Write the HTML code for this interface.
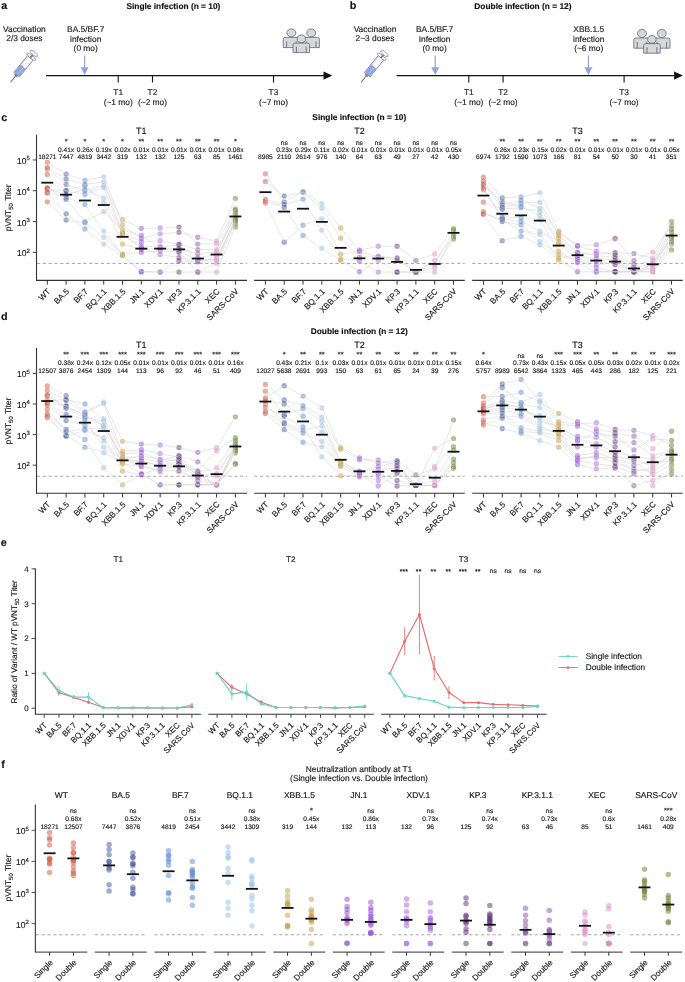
<!DOCTYPE html>
<html><head><meta charset="utf-8"><style>
html,body{margin:0;padding:0;background:#fff;width:685px;height:982px;overflow:hidden;}
svg{display:block;font-family:"Liberation Sans", sans-serif;text-rendering:geometricPrecision;will-change:transform;}
text{stroke:#1a1a1a;stroke-width:0.15px;}
</style></head><body>
<svg width="685" height="982" viewBox="0 0 685 982" font-family='"Liberation Sans", sans-serif'>
<rect width="685" height="982" fill="#fff"/>
<text x="1.30" y="8.90" font-size="10.8" text-anchor="start" font-weight="bold" fill="#111">a</text>
<text x="349.80" y="8.90" font-size="10.8" text-anchor="start" font-weight="bold" fill="#111">b</text>
<text x="1.30" y="120.60" font-size="10.8" text-anchor="start" font-weight="bold" fill="#111">c</text>
<text x="0.90" y="320.00" font-size="10.8" text-anchor="start" font-weight="bold" fill="#111">d</text>
<text x="0.70" y="545.60" font-size="10.8" text-anchor="start" font-weight="bold" fill="#111">e</text>
<text x="1.30" y="768.00" font-size="10.8" text-anchor="start" font-weight="bold" fill="#111">f</text>
<text x="173.40" y="9.00" font-size="8.35" text-anchor="middle" font-weight="bold" fill="#111">Single infection (n = 10)</text>
<text x="522.90" y="9.00" font-size="8.35" text-anchor="middle" font-weight="bold" fill="#111">Double infection (n = 12)</text>
<text x="24.40" y="31.60" font-size="8.4" text-anchor="middle" fill="#222">Vaccination</text>
<text x="24.40" y="41.40" font-size="8.4" text-anchor="middle" fill="#222">2/3 doses</text>
<g transform="translate(10.60 82.20) rotate(-51) scale(1.08)">
<line x1="0" y1="0" x2="8.5" y2="0" stroke="#5a6080" stroke-width="0.9"/>
<rect x="7.5" y="-1.4" width="1.6" height="2.8" fill="#7f8fc0" stroke="#55597a" stroke-width="0.5"/>
<rect x="9" y="-3.3" width="20" height="6.6" fill="#fbfbfd" stroke="#55597a" stroke-width="0.6"/>
<rect x="9.3" y="-3.0" width="9.3" height="6.0" fill="#8ea6da"/>
<line x1="11" y1="0.6" x2="17.5" y2="0.6" stroke="#c9d4f0" stroke-width="0.7"/>
<line x1="19.5" y1="-3.2" x2="19.5" y2="-1.6" stroke="#8088a8" stroke-width="0.4"/>
<line x1="21.5" y1="-3.2" x2="21.5" y2="-1.6" stroke="#8088a8" stroke-width="0.4"/>
<line x1="23.5" y1="-3.2" x2="23.5" y2="-1.6" stroke="#8088a8" stroke-width="0.4"/>
<line x1="25.5" y1="-3.2" x2="25.5" y2="-1.6" stroke="#8088a8" stroke-width="0.4"/>
<line x1="27.5" y1="-3.2" x2="27.5" y2="-1.6" stroke="#8088a8" stroke-width="0.4"/>
<ellipse cx="30.3" cy="0" rx="1.4" ry="5.0" fill="#f4f4f6" stroke="#7a7c88" stroke-width="0.6"/>
<line x1="29" y1="0" x2="34" y2="0" stroke="#7a7c88" stroke-width="1.6"/>
<ellipse cx="34.2" cy="0" rx="1.6" ry="4.2" fill="#f4f4f6" stroke="#7a7c88" stroke-width="0.6"/>
</g>
<text x="85.70" y="31.60" font-size="8.4" text-anchor="middle" fill="#222">BA.5/BF.7</text>
<text x="85.70" y="41.50" font-size="8.4" text-anchor="middle" fill="#222">infection</text>
<text x="85.70" y="51.40" font-size="8.4" text-anchor="middle" fill="#222">(0 mo)</text>
<line x1="84.60" y1="55.40" x2="84.60" y2="68.00" stroke="#8ea6da" stroke-width="1.2"/>
<path d="M80.60,67.20 L88.60,67.20 L84.60,75.00 Z" fill="#8ea6da"/>
<line x1="46.00" y1="75.6" x2="325.00" y2="75.6" stroke="#111" stroke-width="1.3"/>
<path d="M323.50,71.4 L332.30,75.6 L323.50,79.8 Z" fill="#111"/>
<line x1="118.20" y1="75.60" x2="118.20" y2="82.50" stroke="#111" stroke-width="1.1"/>
<text x="118.20" y="94.70" font-size="8.4" text-anchor="middle" fill="#222">T1</text>
<text x="118.20" y="104.70" font-size="8.4" text-anchor="middle" fill="#222">(~1 mo)</text>
<line x1="152.50" y1="75.60" x2="152.50" y2="82.50" stroke="#111" stroke-width="1.1"/>
<text x="152.50" y="94.70" font-size="8.4" text-anchor="middle" fill="#222">T2</text>
<text x="152.50" y="104.70" font-size="8.4" text-anchor="middle" fill="#222">(~2 mo)</text>
<line x1="273.50" y1="75.60" x2="273.50" y2="82.50" stroke="#111" stroke-width="1.1"/>
<text x="273.50" y="94.70" font-size="8.4" text-anchor="middle" fill="#222">T3</text>
<text x="273.50" y="104.70" font-size="8.4" text-anchor="middle" fill="#222">(~7 mo)</text>
<g transform="translate(0 0)">
<path d="M283.20,47.6 L283.20,39.2 Q283.20,37.4 285.00,37.4 L297.80,37.4 Q299.60,37.4 299.60,39.2 L299.60,47.6 Z" fill="#d6d7d9" stroke="#5b5e72" stroke-width="0.75" transform="translate(0 0)"/>
<ellipse cx="291.40" cy="32.9" rx="4.45" ry="4.0" fill="#d6d7d9" stroke="#5b5e72" stroke-width="0.75"/>
<line x1="286.60" y1="41.3" x2="286.60" y2="47.6" stroke="#5b5e72" stroke-width="0.8"/>
<line x1="296.20" y1="41.3" x2="296.20" y2="47.6" stroke="#5b5e72" stroke-width="0.8"/>
<path d="M303.00,47.6 L303.00,39.2 Q303.00,37.4 304.80,37.4 L317.60,37.4 Q319.40,37.4 319.40,39.2 L319.40,47.6 Z" fill="#d6d7d9" stroke="#5b5e72" stroke-width="0.75" transform="translate(0 0)"/>
<ellipse cx="311.20" cy="32.9" rx="4.45" ry="4.0" fill="#d6d7d9" stroke="#5b5e72" stroke-width="0.75"/>
<line x1="306.40" y1="41.3" x2="306.40" y2="47.6" stroke="#5b5e72" stroke-width="0.8"/>
<line x1="316.00" y1="41.3" x2="316.00" y2="47.6" stroke="#5b5e72" stroke-width="0.8"/>
<path d="M293.00,52.6 L293.00,44.9 Q293.00,43.1 294.80,43.1 L307.80,43.1 Q309.60,43.1 309.60,44.9 L309.60,52.6 Z" fill="#d6d7d9" stroke="#5b5e72" stroke-width="0.75"/>
<ellipse cx="301.30" cy="38.8" rx="4.2" ry="3.8" fill="#d6d7d9" stroke="#5b5e72" stroke-width="0.75"/>
<line x1="296.40" y1="46.6" x2="296.40" y2="52.6" stroke="#5b5e72" stroke-width="0.8"/>
<line x1="306.20" y1="46.6" x2="306.20" y2="52.6" stroke="#5b5e72" stroke-width="0.8"/>
</g>
<text x="375.00" y="31.60" font-size="8.4" text-anchor="middle" fill="#222">Vaccination</text>
<text x="375.00" y="41.40" font-size="8.4" text-anchor="middle" fill="#222">2~3 doses</text>
<g transform="translate(361.20 82.20) rotate(-51) scale(1.08)">
<line x1="0" y1="0" x2="8.5" y2="0" stroke="#5a6080" stroke-width="0.9"/>
<rect x="7.5" y="-1.4" width="1.6" height="2.8" fill="#7f8fc0" stroke="#55597a" stroke-width="0.5"/>
<rect x="9" y="-3.3" width="20" height="6.6" fill="#fbfbfd" stroke="#55597a" stroke-width="0.6"/>
<rect x="9.3" y="-3.0" width="9.3" height="6.0" fill="#8ea6da"/>
<line x1="11" y1="0.6" x2="17.5" y2="0.6" stroke="#c9d4f0" stroke-width="0.7"/>
<line x1="19.5" y1="-3.2" x2="19.5" y2="-1.6" stroke="#8088a8" stroke-width="0.4"/>
<line x1="21.5" y1="-3.2" x2="21.5" y2="-1.6" stroke="#8088a8" stroke-width="0.4"/>
<line x1="23.5" y1="-3.2" x2="23.5" y2="-1.6" stroke="#8088a8" stroke-width="0.4"/>
<line x1="25.5" y1="-3.2" x2="25.5" y2="-1.6" stroke="#8088a8" stroke-width="0.4"/>
<line x1="27.5" y1="-3.2" x2="27.5" y2="-1.6" stroke="#8088a8" stroke-width="0.4"/>
<ellipse cx="30.3" cy="0" rx="1.4" ry="5.0" fill="#f4f4f6" stroke="#7a7c88" stroke-width="0.6"/>
<line x1="29" y1="0" x2="34" y2="0" stroke="#7a7c88" stroke-width="1.6"/>
<ellipse cx="34.2" cy="0" rx="1.6" ry="4.2" fill="#f4f4f6" stroke="#7a7c88" stroke-width="0.6"/>
</g>
<text x="434.60" y="31.60" font-size="8.4" text-anchor="middle" fill="#222">BA.5/BF.7</text>
<text x="434.60" y="41.50" font-size="8.4" text-anchor="middle" fill="#222">Infection</text>
<text x="434.60" y="51.40" font-size="8.4" text-anchor="middle" fill="#222">(0 mo)</text>
<line x1="435.20" y1="55.40" x2="435.20" y2="68.00" stroke="#8ea6da" stroke-width="1.2"/>
<path d="M431.20,67.20 L439.20,67.20 L435.20,75.00 Z" fill="#8ea6da"/>
<line x1="396.60" y1="75.6" x2="675.60" y2="75.6" stroke="#111" stroke-width="1.3"/>
<path d="M674.10,71.4 L682.90,75.6 L674.10,79.8 Z" fill="#111"/>
<line x1="468.80" y1="75.60" x2="468.80" y2="82.50" stroke="#111" stroke-width="1.1"/>
<text x="468.80" y="94.70" font-size="8.4" text-anchor="middle" fill="#222">T1</text>
<text x="468.80" y="104.70" font-size="8.4" text-anchor="middle" fill="#222">(~1 mo)</text>
<line x1="503.10" y1="75.60" x2="503.10" y2="82.50" stroke="#111" stroke-width="1.1"/>
<text x="503.10" y="94.70" font-size="8.4" text-anchor="middle" fill="#222">T2</text>
<text x="503.10" y="104.70" font-size="8.4" text-anchor="middle" fill="#222">(~2 mo)</text>
<line x1="624.10" y1="75.60" x2="624.10" y2="82.50" stroke="#111" stroke-width="1.1"/>
<text x="624.10" y="94.70" font-size="8.4" text-anchor="middle" fill="#222">T3</text>
<text x="624.10" y="104.70" font-size="8.4" text-anchor="middle" fill="#222">(~7 mo)</text>
<g transform="translate(0 0.6)">
<path d="M283.20,47.6 L283.20,39.2 Q283.20,37.4 285.00,37.4 L297.80,37.4 Q299.60,37.4 299.60,39.2 L299.60,47.6 Z" fill="#d6d7d9" stroke="#5b5e72" stroke-width="0.75" transform="translate(350.6 0)"/>
<ellipse cx="642.00" cy="32.9" rx="4.45" ry="4.0" fill="#d6d7d9" stroke="#5b5e72" stroke-width="0.75"/>
<line x1="637.20" y1="41.3" x2="637.20" y2="47.6" stroke="#5b5e72" stroke-width="0.8"/>
<line x1="646.80" y1="41.3" x2="646.80" y2="47.6" stroke="#5b5e72" stroke-width="0.8"/>
<path d="M303.00,47.6 L303.00,39.2 Q303.00,37.4 304.80,37.4 L317.60,37.4 Q319.40,37.4 319.40,39.2 L319.40,47.6 Z" fill="#d6d7d9" stroke="#5b5e72" stroke-width="0.75" transform="translate(350.6 0)"/>
<ellipse cx="661.80" cy="32.9" rx="4.45" ry="4.0" fill="#d6d7d9" stroke="#5b5e72" stroke-width="0.75"/>
<line x1="657.00" y1="41.3" x2="657.00" y2="47.6" stroke="#5b5e72" stroke-width="0.8"/>
<line x1="666.60" y1="41.3" x2="666.60" y2="47.6" stroke="#5b5e72" stroke-width="0.8"/>
<path d="M643.60,52.6 L643.60,44.9 Q643.60,43.1 645.40,43.1 L658.40,43.1 Q660.20,43.1 660.20,44.9 L660.20,52.6 Z" fill="#d6d7d9" stroke="#5b5e72" stroke-width="0.75"/>
<ellipse cx="651.90" cy="38.8" rx="4.2" ry="3.8" fill="#d6d7d9" stroke="#5b5e72" stroke-width="0.75"/>
<line x1="647.00" y1="46.6" x2="647.00" y2="52.6" stroke="#5b5e72" stroke-width="0.8"/>
<line x1="656.80" y1="46.6" x2="656.80" y2="52.6" stroke="#5b5e72" stroke-width="0.8"/>
</g>
<text x="588.70" y="31.60" font-size="8.4" text-anchor="middle" fill="#222">XBB.1.5</text>
<text x="588.70" y="41.50" font-size="8.4" text-anchor="middle" fill="#222">infection</text>
<text x="588.70" y="51.40" font-size="8.4" text-anchor="middle" fill="#222">(~6 mo)</text>
<line x1="588.40" y1="55.40" x2="588.40" y2="68.00" stroke="#8ea6da" stroke-width="1.2"/>
<path d="M584.40,67.20 L592.40,67.20 L588.40,75.00 Z" fill="#8ea6da"/>
<text x="359.30" y="120.40" font-size="8.35" text-anchor="middle" font-weight="bold" fill="#111">Single infection (n = 10)</text>
<text font-size="8.4" text-anchor="middle" fill="#222" transform="translate(11.00 207.80) rotate(-90)">pVNT<tspan font-size="6.05" dy="2">50</tspan><tspan dy="-2"> Titer</tspan></text>
<line x1="37.00" y1="263.44" x2="247.10" y2="263.44" stroke="#9c9c9c" stroke-width="0.9" stroke-dasharray="3.2 2.6"/>
<circle cx="47.30" cy="162.11" r="2.65" fill="#cf5a44" fill-opacity="0.5"/>
<circle cx="47.30" cy="167.34" r="2.65" fill="#cf5a44" fill-opacity="0.5"/>
<circle cx="47.30" cy="169.19" r="2.65" fill="#cf5a44" fill-opacity="0.5"/>
<circle cx="47.30" cy="174.43" r="2.65" fill="#cf5a44" fill-opacity="0.5"/>
<circle cx="47.30" cy="187.67" r="2.65" fill="#cf5a44" fill-opacity="0.5"/>
<circle cx="47.30" cy="188.29" r="2.65" fill="#cf5a44" fill-opacity="0.5"/>
<circle cx="47.30" cy="189.21" r="2.65" fill="#cf5a44" fill-opacity="0.5"/>
<circle cx="47.30" cy="193.21" r="2.65" fill="#cf5a44" fill-opacity="0.5"/>
<circle cx="47.30" cy="201.84" r="2.65" fill="#cf5a44" fill-opacity="0.5"/>
<circle cx="47.30" cy="192.29" r="2.65" fill="#cf5a44" fill-opacity="0.5"/>
<circle cx="66.11" cy="174.12" r="2.65" fill="#3f56a0" fill-opacity="0.5"/>
<circle cx="66.11" cy="179.05" r="2.65" fill="#3f56a0" fill-opacity="0.5"/>
<circle cx="66.11" cy="184.28" r="2.65" fill="#3f56a0" fill-opacity="0.5"/>
<circle cx="66.11" cy="190.75" r="2.65" fill="#3f56a0" fill-opacity="0.5"/>
<circle cx="66.11" cy="190.75" r="2.65" fill="#3f56a0" fill-opacity="0.5"/>
<circle cx="66.11" cy="194.75" r="2.65" fill="#3f56a0" fill-opacity="0.5"/>
<circle cx="66.11" cy="197.22" r="2.65" fill="#3f56a0" fill-opacity="0.5"/>
<circle cx="66.11" cy="199.37" r="2.65" fill="#3f56a0" fill-opacity="0.5"/>
<circle cx="66.11" cy="213.85" r="2.65" fill="#3f56a0" fill-opacity="0.5"/>
<circle cx="66.11" cy="220.01" r="2.65" fill="#3f56a0" fill-opacity="0.5"/>
<circle cx="84.92" cy="180.28" r="2.65" fill="#5a88d0" fill-opacity="0.5"/>
<circle cx="84.92" cy="184.59" r="2.65" fill="#5a88d0" fill-opacity="0.5"/>
<circle cx="84.92" cy="185.21" r="2.65" fill="#5a88d0" fill-opacity="0.5"/>
<circle cx="84.92" cy="189.21" r="2.65" fill="#5a88d0" fill-opacity="0.5"/>
<circle cx="84.92" cy="190.75" r="2.65" fill="#5a88d0" fill-opacity="0.5"/>
<circle cx="84.92" cy="194.45" r="2.65" fill="#5a88d0" fill-opacity="0.5"/>
<circle cx="84.92" cy="204.61" r="2.65" fill="#5a88d0" fill-opacity="0.5"/>
<circle cx="84.92" cy="221.55" r="2.65" fill="#5a88d0" fill-opacity="0.5"/>
<circle cx="84.92" cy="222.78" r="2.65" fill="#5a88d0" fill-opacity="0.5"/>
<circle cx="84.92" cy="228.94" r="2.65" fill="#5a88d0" fill-opacity="0.5"/>
<circle cx="103.73" cy="176.58" r="2.65" fill="#94bfe6" fill-opacity="0.5"/>
<circle cx="103.73" cy="181.82" r="2.65" fill="#94bfe6" fill-opacity="0.5"/>
<circle cx="103.73" cy="185.82" r="2.65" fill="#94bfe6" fill-opacity="0.5"/>
<circle cx="103.73" cy="187.67" r="2.65" fill="#94bfe6" fill-opacity="0.5"/>
<circle cx="103.73" cy="197.83" r="2.65" fill="#94bfe6" fill-opacity="0.5"/>
<circle cx="103.73" cy="202.76" r="2.65" fill="#94bfe6" fill-opacity="0.5"/>
<circle cx="103.73" cy="211.69" r="2.65" fill="#94bfe6" fill-opacity="0.5"/>
<circle cx="103.73" cy="231.10" r="2.65" fill="#94bfe6" fill-opacity="0.5"/>
<circle cx="103.73" cy="237.26" r="2.65" fill="#94bfe6" fill-opacity="0.5"/>
<circle cx="103.73" cy="244.03" r="2.65" fill="#94bfe6" fill-opacity="0.5"/>
<circle cx="122.54" cy="219.70" r="2.65" fill="#c89a3c" fill-opacity="0.5"/>
<circle cx="122.54" cy="224.94" r="2.65" fill="#c89a3c" fill-opacity="0.5"/>
<circle cx="122.54" cy="229.87" r="2.65" fill="#c89a3c" fill-opacity="0.5"/>
<circle cx="122.54" cy="232.33" r="2.65" fill="#c89a3c" fill-opacity="0.5"/>
<circle cx="122.54" cy="233.87" r="2.65" fill="#c89a3c" fill-opacity="0.5"/>
<circle cx="122.54" cy="234.49" r="2.65" fill="#c89a3c" fill-opacity="0.5"/>
<circle cx="122.54" cy="244.03" r="2.65" fill="#c89a3c" fill-opacity="0.5"/>
<circle cx="122.54" cy="253.89" r="2.65" fill="#c89a3c" fill-opacity="0.5"/>
<circle cx="122.54" cy="254.81" r="2.65" fill="#c89a3c" fill-opacity="0.5"/>
<circle cx="122.54" cy="255.74" r="2.65" fill="#c89a3c" fill-opacity="0.5"/>
<circle cx="141.35" cy="228.33" r="2.65" fill="#9346d6" fill-opacity="0.5"/>
<circle cx="141.35" cy="235.41" r="2.65" fill="#9346d6" fill-opacity="0.5"/>
<circle cx="141.35" cy="238.49" r="2.65" fill="#9346d6" fill-opacity="0.5"/>
<circle cx="141.35" cy="241.88" r="2.65" fill="#9346d6" fill-opacity="0.5"/>
<circle cx="141.35" cy="246.19" r="2.65" fill="#9346d6" fill-opacity="0.5"/>
<circle cx="141.35" cy="248.04" r="2.65" fill="#9346d6" fill-opacity="0.5"/>
<circle cx="141.35" cy="249.27" r="2.65" fill="#9346d6" fill-opacity="0.5"/>
<circle cx="141.35" cy="252.35" r="2.65" fill="#9346d6" fill-opacity="0.5"/>
<circle cx="141.35" cy="271.75" r="2.65" fill="#9346d6" fill-opacity="0.5"/>
<circle cx="141.35" cy="271.75" r="2.65" fill="#9346d6" fill-opacity="0.5"/>
<circle cx="160.16" cy="228.02" r="2.65" fill="#a464dc" fill-opacity="0.5"/>
<circle cx="160.16" cy="233.87" r="2.65" fill="#a464dc" fill-opacity="0.5"/>
<circle cx="160.16" cy="240.65" r="2.65" fill="#a464dc" fill-opacity="0.5"/>
<circle cx="160.16" cy="246.50" r="2.65" fill="#a464dc" fill-opacity="0.5"/>
<circle cx="160.16" cy="247.73" r="2.65" fill="#a464dc" fill-opacity="0.5"/>
<circle cx="160.16" cy="248.65" r="2.65" fill="#a464dc" fill-opacity="0.5"/>
<circle cx="160.16" cy="250.81" r="2.65" fill="#a464dc" fill-opacity="0.5"/>
<circle cx="160.16" cy="254.51" r="2.65" fill="#a464dc" fill-opacity="0.5"/>
<circle cx="160.16" cy="272.06" r="2.65" fill="#a464dc" fill-opacity="0.5"/>
<circle cx="160.16" cy="272.06" r="2.65" fill="#a464dc" fill-opacity="0.5"/>
<circle cx="178.97" cy="227.09" r="2.65" fill="#5e2a78" fill-opacity="0.5"/>
<circle cx="178.97" cy="232.33" r="2.65" fill="#5e2a78" fill-opacity="0.5"/>
<circle cx="178.97" cy="244.03" r="2.65" fill="#5e2a78" fill-opacity="0.5"/>
<circle cx="178.97" cy="245.27" r="2.65" fill="#5e2a78" fill-opacity="0.5"/>
<circle cx="178.97" cy="248.96" r="2.65" fill="#5e2a78" fill-opacity="0.5"/>
<circle cx="178.97" cy="250.81" r="2.65" fill="#5e2a78" fill-opacity="0.5"/>
<circle cx="178.97" cy="252.35" r="2.65" fill="#5e2a78" fill-opacity="0.5"/>
<circle cx="178.97" cy="257.59" r="2.65" fill="#5e2a78" fill-opacity="0.5"/>
<circle cx="178.97" cy="260.97" r="2.65" fill="#5e2a78" fill-opacity="0.5"/>
<circle cx="178.97" cy="272.06" r="2.65" fill="#5e2a78" fill-opacity="0.5"/>
<circle cx="197.78" cy="237.26" r="2.65" fill="#8a52a6" fill-opacity="0.5"/>
<circle cx="197.78" cy="244.03" r="2.65" fill="#8a52a6" fill-opacity="0.5"/>
<circle cx="197.78" cy="249.58" r="2.65" fill="#8a52a6" fill-opacity="0.5"/>
<circle cx="197.78" cy="253.89" r="2.65" fill="#8a52a6" fill-opacity="0.5"/>
<circle cx="197.78" cy="258.20" r="2.65" fill="#8a52a6" fill-opacity="0.5"/>
<circle cx="197.78" cy="260.36" r="2.65" fill="#8a52a6" fill-opacity="0.5"/>
<circle cx="197.78" cy="260.97" r="2.65" fill="#8a52a6" fill-opacity="0.5"/>
<circle cx="197.78" cy="261.90" r="2.65" fill="#8a52a6" fill-opacity="0.5"/>
<circle cx="197.78" cy="272.06" r="2.65" fill="#8a52a6" fill-opacity="0.5"/>
<circle cx="197.78" cy="272.06" r="2.65" fill="#8a52a6" fill-opacity="0.5"/>
<circle cx="216.59" cy="240.95" r="2.65" fill="#e08cc8" fill-opacity="0.5"/>
<circle cx="216.59" cy="243.73" r="2.65" fill="#e08cc8" fill-opacity="0.5"/>
<circle cx="216.59" cy="249.58" r="2.65" fill="#e08cc8" fill-opacity="0.5"/>
<circle cx="216.59" cy="251.43" r="2.65" fill="#e08cc8" fill-opacity="0.5"/>
<circle cx="216.59" cy="254.51" r="2.65" fill="#e08cc8" fill-opacity="0.5"/>
<circle cx="216.59" cy="258.51" r="2.65" fill="#e08cc8" fill-opacity="0.5"/>
<circle cx="216.59" cy="258.82" r="2.65" fill="#e08cc8" fill-opacity="0.5"/>
<circle cx="216.59" cy="260.97" r="2.65" fill="#e08cc8" fill-opacity="0.5"/>
<circle cx="216.59" cy="263.13" r="2.65" fill="#e08cc8" fill-opacity="0.5"/>
<circle cx="216.59" cy="272.06" r="2.65" fill="#e08cc8" fill-opacity="0.5"/>
<circle cx="235.40" cy="198.45" r="2.65" fill="#6a7f30" fill-opacity="0.5"/>
<circle cx="235.40" cy="208.92" r="2.65" fill="#6a7f30" fill-opacity="0.5"/>
<circle cx="235.40" cy="210.77" r="2.65" fill="#6a7f30" fill-opacity="0.5"/>
<circle cx="235.40" cy="213.23" r="2.65" fill="#6a7f30" fill-opacity="0.5"/>
<circle cx="235.40" cy="216.01" r="2.65" fill="#6a7f30" fill-opacity="0.5"/>
<circle cx="235.40" cy="218.47" r="2.65" fill="#6a7f30" fill-opacity="0.5"/>
<circle cx="235.40" cy="220.01" r="2.65" fill="#6a7f30" fill-opacity="0.5"/>
<circle cx="235.40" cy="220.93" r="2.65" fill="#6a7f30" fill-opacity="0.5"/>
<circle cx="235.40" cy="223.71" r="2.65" fill="#6a7f30" fill-opacity="0.5"/>
<circle cx="235.40" cy="227.09" r="2.65" fill="#6a7f30" fill-opacity="0.5"/>
<polyline points="47.30,162.11 66.11,174.12 84.92,180.28 103.73,176.58 122.54,224.94 141.35,238.49 160.16,233.87 178.97,232.33 197.78,237.26 216.59,240.95 235.40,198.45" fill="none" stroke="#d2d2d2" stroke-width="0.6" stroke-opacity="0.9"/>
<polyline points="47.30,167.34 66.11,179.05 84.92,184.59 103.73,181.82 122.54,232.33 141.35,241.88 160.16,240.65 178.97,244.03 197.78,249.58 216.59,249.58 235.40,210.77" fill="none" stroke="#d2d2d2" stroke-width="0.6" stroke-opacity="0.9"/>
<polyline points="47.30,169.19 66.11,184.28 84.92,190.75 103.73,185.82 122.54,219.70 141.35,228.33 160.16,228.02 178.97,227.09 197.78,244.03 216.59,243.73 235.40,208.92" fill="none" stroke="#d2d2d2" stroke-width="0.6" stroke-opacity="0.9"/>
<polyline points="47.30,189.21 66.11,190.75 84.92,194.45 103.73,187.67 122.54,234.49 141.35,246.19 160.16,246.50 178.97,245.27 197.78,258.20 216.59,254.51 235.40,213.23" fill="none" stroke="#d2d2d2" stroke-width="0.6" stroke-opacity="0.9"/>
<polyline points="47.30,187.67 66.11,199.37 84.92,221.55 103.73,211.69 122.54,229.87 141.35,235.41 160.16,247.73 178.97,248.96 197.78,253.89 216.59,251.43 235.40,216.01" fill="none" stroke="#d2d2d2" stroke-width="0.6" stroke-opacity="0.9"/>
<polyline points="47.30,188.29 66.11,194.75 84.92,189.21 103.73,197.83 122.54,233.87 141.35,248.04 160.16,254.51 178.97,257.59 197.78,260.97 216.59,260.97 235.40,220.93" fill="none" stroke="#d2d2d2" stroke-width="0.6" stroke-opacity="0.9"/>
<polyline points="47.30,174.43 66.11,190.75 84.92,185.21 103.73,202.76 122.54,244.03 141.35,249.27 160.16,248.65 178.97,250.81 197.78,260.36 216.59,258.82 235.40,220.01" fill="none" stroke="#d2d2d2" stroke-width="0.6" stroke-opacity="0.9"/>
<polyline points="47.30,192.29 66.11,197.22 84.92,204.61 103.73,231.10 122.54,254.81 141.35,271.75 160.16,272.06 178.97,260.97 197.78,261.90 216.59,258.51 235.40,218.47" fill="none" stroke="#d2d2d2" stroke-width="0.6" stroke-opacity="0.9"/>
<polyline points="47.30,201.84 66.11,220.01 84.92,222.78 103.73,237.26 122.54,253.89 141.35,252.35 160.16,250.81 178.97,252.35 197.78,272.06 216.59,263.13 235.40,223.71" fill="none" stroke="#d2d2d2" stroke-width="0.6" stroke-opacity="0.9"/>
<polyline points="47.30,193.21 66.11,213.85 84.92,228.94 103.73,244.03 122.54,255.74 141.35,271.75 160.16,272.06 178.97,272.06 197.78,272.06 216.59,272.06 235.40,227.09" fill="none" stroke="#d2d2d2" stroke-width="0.6" stroke-opacity="0.9"/>
<line x1="41.30" y1="182.69" x2="53.30" y2="182.69" stroke="#111" stroke-width="1.8"/>
<line x1="60.11" y1="194.69" x2="72.11" y2="194.69" stroke="#111" stroke-width="1.8"/>
<line x1="78.92" y1="200.51" x2="90.92" y2="200.51" stroke="#111" stroke-width="1.8"/>
<line x1="97.73" y1="205.02" x2="109.73" y2="205.02" stroke="#111" stroke-width="1.8"/>
<line x1="116.54" y1="236.83" x2="128.54" y2="236.83" stroke="#111" stroke-width="1.8"/>
<line x1="135.35" y1="248.64" x2="147.35" y2="248.64" stroke="#111" stroke-width="1.8"/>
<line x1="154.16" y1="248.64" x2="166.16" y2="248.64" stroke="#111" stroke-width="1.8"/>
<line x1="172.97" y1="249.37" x2="184.97" y2="249.37" stroke="#111" stroke-width="1.8"/>
<line x1="191.78" y1="258.53" x2="203.78" y2="258.53" stroke="#111" stroke-width="1.8"/>
<line x1="210.59" y1="254.52" x2="222.59" y2="254.52" stroke="#111" stroke-width="1.8"/>
<line x1="229.40" y1="216.48" x2="241.40" y2="216.48" stroke="#111" stroke-width="1.8"/>
<text x="47.30" y="159.40" font-size="6.6" text-anchor="middle" fill="#111">18271</text>
<text x="66.11" y="144.10" font-size="7.4" text-anchor="middle" fill="#111">*</text>
<text x="66.11" y="151.70" font-size="6.6" text-anchor="middle" fill="#111">0.41x</text>
<text x="66.11" y="159.40" font-size="6.6" text-anchor="middle" fill="#111">7447</text>
<text x="84.92" y="144.10" font-size="7.4" text-anchor="middle" fill="#111">*</text>
<text x="84.92" y="151.70" font-size="6.6" text-anchor="middle" fill="#111">0.26x</text>
<text x="84.92" y="159.40" font-size="6.6" text-anchor="middle" fill="#111">4819</text>
<text x="103.73" y="144.10" font-size="7.4" text-anchor="middle" fill="#111">*</text>
<text x="103.73" y="151.70" font-size="6.6" text-anchor="middle" fill="#111">0.19x</text>
<text x="103.73" y="159.40" font-size="6.6" text-anchor="middle" fill="#111">3442</text>
<text x="122.54" y="144.10" font-size="7.4" text-anchor="middle" fill="#111">*</text>
<text x="122.54" y="151.70" font-size="6.6" text-anchor="middle" fill="#111">0.02x</text>
<text x="122.54" y="159.40" font-size="6.6" text-anchor="middle" fill="#111">319</text>
<text x="141.35" y="144.10" font-size="7.4" text-anchor="middle" fill="#111">**</text>
<text x="141.35" y="151.70" font-size="6.6" text-anchor="middle" fill="#111">0.01x</text>
<text x="141.35" y="159.40" font-size="6.6" text-anchor="middle" fill="#111">132</text>
<text x="160.16" y="144.10" font-size="7.4" text-anchor="middle" fill="#111">**</text>
<text x="160.16" y="151.70" font-size="6.6" text-anchor="middle" fill="#111">0.01x</text>
<text x="160.16" y="159.40" font-size="6.6" text-anchor="middle" fill="#111">132</text>
<text x="178.97" y="144.10" font-size="7.4" text-anchor="middle" fill="#111">**</text>
<text x="178.97" y="151.70" font-size="6.6" text-anchor="middle" fill="#111">0.01x</text>
<text x="178.97" y="159.40" font-size="6.6" text-anchor="middle" fill="#111">125</text>
<text x="197.78" y="144.10" font-size="7.4" text-anchor="middle" fill="#111">**</text>
<text x="197.78" y="151.70" font-size="6.6" text-anchor="middle" fill="#111">0.01x</text>
<text x="197.78" y="159.40" font-size="6.6" text-anchor="middle" fill="#111">63</text>
<text x="216.59" y="144.10" font-size="7.4" text-anchor="middle" fill="#111">**</text>
<text x="216.59" y="151.70" font-size="6.6" text-anchor="middle" fill="#111">0.01x</text>
<text x="216.59" y="159.40" font-size="6.6" text-anchor="middle" fill="#111">85</text>
<text x="235.40" y="144.10" font-size="7.4" text-anchor="middle" fill="#111">*</text>
<text x="235.40" y="151.70" font-size="6.6" text-anchor="middle" fill="#111">0.08x</text>
<text x="235.40" y="159.40" font-size="6.6" text-anchor="middle" fill="#111">1461</text>
<text x="141.35" y="134.30" font-size="9" text-anchor="middle" fill="#111">T1</text>
<line x1="36.50" y1="280.40" x2="247.10" y2="280.40" stroke="#333" stroke-width="1.1"/>
<line x1="47.30" y1="280.40" x2="47.30" y2="284.60" stroke="#333" stroke-width="1.0"/>
<text font-size="8.2" text-anchor="end" fill="#222" transform="translate(50.90 292.00) rotate(-45)">WT</text>
<line x1="66.11" y1="280.40" x2="66.11" y2="284.60" stroke="#333" stroke-width="1.0"/>
<text font-size="8.2" text-anchor="end" fill="#222" transform="translate(69.71 292.00) rotate(-45)">BA.5</text>
<line x1="84.92" y1="280.40" x2="84.92" y2="284.60" stroke="#333" stroke-width="1.0"/>
<text font-size="8.2" text-anchor="end" fill="#222" transform="translate(88.52 292.00) rotate(-45)">BF.7</text>
<line x1="103.73" y1="280.40" x2="103.73" y2="284.60" stroke="#333" stroke-width="1.0"/>
<text font-size="8.2" text-anchor="end" fill="#222" transform="translate(107.33 292.00) rotate(-45)">BQ.1.1</text>
<line x1="122.54" y1="280.40" x2="122.54" y2="284.60" stroke="#333" stroke-width="1.0"/>
<text font-size="8.2" text-anchor="end" fill="#222" transform="translate(126.14 292.00) rotate(-45)">XBB.1.5</text>
<line x1="141.35" y1="280.40" x2="141.35" y2="284.60" stroke="#333" stroke-width="1.0"/>
<text font-size="8.2" text-anchor="end" fill="#222" transform="translate(144.95 292.00) rotate(-45)">JN.1</text>
<line x1="160.16" y1="280.40" x2="160.16" y2="284.60" stroke="#333" stroke-width="1.0"/>
<text font-size="8.2" text-anchor="end" fill="#222" transform="translate(163.76 292.00) rotate(-45)">XDV.1</text>
<line x1="178.97" y1="280.40" x2="178.97" y2="284.60" stroke="#333" stroke-width="1.0"/>
<text font-size="8.2" text-anchor="end" fill="#222" transform="translate(182.57 292.00) rotate(-45)">KP.3</text>
<line x1="197.78" y1="280.40" x2="197.78" y2="284.60" stroke="#333" stroke-width="1.0"/>
<text font-size="8.2" text-anchor="end" fill="#222" transform="translate(201.38 292.00) rotate(-45)">KP.3.1.1</text>
<line x1="216.59" y1="280.40" x2="216.59" y2="284.60" stroke="#333" stroke-width="1.0"/>
<text font-size="8.2" text-anchor="end" fill="#222" transform="translate(220.19 292.00) rotate(-45)">XEC</text>
<line x1="235.40" y1="280.40" x2="235.40" y2="284.60" stroke="#333" stroke-width="1.0"/>
<text font-size="8.2" text-anchor="end" fill="#222" transform="translate(239.00 292.00) rotate(-45)">SARS-CoV</text>
<line x1="36.50" y1="134.80" x2="36.50" y2="280.95" stroke="#333" stroke-width="1.1"/>
<line x1="32.70" y1="252.35" x2="36.50" y2="252.35" stroke="#333" stroke-width="0.9"/>
<text x="29.90" y="256.35" font-size="8.5" text-anchor="end" fill="#222">10<tspan font-size="5.95" dy="-3.6">2</tspan></text>
<line x1="32.70" y1="221.55" x2="36.50" y2="221.55" stroke="#333" stroke-width="0.9"/>
<text x="29.90" y="225.55" font-size="8.5" text-anchor="end" fill="#222">10<tspan font-size="5.95" dy="-3.6">3</tspan></text>
<line x1="32.70" y1="190.75" x2="36.50" y2="190.75" stroke="#333" stroke-width="0.9"/>
<text x="29.90" y="194.75" font-size="8.5" text-anchor="end" fill="#222">10<tspan font-size="5.95" dy="-3.6">4</tspan></text>
<line x1="32.70" y1="159.95" x2="36.50" y2="159.95" stroke="#333" stroke-width="0.9"/>
<text x="29.90" y="163.95" font-size="8.5" text-anchor="end" fill="#222">10<tspan font-size="5.95" dy="-3.6">5</tspan></text>
<line x1="254.20" y1="263.44" x2="464.80" y2="263.44" stroke="#9c9c9c" stroke-width="0.9" stroke-dasharray="3.2 2.6"/>
<circle cx="265.40" cy="173.81" r="2.65" fill="#cf5a44" fill-opacity="0.5"/>
<circle cx="265.40" cy="181.51" r="2.65" fill="#cf5a44" fill-opacity="0.5"/>
<circle cx="265.40" cy="199.37" r="2.65" fill="#cf5a44" fill-opacity="0.5"/>
<circle cx="265.40" cy="201.22" r="2.65" fill="#cf5a44" fill-opacity="0.5"/>
<circle cx="265.40" cy="203.07" r="2.65" fill="#cf5a44" fill-opacity="0.5"/>
<circle cx="284.21" cy="195.99" r="2.65" fill="#3f56a0" fill-opacity="0.5"/>
<circle cx="284.21" cy="202.15" r="2.65" fill="#3f56a0" fill-opacity="0.5"/>
<circle cx="284.21" cy="204.61" r="2.65" fill="#3f56a0" fill-opacity="0.5"/>
<circle cx="284.21" cy="207.38" r="2.65" fill="#3f56a0" fill-opacity="0.5"/>
<circle cx="284.21" cy="242.19" r="2.65" fill="#3f56a0" fill-opacity="0.5"/>
<circle cx="303.02" cy="191.67" r="2.65" fill="#5a88d0" fill-opacity="0.5"/>
<circle cx="303.02" cy="192.29" r="2.65" fill="#5a88d0" fill-opacity="0.5"/>
<circle cx="303.02" cy="199.07" r="2.65" fill="#5a88d0" fill-opacity="0.5"/>
<circle cx="303.02" cy="225.25" r="2.65" fill="#5a88d0" fill-opacity="0.5"/>
<circle cx="303.02" cy="235.41" r="2.65" fill="#5a88d0" fill-opacity="0.5"/>
<circle cx="321.83" cy="203.69" r="2.65" fill="#94bfe6" fill-opacity="0.5"/>
<circle cx="321.83" cy="208.31" r="2.65" fill="#94bfe6" fill-opacity="0.5"/>
<circle cx="321.83" cy="218.78" r="2.65" fill="#94bfe6" fill-opacity="0.5"/>
<circle cx="321.83" cy="230.17" r="2.65" fill="#94bfe6" fill-opacity="0.5"/>
<circle cx="321.83" cy="248.35" r="2.65" fill="#94bfe6" fill-opacity="0.5"/>
<circle cx="340.64" cy="228.02" r="2.65" fill="#c89a3c" fill-opacity="0.5"/>
<circle cx="340.64" cy="238.18" r="2.65" fill="#c89a3c" fill-opacity="0.5"/>
<circle cx="340.64" cy="254.20" r="2.65" fill="#c89a3c" fill-opacity="0.5"/>
<circle cx="340.64" cy="259.13" r="2.65" fill="#c89a3c" fill-opacity="0.5"/>
<circle cx="340.64" cy="260.36" r="2.65" fill="#c89a3c" fill-opacity="0.5"/>
<circle cx="359.45" cy="250.19" r="2.65" fill="#9346d6" fill-opacity="0.5"/>
<circle cx="359.45" cy="251.43" r="2.65" fill="#9346d6" fill-opacity="0.5"/>
<circle cx="359.45" cy="257.28" r="2.65" fill="#9346d6" fill-opacity="0.5"/>
<circle cx="359.45" cy="260.97" r="2.65" fill="#9346d6" fill-opacity="0.5"/>
<circle cx="359.45" cy="271.75" r="2.65" fill="#9346d6" fill-opacity="0.5"/>
<circle cx="378.26" cy="246.19" r="2.65" fill="#a464dc" fill-opacity="0.5"/>
<circle cx="378.26" cy="256.05" r="2.65" fill="#a464dc" fill-opacity="0.5"/>
<circle cx="378.26" cy="256.97" r="2.65" fill="#a464dc" fill-opacity="0.5"/>
<circle cx="378.26" cy="260.36" r="2.65" fill="#a464dc" fill-opacity="0.5"/>
<circle cx="378.26" cy="272.06" r="2.65" fill="#a464dc" fill-opacity="0.5"/>
<circle cx="397.07" cy="246.19" r="2.65" fill="#5e2a78" fill-opacity="0.5"/>
<circle cx="397.07" cy="257.89" r="2.65" fill="#5e2a78" fill-opacity="0.5"/>
<circle cx="397.07" cy="260.36" r="2.65" fill="#5e2a78" fill-opacity="0.5"/>
<circle cx="397.07" cy="272.06" r="2.65" fill="#5e2a78" fill-opacity="0.5"/>
<circle cx="397.07" cy="272.06" r="2.65" fill="#5e2a78" fill-opacity="0.5"/>
<circle cx="415.88" cy="260.36" r="2.65" fill="#8a52a6" fill-opacity="0.5"/>
<circle cx="415.88" cy="272.06" r="2.65" fill="#8a52a6" fill-opacity="0.5"/>
<circle cx="415.88" cy="272.06" r="2.65" fill="#8a52a6" fill-opacity="0.5"/>
<circle cx="415.88" cy="272.06" r="2.65" fill="#8a52a6" fill-opacity="0.5"/>
<circle cx="415.88" cy="272.06" r="2.65" fill="#8a52a6" fill-opacity="0.5"/>
<circle cx="434.69" cy="253.89" r="2.65" fill="#e08cc8" fill-opacity="0.5"/>
<circle cx="434.69" cy="260.36" r="2.65" fill="#e08cc8" fill-opacity="0.5"/>
<circle cx="434.69" cy="264.67" r="2.65" fill="#e08cc8" fill-opacity="0.5"/>
<circle cx="434.69" cy="267.75" r="2.65" fill="#e08cc8" fill-opacity="0.5"/>
<circle cx="434.69" cy="272.06" r="2.65" fill="#e08cc8" fill-opacity="0.5"/>
<circle cx="453.50" cy="228.63" r="2.65" fill="#6a7f30" fill-opacity="0.5"/>
<circle cx="453.50" cy="230.48" r="2.65" fill="#6a7f30" fill-opacity="0.5"/>
<circle cx="453.50" cy="234.18" r="2.65" fill="#6a7f30" fill-opacity="0.5"/>
<circle cx="453.50" cy="236.95" r="2.65" fill="#6a7f30" fill-opacity="0.5"/>
<circle cx="453.50" cy="239.11" r="2.65" fill="#6a7f30" fill-opacity="0.5"/>
<polyline points="265.40,173.81 284.21,202.15 303.02,191.67 321.83,203.69 340.64,228.02 359.45,250.19 378.26,246.19 397.07,246.19 415.88,260.36 434.69,253.89 453.50,228.63" fill="none" stroke="#d2d2d2" stroke-width="0.6" stroke-opacity="0.9"/>
<polyline points="265.40,181.51 284.21,195.99 303.02,192.29 321.83,208.31 340.64,238.18 359.45,257.28 378.26,256.05 397.07,260.36 415.88,272.06 434.69,260.36 453.50,236.95" fill="none" stroke="#d2d2d2" stroke-width="0.6" stroke-opacity="0.9"/>
<polyline points="265.40,199.37 284.21,204.61 303.02,199.07 321.83,230.17 340.64,259.13 359.45,260.97 378.26,272.06 397.07,272.06 415.88,272.06 434.69,272.06 453.50,234.18" fill="none" stroke="#d2d2d2" stroke-width="0.6" stroke-opacity="0.9"/>
<polyline points="265.40,203.07 284.21,242.19 303.02,225.25 321.83,218.78 340.64,254.20 359.45,251.43 378.26,256.97 397.07,257.89 415.88,272.06 434.69,264.67 453.50,230.48" fill="none" stroke="#d2d2d2" stroke-width="0.6" stroke-opacity="0.9"/>
<polyline points="265.40,201.22 284.21,207.38 303.02,235.41 321.83,248.35 340.64,260.36 359.45,271.75 378.26,260.36 397.07,272.06 415.88,272.06 434.69,267.75 453.50,239.11" fill="none" stroke="#d2d2d2" stroke-width="0.6" stroke-opacity="0.9"/>
<line x1="259.40" y1="192.18" x2="271.40" y2="192.18" stroke="#111" stroke-width="1.8"/>
<line x1="278.21" y1="211.56" x2="290.21" y2="211.56" stroke="#111" stroke-width="1.8"/>
<line x1="297.02" y1="208.70" x2="309.02" y2="208.70" stroke="#111" stroke-width="1.8"/>
<line x1="315.83" y1="221.87" x2="327.83" y2="221.87" stroke="#111" stroke-width="1.8"/>
<line x1="334.64" y1="247.85" x2="346.64" y2="247.85" stroke="#111" stroke-width="1.8"/>
<line x1="353.45" y1="258.32" x2="365.45" y2="258.32" stroke="#111" stroke-width="1.8"/>
<line x1="372.26" y1="258.53" x2="384.26" y2="258.53" stroke="#111" stroke-width="1.8"/>
<line x1="391.07" y1="261.89" x2="403.07" y2="261.89" stroke="#111" stroke-width="1.8"/>
<line x1="409.88" y1="269.86" x2="421.88" y2="269.86" stroke="#111" stroke-width="1.8"/>
<line x1="428.69" y1="263.95" x2="440.69" y2="263.95" stroke="#111" stroke-width="1.8"/>
<line x1="447.50" y1="232.84" x2="459.50" y2="232.84" stroke="#111" stroke-width="1.8"/>
<text x="265.40" y="159.40" font-size="6.6" text-anchor="middle" fill="#111">8985</text>
<text x="284.21" y="144.80" font-size="6.6" text-anchor="middle" fill="#111">ns</text>
<text x="284.21" y="151.70" font-size="6.6" text-anchor="middle" fill="#111">0.23x</text>
<text x="284.21" y="159.40" font-size="6.6" text-anchor="middle" fill="#111">2110</text>
<text x="303.02" y="144.80" font-size="6.6" text-anchor="middle" fill="#111">ns</text>
<text x="303.02" y="151.70" font-size="6.6" text-anchor="middle" fill="#111">0.29x</text>
<text x="303.02" y="159.40" font-size="6.6" text-anchor="middle" fill="#111">2614</text>
<text x="321.83" y="144.80" font-size="6.6" text-anchor="middle" fill="#111">ns</text>
<text x="321.83" y="151.70" font-size="6.6" text-anchor="middle" fill="#111">0.11x</text>
<text x="321.83" y="159.40" font-size="6.6" text-anchor="middle" fill="#111">976</text>
<text x="340.64" y="144.80" font-size="6.6" text-anchor="middle" fill="#111">ns</text>
<text x="340.64" y="151.70" font-size="6.6" text-anchor="middle" fill="#111">0.02x</text>
<text x="340.64" y="159.40" font-size="6.6" text-anchor="middle" fill="#111">140</text>
<text x="359.45" y="144.80" font-size="6.6" text-anchor="middle" fill="#111">ns</text>
<text x="359.45" y="151.70" font-size="6.6" text-anchor="middle" fill="#111">0.01x</text>
<text x="359.45" y="159.40" font-size="6.6" text-anchor="middle" fill="#111">64</text>
<text x="378.26" y="144.80" font-size="6.6" text-anchor="middle" fill="#111">ns</text>
<text x="378.26" y="151.70" font-size="6.6" text-anchor="middle" fill="#111">0.01x</text>
<text x="378.26" y="159.40" font-size="6.6" text-anchor="middle" fill="#111">63</text>
<text x="397.07" y="144.80" font-size="6.6" text-anchor="middle" fill="#111">ns</text>
<text x="397.07" y="151.70" font-size="6.6" text-anchor="middle" fill="#111">0.01x</text>
<text x="397.07" y="159.40" font-size="6.6" text-anchor="middle" fill="#111">49</text>
<text x="415.88" y="144.80" font-size="6.6" text-anchor="middle" fill="#111">ns</text>
<text x="415.88" y="151.70" font-size="6.6" text-anchor="middle" fill="#111">0.01x</text>
<text x="415.88" y="159.40" font-size="6.6" text-anchor="middle" fill="#111">27</text>
<text x="434.69" y="144.80" font-size="6.6" text-anchor="middle" fill="#111">ns</text>
<text x="434.69" y="151.70" font-size="6.6" text-anchor="middle" fill="#111">0.01x</text>
<text x="434.69" y="159.40" font-size="6.6" text-anchor="middle" fill="#111">42</text>
<text x="453.50" y="144.80" font-size="6.6" text-anchor="middle" fill="#111">ns</text>
<text x="453.50" y="151.70" font-size="6.6" text-anchor="middle" fill="#111">0.05x</text>
<text x="453.50" y="159.40" font-size="6.6" text-anchor="middle" fill="#111">430</text>
<text x="359.45" y="134.30" font-size="9" text-anchor="middle" fill="#111">T2</text>
<line x1="254.20" y1="280.40" x2="464.80" y2="280.40" stroke="#333" stroke-width="1.1"/>
<line x1="265.40" y1="280.40" x2="265.40" y2="284.60" stroke="#333" stroke-width="1.0"/>
<text font-size="8.2" text-anchor="end" fill="#222" transform="translate(269.00 292.00) rotate(-45)">WT</text>
<line x1="284.21" y1="280.40" x2="284.21" y2="284.60" stroke="#333" stroke-width="1.0"/>
<text font-size="8.2" text-anchor="end" fill="#222" transform="translate(287.81 292.00) rotate(-45)">BA.5</text>
<line x1="303.02" y1="280.40" x2="303.02" y2="284.60" stroke="#333" stroke-width="1.0"/>
<text font-size="8.2" text-anchor="end" fill="#222" transform="translate(306.62 292.00) rotate(-45)">BF.7</text>
<line x1="321.83" y1="280.40" x2="321.83" y2="284.60" stroke="#333" stroke-width="1.0"/>
<text font-size="8.2" text-anchor="end" fill="#222" transform="translate(325.43 292.00) rotate(-45)">BQ.1.1</text>
<line x1="340.64" y1="280.40" x2="340.64" y2="284.60" stroke="#333" stroke-width="1.0"/>
<text font-size="8.2" text-anchor="end" fill="#222" transform="translate(344.24 292.00) rotate(-45)">XBB.1.5</text>
<line x1="359.45" y1="280.40" x2="359.45" y2="284.60" stroke="#333" stroke-width="1.0"/>
<text font-size="8.2" text-anchor="end" fill="#222" transform="translate(363.05 292.00) rotate(-45)">JN.1</text>
<line x1="378.26" y1="280.40" x2="378.26" y2="284.60" stroke="#333" stroke-width="1.0"/>
<text font-size="8.2" text-anchor="end" fill="#222" transform="translate(381.86 292.00) rotate(-45)">XDV.1</text>
<line x1="397.07" y1="280.40" x2="397.07" y2="284.60" stroke="#333" stroke-width="1.0"/>
<text font-size="8.2" text-anchor="end" fill="#222" transform="translate(400.67 292.00) rotate(-45)">KP.3</text>
<line x1="415.88" y1="280.40" x2="415.88" y2="284.60" stroke="#333" stroke-width="1.0"/>
<text font-size="8.2" text-anchor="end" fill="#222" transform="translate(419.48 292.00) rotate(-45)">KP.3.1.1</text>
<line x1="434.69" y1="280.40" x2="434.69" y2="284.60" stroke="#333" stroke-width="1.0"/>
<text font-size="8.2" text-anchor="end" fill="#222" transform="translate(438.29 292.00) rotate(-45)">XEC</text>
<line x1="453.50" y1="280.40" x2="453.50" y2="284.60" stroke="#333" stroke-width="1.0"/>
<text font-size="8.2" text-anchor="end" fill="#222" transform="translate(457.10 292.00) rotate(-45)">SARS-CoV</text>
<line x1="472.20" y1="263.44" x2="682.80" y2="263.44" stroke="#9c9c9c" stroke-width="0.9" stroke-dasharray="3.2 2.6"/>
<circle cx="483.45" cy="177.20" r="2.65" fill="#cf5a44" fill-opacity="0.5"/>
<circle cx="483.45" cy="181.20" r="2.65" fill="#cf5a44" fill-opacity="0.5"/>
<circle cx="483.45" cy="183.67" r="2.65" fill="#cf5a44" fill-opacity="0.5"/>
<circle cx="483.45" cy="185.51" r="2.65" fill="#cf5a44" fill-opacity="0.5"/>
<circle cx="483.45" cy="187.67" r="2.65" fill="#cf5a44" fill-opacity="0.5"/>
<circle cx="483.45" cy="189.83" r="2.65" fill="#cf5a44" fill-opacity="0.5"/>
<circle cx="483.45" cy="202.15" r="2.65" fill="#cf5a44" fill-opacity="0.5"/>
<circle cx="483.45" cy="211.69" r="2.65" fill="#cf5a44" fill-opacity="0.5"/>
<circle cx="483.45" cy="213.54" r="2.65" fill="#cf5a44" fill-opacity="0.5"/>
<circle cx="483.45" cy="214.47" r="2.65" fill="#cf5a44" fill-opacity="0.5"/>
<circle cx="502.26" cy="197.83" r="2.65" fill="#3f56a0" fill-opacity="0.5"/>
<circle cx="502.26" cy="202.15" r="2.65" fill="#3f56a0" fill-opacity="0.5"/>
<circle cx="502.26" cy="204.61" r="2.65" fill="#3f56a0" fill-opacity="0.5"/>
<circle cx="502.26" cy="207.38" r="2.65" fill="#3f56a0" fill-opacity="0.5"/>
<circle cx="502.26" cy="209.23" r="2.65" fill="#3f56a0" fill-opacity="0.5"/>
<circle cx="502.26" cy="216.93" r="2.65" fill="#3f56a0" fill-opacity="0.5"/>
<circle cx="502.26" cy="218.78" r="2.65" fill="#3f56a0" fill-opacity="0.5"/>
<circle cx="502.26" cy="219.70" r="2.65" fill="#3f56a0" fill-opacity="0.5"/>
<circle cx="502.26" cy="221.55" r="2.65" fill="#3f56a0" fill-opacity="0.5"/>
<circle cx="502.26" cy="240.65" r="2.65" fill="#3f56a0" fill-opacity="0.5"/>
<circle cx="521.07" cy="196.91" r="2.65" fill="#5a88d0" fill-opacity="0.5"/>
<circle cx="521.07" cy="200.30" r="2.65" fill="#5a88d0" fill-opacity="0.5"/>
<circle cx="521.07" cy="203.07" r="2.65" fill="#5a88d0" fill-opacity="0.5"/>
<circle cx="521.07" cy="206.46" r="2.65" fill="#5a88d0" fill-opacity="0.5"/>
<circle cx="521.07" cy="207.69" r="2.65" fill="#5a88d0" fill-opacity="0.5"/>
<circle cx="521.07" cy="217.85" r="2.65" fill="#5a88d0" fill-opacity="0.5"/>
<circle cx="521.07" cy="221.55" r="2.65" fill="#5a88d0" fill-opacity="0.5"/>
<circle cx="521.07" cy="224.94" r="2.65" fill="#5a88d0" fill-opacity="0.5"/>
<circle cx="521.07" cy="231.10" r="2.65" fill="#5a88d0" fill-opacity="0.5"/>
<circle cx="521.07" cy="236.33" r="2.65" fill="#5a88d0" fill-opacity="0.5"/>
<circle cx="539.88" cy="192.60" r="2.65" fill="#94bfe6" fill-opacity="0.5"/>
<circle cx="539.88" cy="202.15" r="2.65" fill="#94bfe6" fill-opacity="0.5"/>
<circle cx="539.88" cy="208.31" r="2.65" fill="#94bfe6" fill-opacity="0.5"/>
<circle cx="539.88" cy="211.69" r="2.65" fill="#94bfe6" fill-opacity="0.5"/>
<circle cx="539.88" cy="215.39" r="2.65" fill="#94bfe6" fill-opacity="0.5"/>
<circle cx="539.88" cy="219.70" r="2.65" fill="#94bfe6" fill-opacity="0.5"/>
<circle cx="539.88" cy="231.10" r="2.65" fill="#94bfe6" fill-opacity="0.5"/>
<circle cx="539.88" cy="234.49" r="2.65" fill="#94bfe6" fill-opacity="0.5"/>
<circle cx="539.88" cy="241.57" r="2.65" fill="#94bfe6" fill-opacity="0.5"/>
<circle cx="539.88" cy="244.96" r="2.65" fill="#94bfe6" fill-opacity="0.5"/>
<circle cx="558.69" cy="231.10" r="2.65" fill="#c89a3c" fill-opacity="0.5"/>
<circle cx="558.69" cy="233.25" r="2.65" fill="#c89a3c" fill-opacity="0.5"/>
<circle cx="558.69" cy="235.41" r="2.65" fill="#c89a3c" fill-opacity="0.5"/>
<circle cx="558.69" cy="238.18" r="2.65" fill="#c89a3c" fill-opacity="0.5"/>
<circle cx="558.69" cy="241.57" r="2.65" fill="#c89a3c" fill-opacity="0.5"/>
<circle cx="558.69" cy="244.03" r="2.65" fill="#c89a3c" fill-opacity="0.5"/>
<circle cx="558.69" cy="251.12" r="2.65" fill="#c89a3c" fill-opacity="0.5"/>
<circle cx="558.69" cy="254.81" r="2.65" fill="#c89a3c" fill-opacity="0.5"/>
<circle cx="558.69" cy="258.20" r="2.65" fill="#c89a3c" fill-opacity="0.5"/>
<circle cx="558.69" cy="260.05" r="2.65" fill="#c89a3c" fill-opacity="0.5"/>
<circle cx="577.50" cy="245.57" r="2.65" fill="#9346d6" fill-opacity="0.5"/>
<circle cx="577.50" cy="246.19" r="2.65" fill="#9346d6" fill-opacity="0.5"/>
<circle cx="577.50" cy="252.35" r="2.65" fill="#9346d6" fill-opacity="0.5"/>
<circle cx="577.50" cy="252.97" r="2.65" fill="#9346d6" fill-opacity="0.5"/>
<circle cx="577.50" cy="255.43" r="2.65" fill="#9346d6" fill-opacity="0.5"/>
<circle cx="577.50" cy="256.35" r="2.65" fill="#9346d6" fill-opacity="0.5"/>
<circle cx="577.50" cy="258.20" r="2.65" fill="#9346d6" fill-opacity="0.5"/>
<circle cx="577.50" cy="260.05" r="2.65" fill="#9346d6" fill-opacity="0.5"/>
<circle cx="577.50" cy="262.51" r="2.65" fill="#9346d6" fill-opacity="0.5"/>
<circle cx="577.50" cy="271.75" r="2.65" fill="#9346d6" fill-opacity="0.5"/>
<circle cx="596.31" cy="244.65" r="2.65" fill="#a464dc" fill-opacity="0.5"/>
<circle cx="596.31" cy="251.12" r="2.65" fill="#a464dc" fill-opacity="0.5"/>
<circle cx="596.31" cy="253.58" r="2.65" fill="#a464dc" fill-opacity="0.5"/>
<circle cx="596.31" cy="255.43" r="2.65" fill="#a464dc" fill-opacity="0.5"/>
<circle cx="596.31" cy="258.51" r="2.65" fill="#a464dc" fill-opacity="0.5"/>
<circle cx="596.31" cy="261.59" r="2.65" fill="#a464dc" fill-opacity="0.5"/>
<circle cx="596.31" cy="264.67" r="2.65" fill="#a464dc" fill-opacity="0.5"/>
<circle cx="596.31" cy="267.75" r="2.65" fill="#a464dc" fill-opacity="0.5"/>
<circle cx="596.31" cy="271.75" r="2.65" fill="#a464dc" fill-opacity="0.5"/>
<circle cx="596.31" cy="271.75" r="2.65" fill="#a464dc" fill-opacity="0.5"/>
<circle cx="615.12" cy="238.49" r="2.65" fill="#5e2a78" fill-opacity="0.5"/>
<circle cx="615.12" cy="252.66" r="2.65" fill="#5e2a78" fill-opacity="0.5"/>
<circle cx="615.12" cy="254.81" r="2.65" fill="#5e2a78" fill-opacity="0.5"/>
<circle cx="615.12" cy="257.28" r="2.65" fill="#5e2a78" fill-opacity="0.5"/>
<circle cx="615.12" cy="260.05" r="2.65" fill="#5e2a78" fill-opacity="0.5"/>
<circle cx="615.12" cy="262.51" r="2.65" fill="#5e2a78" fill-opacity="0.5"/>
<circle cx="615.12" cy="264.67" r="2.65" fill="#5e2a78" fill-opacity="0.5"/>
<circle cx="615.12" cy="271.75" r="2.65" fill="#5e2a78" fill-opacity="0.5"/>
<circle cx="615.12" cy="271.75" r="2.65" fill="#5e2a78" fill-opacity="0.5"/>
<circle cx="615.12" cy="271.75" r="2.65" fill="#5e2a78" fill-opacity="0.5"/>
<circle cx="633.93" cy="253.58" r="2.65" fill="#8a52a6" fill-opacity="0.5"/>
<circle cx="633.93" cy="260.67" r="2.65" fill="#8a52a6" fill-opacity="0.5"/>
<circle cx="633.93" cy="264.67" r="2.65" fill="#8a52a6" fill-opacity="0.5"/>
<circle cx="633.93" cy="267.75" r="2.65" fill="#8a52a6" fill-opacity="0.5"/>
<circle cx="633.93" cy="271.75" r="2.65" fill="#8a52a6" fill-opacity="0.5"/>
<circle cx="633.93" cy="271.75" r="2.65" fill="#8a52a6" fill-opacity="0.5"/>
<circle cx="633.93" cy="271.75" r="2.65" fill="#8a52a6" fill-opacity="0.5"/>
<circle cx="633.93" cy="271.75" r="2.65" fill="#8a52a6" fill-opacity="0.5"/>
<circle cx="633.93" cy="271.75" r="2.65" fill="#8a52a6" fill-opacity="0.5"/>
<circle cx="633.93" cy="271.75" r="2.65" fill="#8a52a6" fill-opacity="0.5"/>
<circle cx="652.74" cy="252.04" r="2.65" fill="#e08cc8" fill-opacity="0.5"/>
<circle cx="652.74" cy="258.20" r="2.65" fill="#e08cc8" fill-opacity="0.5"/>
<circle cx="652.74" cy="260.67" r="2.65" fill="#e08cc8" fill-opacity="0.5"/>
<circle cx="652.74" cy="263.44" r="2.65" fill="#e08cc8" fill-opacity="0.5"/>
<circle cx="652.74" cy="264.67" r="2.65" fill="#e08cc8" fill-opacity="0.5"/>
<circle cx="652.74" cy="264.67" r="2.65" fill="#e08cc8" fill-opacity="0.5"/>
<circle cx="652.74" cy="267.75" r="2.65" fill="#e08cc8" fill-opacity="0.5"/>
<circle cx="652.74" cy="269.29" r="2.65" fill="#e08cc8" fill-opacity="0.5"/>
<circle cx="652.74" cy="271.75" r="2.65" fill="#e08cc8" fill-opacity="0.5"/>
<circle cx="652.74" cy="271.75" r="2.65" fill="#e08cc8" fill-opacity="0.5"/>
<circle cx="671.55" cy="221.55" r="2.65" fill="#6a7f30" fill-opacity="0.5"/>
<circle cx="671.55" cy="225.86" r="2.65" fill="#6a7f30" fill-opacity="0.5"/>
<circle cx="671.55" cy="229.25" r="2.65" fill="#6a7f30" fill-opacity="0.5"/>
<circle cx="671.55" cy="232.02" r="2.65" fill="#6a7f30" fill-opacity="0.5"/>
<circle cx="671.55" cy="235.41" r="2.65" fill="#6a7f30" fill-opacity="0.5"/>
<circle cx="671.55" cy="236.95" r="2.65" fill="#6a7f30" fill-opacity="0.5"/>
<circle cx="671.55" cy="238.80" r="2.65" fill="#6a7f30" fill-opacity="0.5"/>
<circle cx="671.55" cy="241.57" r="2.65" fill="#6a7f30" fill-opacity="0.5"/>
<circle cx="671.55" cy="244.03" r="2.65" fill="#6a7f30" fill-opacity="0.5"/>
<circle cx="671.55" cy="249.89" r="2.65" fill="#6a7f30" fill-opacity="0.5"/>
<polyline points="483.45,177.20 502.26,197.83 521.07,196.91 539.88,192.60 558.69,231.10 577.50,245.57 596.31,244.65 615.12,238.49 633.93,260.67 652.74,252.04 671.55,225.86" fill="none" stroke="#d2d2d2" stroke-width="0.6" stroke-opacity="0.9"/>
<polyline points="483.45,183.67 502.26,207.38 521.07,203.07 539.88,202.15 558.69,235.41 577.50,252.35 596.31,253.58 615.12,252.66 633.93,253.58 652.74,258.20 671.55,221.55" fill="none" stroke="#d2d2d2" stroke-width="0.6" stroke-opacity="0.9"/>
<polyline points="483.45,181.20 502.26,204.61 521.07,200.30 539.88,208.31 558.69,233.25 577.50,246.19 596.31,251.12 615.12,254.81 633.93,264.67 652.74,260.67 671.55,229.25" fill="none" stroke="#d2d2d2" stroke-width="0.6" stroke-opacity="0.9"/>
<polyline points="483.45,185.51 502.26,202.15 521.07,206.46 539.88,215.39 558.69,238.18 577.50,252.97 596.31,255.43 615.12,257.28 633.93,267.75 652.74,263.44 671.55,232.02" fill="none" stroke="#d2d2d2" stroke-width="0.6" stroke-opacity="0.9"/>
<polyline points="483.45,187.67 502.26,218.78 521.07,221.55 539.88,231.10 558.69,241.57 577.50,255.43 596.31,261.59 615.12,264.67 633.93,271.75 652.74,264.67 671.55,238.80" fill="none" stroke="#d2d2d2" stroke-width="0.6" stroke-opacity="0.9"/>
<polyline points="483.45,202.15 502.26,209.23 521.07,207.69 539.88,211.69 558.69,244.03 577.50,258.20 596.31,264.67 615.12,262.51 633.93,271.75 652.74,264.67 671.55,235.41" fill="none" stroke="#d2d2d2" stroke-width="0.6" stroke-opacity="0.9"/>
<polyline points="483.45,213.54 502.26,219.70 521.07,231.10 539.88,234.49 558.69,258.20 577.50,256.35 596.31,258.51 615.12,260.05 633.93,271.75 652.74,269.29 671.55,241.57" fill="none" stroke="#d2d2d2" stroke-width="0.6" stroke-opacity="0.9"/>
<polyline points="483.45,211.69 502.26,221.55 521.07,224.94 539.88,241.57 558.69,254.81 577.50,260.05 596.31,267.75 615.12,271.75 633.93,271.75 652.74,267.75 671.55,236.95" fill="none" stroke="#d2d2d2" stroke-width="0.6" stroke-opacity="0.9"/>
<polyline points="483.45,189.83 502.26,216.93 521.07,217.85 539.88,219.70 558.69,251.12 577.50,262.51 596.31,271.75 615.12,271.75 633.93,271.75 652.74,271.75 671.55,249.89" fill="none" stroke="#d2d2d2" stroke-width="0.6" stroke-opacity="0.9"/>
<polyline points="483.45,214.47 502.26,240.65 521.07,236.33 539.88,244.96 558.69,260.05 577.50,271.75 596.31,271.75 615.12,271.75 633.93,271.75 652.74,271.75 671.55,244.03" fill="none" stroke="#d2d2d2" stroke-width="0.6" stroke-opacity="0.9"/>
<line x1="477.45" y1="195.57" x2="489.45" y2="195.57" stroke="#111" stroke-width="1.8"/>
<line x1="496.26" y1="213.75" x2="508.26" y2="213.75" stroke="#111" stroke-width="1.8"/>
<line x1="515.07" y1="215.35" x2="527.07" y2="215.35" stroke="#111" stroke-width="1.8"/>
<line x1="533.88" y1="220.61" x2="545.88" y2="220.61" stroke="#111" stroke-width="1.8"/>
<line x1="552.69" y1="245.57" x2="564.69" y2="245.57" stroke="#111" stroke-width="1.8"/>
<line x1="571.50" y1="255.17" x2="583.50" y2="255.17" stroke="#111" stroke-width="1.8"/>
<line x1="590.31" y1="260.59" x2="602.31" y2="260.59" stroke="#111" stroke-width="1.8"/>
<line x1="609.12" y1="261.62" x2="621.12" y2="261.62" stroke="#111" stroke-width="1.8"/>
<line x1="627.93" y1="268.45" x2="639.93" y2="268.45" stroke="#111" stroke-width="1.8"/>
<line x1="646.74" y1="264.28" x2="658.74" y2="264.28" stroke="#111" stroke-width="1.8"/>
<line x1="665.55" y1="235.55" x2="677.55" y2="235.55" stroke="#111" stroke-width="1.8"/>
<text x="483.45" y="159.40" font-size="6.6" text-anchor="middle" fill="#111">6974</text>
<text x="502.26" y="144.10" font-size="7.4" text-anchor="middle" fill="#111">**</text>
<text x="502.26" y="151.70" font-size="6.6" text-anchor="middle" fill="#111">0.26x</text>
<text x="502.26" y="159.40" font-size="6.6" text-anchor="middle" fill="#111">1792</text>
<text x="521.07" y="144.10" font-size="7.4" text-anchor="middle" fill="#111">**</text>
<text x="521.07" y="151.70" font-size="6.6" text-anchor="middle" fill="#111">0.23x</text>
<text x="521.07" y="159.40" font-size="6.6" text-anchor="middle" fill="#111">1590</text>
<text x="539.88" y="144.10" font-size="7.4" text-anchor="middle" fill="#111">**</text>
<text x="539.88" y="151.70" font-size="6.6" text-anchor="middle" fill="#111">0.15x</text>
<text x="539.88" y="159.40" font-size="6.6" text-anchor="middle" fill="#111">1073</text>
<text x="558.69" y="144.10" font-size="7.4" text-anchor="middle" fill="#111">**</text>
<text x="558.69" y="151.70" font-size="6.6" text-anchor="middle" fill="#111">0.02x</text>
<text x="558.69" y="159.40" font-size="6.6" text-anchor="middle" fill="#111">166</text>
<text x="577.50" y="144.10" font-size="7.4" text-anchor="middle" fill="#111">**</text>
<text x="577.50" y="151.70" font-size="6.6" text-anchor="middle" fill="#111">0.01x</text>
<text x="577.50" y="159.40" font-size="6.6" text-anchor="middle" fill="#111">81</text>
<text x="596.31" y="144.10" font-size="7.4" text-anchor="middle" fill="#111">**</text>
<text x="596.31" y="151.70" font-size="6.6" text-anchor="middle" fill="#111">0.01x</text>
<text x="596.31" y="159.40" font-size="6.6" text-anchor="middle" fill="#111">54</text>
<text x="615.12" y="144.10" font-size="7.4" text-anchor="middle" fill="#111">**</text>
<text x="615.12" y="151.70" font-size="6.6" text-anchor="middle" fill="#111">0.01x</text>
<text x="615.12" y="159.40" font-size="6.6" text-anchor="middle" fill="#111">50</text>
<text x="633.93" y="144.10" font-size="7.4" text-anchor="middle" fill="#111">**</text>
<text x="633.93" y="151.70" font-size="6.6" text-anchor="middle" fill="#111">0.01x</text>
<text x="633.93" y="159.40" font-size="6.6" text-anchor="middle" fill="#111">30</text>
<text x="652.74" y="144.10" font-size="7.4" text-anchor="middle" fill="#111">**</text>
<text x="652.74" y="151.70" font-size="6.6" text-anchor="middle" fill="#111">0.01x</text>
<text x="652.74" y="159.40" font-size="6.6" text-anchor="middle" fill="#111">41</text>
<text x="671.55" y="144.10" font-size="7.4" text-anchor="middle" fill="#111">**</text>
<text x="671.55" y="151.70" font-size="6.6" text-anchor="middle" fill="#111">0.05x</text>
<text x="671.55" y="159.40" font-size="6.6" text-anchor="middle" fill="#111">351</text>
<text x="577.50" y="134.30" font-size="9" text-anchor="middle" fill="#111">T3</text>
<line x1="472.20" y1="280.40" x2="682.80" y2="280.40" stroke="#333" stroke-width="1.1"/>
<line x1="483.45" y1="280.40" x2="483.45" y2="284.60" stroke="#333" stroke-width="1.0"/>
<text font-size="8.2" text-anchor="end" fill="#222" transform="translate(487.05 292.00) rotate(-45)">WT</text>
<line x1="502.26" y1="280.40" x2="502.26" y2="284.60" stroke="#333" stroke-width="1.0"/>
<text font-size="8.2" text-anchor="end" fill="#222" transform="translate(505.86 292.00) rotate(-45)">BA.5</text>
<line x1="521.07" y1="280.40" x2="521.07" y2="284.60" stroke="#333" stroke-width="1.0"/>
<text font-size="8.2" text-anchor="end" fill="#222" transform="translate(524.67 292.00) rotate(-45)">BF.7</text>
<line x1="539.88" y1="280.40" x2="539.88" y2="284.60" stroke="#333" stroke-width="1.0"/>
<text font-size="8.2" text-anchor="end" fill="#222" transform="translate(543.48 292.00) rotate(-45)">BQ.1.1</text>
<line x1="558.69" y1="280.40" x2="558.69" y2="284.60" stroke="#333" stroke-width="1.0"/>
<text font-size="8.2" text-anchor="end" fill="#222" transform="translate(562.29 292.00) rotate(-45)">XBB.1.5</text>
<line x1="577.50" y1="280.40" x2="577.50" y2="284.60" stroke="#333" stroke-width="1.0"/>
<text font-size="8.2" text-anchor="end" fill="#222" transform="translate(581.10 292.00) rotate(-45)">JN.1</text>
<line x1="596.31" y1="280.40" x2="596.31" y2="284.60" stroke="#333" stroke-width="1.0"/>
<text font-size="8.2" text-anchor="end" fill="#222" transform="translate(599.91 292.00) rotate(-45)">XDV.1</text>
<line x1="615.12" y1="280.40" x2="615.12" y2="284.60" stroke="#333" stroke-width="1.0"/>
<text font-size="8.2" text-anchor="end" fill="#222" transform="translate(618.72 292.00) rotate(-45)">KP.3</text>
<line x1="633.93" y1="280.40" x2="633.93" y2="284.60" stroke="#333" stroke-width="1.0"/>
<text font-size="8.2" text-anchor="end" fill="#222" transform="translate(637.53 292.00) rotate(-45)">KP.3.1.1</text>
<line x1="652.74" y1="280.40" x2="652.74" y2="284.60" stroke="#333" stroke-width="1.0"/>
<text font-size="8.2" text-anchor="end" fill="#222" transform="translate(656.34 292.00) rotate(-45)">XEC</text>
<line x1="671.55" y1="280.40" x2="671.55" y2="284.60" stroke="#333" stroke-width="1.0"/>
<text font-size="8.2" text-anchor="end" fill="#222" transform="translate(675.15 292.00) rotate(-45)">SARS-CoV</text>
<text x="359.30" y="333.60" font-size="8.35" text-anchor="middle" font-weight="bold" fill="#111">Double infection (n = 12)</text>
<text font-size="8.4" text-anchor="middle" fill="#222" transform="translate(11.00 421.00) rotate(-90)">pVNT<tspan font-size="6.05" dy="2">50</tspan><tspan dy="-2"> Titer</tspan></text>
<line x1="37.00" y1="476.22" x2="247.10" y2="476.22" stroke="#9c9c9c" stroke-width="0.9" stroke-dasharray="3.2 2.6"/>
<circle cx="47.30" cy="385.95" r="2.65" fill="#cf5a44" fill-opacity="0.5"/>
<circle cx="47.30" cy="390.54" r="2.65" fill="#cf5a44" fill-opacity="0.5"/>
<circle cx="47.30" cy="395.13" r="2.65" fill="#cf5a44" fill-opacity="0.5"/>
<circle cx="47.30" cy="395.74" r="2.65" fill="#cf5a44" fill-opacity="0.5"/>
<circle cx="47.30" cy="400.33" r="2.65" fill="#cf5a44" fill-opacity="0.5"/>
<circle cx="47.30" cy="402.78" r="2.65" fill="#cf5a44" fill-opacity="0.5"/>
<circle cx="47.30" cy="403.39" r="2.65" fill="#cf5a44" fill-opacity="0.5"/>
<circle cx="47.30" cy="405.22" r="2.65" fill="#cf5a44" fill-opacity="0.5"/>
<circle cx="47.30" cy="409.51" r="2.65" fill="#cf5a44" fill-opacity="0.5"/>
<circle cx="47.30" cy="413.79" r="2.65" fill="#cf5a44" fill-opacity="0.5"/>
<circle cx="47.30" cy="415.63" r="2.65" fill="#cf5a44" fill-opacity="0.5"/>
<circle cx="47.30" cy="417.77" r="2.65" fill="#cf5a44" fill-opacity="0.5"/>
<circle cx="66.11" cy="395.74" r="2.65" fill="#3f56a0" fill-opacity="0.5"/>
<circle cx="66.11" cy="399.72" r="2.65" fill="#3f56a0" fill-opacity="0.5"/>
<circle cx="66.11" cy="400.33" r="2.65" fill="#3f56a0" fill-opacity="0.5"/>
<circle cx="66.11" cy="405.84" r="2.65" fill="#3f56a0" fill-opacity="0.5"/>
<circle cx="66.11" cy="406.45" r="2.65" fill="#3f56a0" fill-opacity="0.5"/>
<circle cx="66.11" cy="408.28" r="2.65" fill="#3f56a0" fill-opacity="0.5"/>
<circle cx="66.11" cy="414.71" r="2.65" fill="#3f56a0" fill-opacity="0.5"/>
<circle cx="66.11" cy="420.52" r="2.65" fill="#3f56a0" fill-opacity="0.5"/>
<circle cx="66.11" cy="429.40" r="2.65" fill="#3f56a0" fill-opacity="0.5"/>
<circle cx="66.11" cy="431.54" r="2.65" fill="#3f56a0" fill-opacity="0.5"/>
<circle cx="66.11" cy="435.52" r="2.65" fill="#3f56a0" fill-opacity="0.5"/>
<circle cx="66.11" cy="436.13" r="2.65" fill="#3f56a0" fill-opacity="0.5"/>
<circle cx="84.92" cy="404.00" r="2.65" fill="#5a88d0" fill-opacity="0.5"/>
<circle cx="84.92" cy="411.96" r="2.65" fill="#5a88d0" fill-opacity="0.5"/>
<circle cx="84.92" cy="413.49" r="2.65" fill="#5a88d0" fill-opacity="0.5"/>
<circle cx="84.92" cy="414.71" r="2.65" fill="#5a88d0" fill-opacity="0.5"/>
<circle cx="84.92" cy="415.93" r="2.65" fill="#5a88d0" fill-opacity="0.5"/>
<circle cx="84.92" cy="417.77" r="2.65" fill="#5a88d0" fill-opacity="0.5"/>
<circle cx="84.92" cy="419.61" r="2.65" fill="#5a88d0" fill-opacity="0.5"/>
<circle cx="84.92" cy="425.42" r="2.65" fill="#5a88d0" fill-opacity="0.5"/>
<circle cx="84.92" cy="429.09" r="2.65" fill="#5a88d0" fill-opacity="0.5"/>
<circle cx="84.92" cy="430.32" r="2.65" fill="#5a88d0" fill-opacity="0.5"/>
<circle cx="84.92" cy="439.50" r="2.65" fill="#5a88d0" fill-opacity="0.5"/>
<circle cx="84.92" cy="447.15" r="2.65" fill="#5a88d0" fill-opacity="0.5"/>
<circle cx="103.73" cy="402.16" r="2.65" fill="#94bfe6" fill-opacity="0.5"/>
<circle cx="103.73" cy="403.69" r="2.65" fill="#94bfe6" fill-opacity="0.5"/>
<circle cx="103.73" cy="418.69" r="2.65" fill="#94bfe6" fill-opacity="0.5"/>
<circle cx="103.73" cy="421.14" r="2.65" fill="#94bfe6" fill-opacity="0.5"/>
<circle cx="103.73" cy="425.42" r="2.65" fill="#94bfe6" fill-opacity="0.5"/>
<circle cx="103.73" cy="426.34" r="2.65" fill="#94bfe6" fill-opacity="0.5"/>
<circle cx="103.73" cy="428.17" r="2.65" fill="#94bfe6" fill-opacity="0.5"/>
<circle cx="103.73" cy="437.66" r="2.65" fill="#94bfe6" fill-opacity="0.5"/>
<circle cx="103.73" cy="441.03" r="2.65" fill="#94bfe6" fill-opacity="0.5"/>
<circle cx="103.73" cy="447.15" r="2.65" fill="#94bfe6" fill-opacity="0.5"/>
<circle cx="103.73" cy="452.65" r="2.65" fill="#94bfe6" fill-opacity="0.5"/>
<circle cx="103.73" cy="467.65" r="2.65" fill="#94bfe6" fill-opacity="0.5"/>
<circle cx="122.54" cy="441.33" r="2.65" fill="#c89a3c" fill-opacity="0.5"/>
<circle cx="122.54" cy="451.43" r="2.65" fill="#c89a3c" fill-opacity="0.5"/>
<circle cx="122.54" cy="453.88" r="2.65" fill="#c89a3c" fill-opacity="0.5"/>
<circle cx="122.54" cy="456.63" r="2.65" fill="#c89a3c" fill-opacity="0.5"/>
<circle cx="122.54" cy="458.16" r="2.65" fill="#c89a3c" fill-opacity="0.5"/>
<circle cx="122.54" cy="459.08" r="2.65" fill="#c89a3c" fill-opacity="0.5"/>
<circle cx="122.54" cy="459.69" r="2.65" fill="#c89a3c" fill-opacity="0.5"/>
<circle cx="122.54" cy="460.92" r="2.65" fill="#c89a3c" fill-opacity="0.5"/>
<circle cx="122.54" cy="462.14" r="2.65" fill="#c89a3c" fill-opacity="0.5"/>
<circle cx="122.54" cy="463.98" r="2.65" fill="#c89a3c" fill-opacity="0.5"/>
<circle cx="122.54" cy="471.01" r="2.65" fill="#c89a3c" fill-opacity="0.5"/>
<circle cx="122.54" cy="484.78" r="2.65" fill="#c89a3c" fill-opacity="0.5"/>
<circle cx="141.35" cy="444.09" r="2.65" fill="#9346d6" fill-opacity="0.5"/>
<circle cx="141.35" cy="449.59" r="2.65" fill="#9346d6" fill-opacity="0.5"/>
<circle cx="141.35" cy="452.35" r="2.65" fill="#9346d6" fill-opacity="0.5"/>
<circle cx="141.35" cy="456.02" r="2.65" fill="#9346d6" fill-opacity="0.5"/>
<circle cx="141.35" cy="458.16" r="2.65" fill="#9346d6" fill-opacity="0.5"/>
<circle cx="141.35" cy="460.61" r="2.65" fill="#9346d6" fill-opacity="0.5"/>
<circle cx="141.35" cy="462.45" r="2.65" fill="#9346d6" fill-opacity="0.5"/>
<circle cx="141.35" cy="465.20" r="2.65" fill="#9346d6" fill-opacity="0.5"/>
<circle cx="141.35" cy="466.73" r="2.65" fill="#9346d6" fill-opacity="0.5"/>
<circle cx="141.35" cy="473.77" r="2.65" fill="#9346d6" fill-opacity="0.5"/>
<circle cx="141.35" cy="474.69" r="2.65" fill="#9346d6" fill-opacity="0.5"/>
<circle cx="141.35" cy="474.69" r="2.65" fill="#9346d6" fill-opacity="0.5"/>
<circle cx="160.16" cy="445.00" r="2.65" fill="#a464dc" fill-opacity="0.5"/>
<circle cx="160.16" cy="453.57" r="2.65" fill="#a464dc" fill-opacity="0.5"/>
<circle cx="160.16" cy="459.39" r="2.65" fill="#a464dc" fill-opacity="0.5"/>
<circle cx="160.16" cy="460.61" r="2.65" fill="#a464dc" fill-opacity="0.5"/>
<circle cx="160.16" cy="462.45" r="2.65" fill="#a464dc" fill-opacity="0.5"/>
<circle cx="160.16" cy="465.20" r="2.65" fill="#a464dc" fill-opacity="0.5"/>
<circle cx="160.16" cy="466.12" r="2.65" fill="#a464dc" fill-opacity="0.5"/>
<circle cx="160.16" cy="468.26" r="2.65" fill="#a464dc" fill-opacity="0.5"/>
<circle cx="160.16" cy="469.79" r="2.65" fill="#a464dc" fill-opacity="0.5"/>
<circle cx="160.16" cy="471.63" r="2.65" fill="#a464dc" fill-opacity="0.5"/>
<circle cx="160.16" cy="484.78" r="2.65" fill="#a464dc" fill-opacity="0.5"/>
<circle cx="160.16" cy="484.78" r="2.65" fill="#a464dc" fill-opacity="0.5"/>
<circle cx="178.97" cy="447.45" r="2.65" fill="#5e2a78" fill-opacity="0.5"/>
<circle cx="178.97" cy="455.71" r="2.65" fill="#5e2a78" fill-opacity="0.5"/>
<circle cx="178.97" cy="457.24" r="2.65" fill="#5e2a78" fill-opacity="0.5"/>
<circle cx="178.97" cy="459.08" r="2.65" fill="#5e2a78" fill-opacity="0.5"/>
<circle cx="178.97" cy="460.61" r="2.65" fill="#5e2a78" fill-opacity="0.5"/>
<circle cx="178.97" cy="461.83" r="2.65" fill="#5e2a78" fill-opacity="0.5"/>
<circle cx="178.97" cy="463.67" r="2.65" fill="#5e2a78" fill-opacity="0.5"/>
<circle cx="178.97" cy="464.28" r="2.65" fill="#5e2a78" fill-opacity="0.5"/>
<circle cx="178.97" cy="466.73" r="2.65" fill="#5e2a78" fill-opacity="0.5"/>
<circle cx="178.97" cy="471.01" r="2.65" fill="#5e2a78" fill-opacity="0.5"/>
<circle cx="178.97" cy="484.78" r="2.65" fill="#5e2a78" fill-opacity="0.5"/>
<circle cx="178.97" cy="484.78" r="2.65" fill="#5e2a78" fill-opacity="0.5"/>
<circle cx="197.78" cy="452.35" r="2.65" fill="#8a52a6" fill-opacity="0.5"/>
<circle cx="197.78" cy="461.83" r="2.65" fill="#8a52a6" fill-opacity="0.5"/>
<circle cx="197.78" cy="471.01" r="2.65" fill="#8a52a6" fill-opacity="0.5"/>
<circle cx="197.78" cy="471.93" r="2.65" fill="#8a52a6" fill-opacity="0.5"/>
<circle cx="197.78" cy="473.16" r="2.65" fill="#8a52a6" fill-opacity="0.5"/>
<circle cx="197.78" cy="474.38" r="2.65" fill="#8a52a6" fill-opacity="0.5"/>
<circle cx="197.78" cy="475.91" r="2.65" fill="#8a52a6" fill-opacity="0.5"/>
<circle cx="197.78" cy="477.44" r="2.65" fill="#8a52a6" fill-opacity="0.5"/>
<circle cx="197.78" cy="480.50" r="2.65" fill="#8a52a6" fill-opacity="0.5"/>
<circle cx="197.78" cy="484.78" r="2.65" fill="#8a52a6" fill-opacity="0.5"/>
<circle cx="197.78" cy="484.78" r="2.65" fill="#8a52a6" fill-opacity="0.5"/>
<circle cx="197.78" cy="484.78" r="2.65" fill="#8a52a6" fill-opacity="0.5"/>
<circle cx="216.59" cy="447.76" r="2.65" fill="#e08cc8" fill-opacity="0.5"/>
<circle cx="216.59" cy="450.82" r="2.65" fill="#e08cc8" fill-opacity="0.5"/>
<circle cx="216.59" cy="467.95" r="2.65" fill="#e08cc8" fill-opacity="0.5"/>
<circle cx="216.59" cy="473.77" r="2.65" fill="#e08cc8" fill-opacity="0.5"/>
<circle cx="216.59" cy="475.91" r="2.65" fill="#e08cc8" fill-opacity="0.5"/>
<circle cx="216.59" cy="484.78" r="2.65" fill="#e08cc8" fill-opacity="0.5"/>
<circle cx="216.59" cy="484.78" r="2.65" fill="#e08cc8" fill-opacity="0.5"/>
<circle cx="216.59" cy="484.78" r="2.65" fill="#e08cc8" fill-opacity="0.5"/>
<circle cx="216.59" cy="484.78" r="2.65" fill="#e08cc8" fill-opacity="0.5"/>
<circle cx="216.59" cy="484.78" r="2.65" fill="#e08cc8" fill-opacity="0.5"/>
<circle cx="216.59" cy="484.78" r="2.65" fill="#e08cc8" fill-opacity="0.5"/>
<circle cx="216.59" cy="484.78" r="2.65" fill="#e08cc8" fill-opacity="0.5"/>
<circle cx="235.40" cy="416.85" r="2.65" fill="#6a7f30" fill-opacity="0.5"/>
<circle cx="235.40" cy="437.66" r="2.65" fill="#6a7f30" fill-opacity="0.5"/>
<circle cx="235.40" cy="440.11" r="2.65" fill="#6a7f30" fill-opacity="0.5"/>
<circle cx="235.40" cy="442.86" r="2.65" fill="#6a7f30" fill-opacity="0.5"/>
<circle cx="235.40" cy="445.31" r="2.65" fill="#6a7f30" fill-opacity="0.5"/>
<circle cx="235.40" cy="446.84" r="2.65" fill="#6a7f30" fill-opacity="0.5"/>
<circle cx="235.40" cy="447.76" r="2.65" fill="#6a7f30" fill-opacity="0.5"/>
<circle cx="235.40" cy="449.90" r="2.65" fill="#6a7f30" fill-opacity="0.5"/>
<circle cx="235.40" cy="450.51" r="2.65" fill="#6a7f30" fill-opacity="0.5"/>
<circle cx="235.40" cy="452.96" r="2.65" fill="#6a7f30" fill-opacity="0.5"/>
<circle cx="235.40" cy="463.36" r="2.65" fill="#6a7f30" fill-opacity="0.5"/>
<circle cx="235.40" cy="464.28" r="2.65" fill="#6a7f30" fill-opacity="0.5"/>
<polyline points="47.30,385.95 66.11,395.74 84.92,411.96 103.73,402.16 122.54,441.33 141.35,444.09 160.16,445.00 178.97,447.45 197.78,452.35 216.59,447.76 235.40,416.85" fill="none" stroke="#d2d2d2" stroke-width="0.6" stroke-opacity="0.9"/>
<polyline points="47.30,400.33 66.11,399.72 84.92,404.00 103.73,418.69 122.54,451.43 141.35,449.59 160.16,453.57 178.97,457.24 197.78,471.01 216.59,450.82 235.40,437.66" fill="none" stroke="#d2d2d2" stroke-width="0.6" stroke-opacity="0.9"/>
<polyline points="47.30,390.54 66.11,400.33 84.92,413.49 103.73,403.69 122.54,453.88 141.35,452.35 160.16,460.61 178.97,455.71 197.78,461.83 216.59,475.91 235.40,442.86" fill="none" stroke="#d2d2d2" stroke-width="0.6" stroke-opacity="0.9"/>
<polyline points="47.30,395.13 66.11,406.45 84.92,414.71 103.73,425.42 122.54,458.16 141.35,462.45 160.16,465.20 178.97,461.83 197.78,473.16 216.59,484.78 235.40,445.31" fill="none" stroke="#d2d2d2" stroke-width="0.6" stroke-opacity="0.9"/>
<polyline points="47.30,395.74 66.11,408.28 84.92,417.77 103.73,421.14 122.54,459.08 141.35,456.02 160.16,459.39 178.97,460.61 197.78,471.93 216.59,467.95 235.40,440.11" fill="none" stroke="#d2d2d2" stroke-width="0.6" stroke-opacity="0.9"/>
<polyline points="47.30,402.78 66.11,405.84 84.92,415.93 103.73,426.34 122.54,456.63 141.35,458.16 160.16,462.45 178.97,459.08 197.78,475.91 216.59,473.77 235.40,446.84" fill="none" stroke="#d2d2d2" stroke-width="0.6" stroke-opacity="0.9"/>
<polyline points="47.30,405.22 66.11,420.52 84.92,425.42 103.73,441.03 122.54,460.92 141.35,460.61 160.16,466.12 178.97,464.28 197.78,477.44 216.59,484.78 235.40,447.76" fill="none" stroke="#d2d2d2" stroke-width="0.6" stroke-opacity="0.9"/>
<polyline points="47.30,403.39 66.11,414.71 84.92,419.61 103.73,447.15 122.54,459.69 141.35,465.20 160.16,471.63 178.97,463.67 197.78,474.38 216.59,484.78 235.40,449.90" fill="none" stroke="#d2d2d2" stroke-width="0.6" stroke-opacity="0.9"/>
<polyline points="47.30,409.51 66.11,431.54 84.92,429.09 103.73,428.17 122.54,463.98 141.35,466.73 160.16,469.79 178.97,471.01 197.78,480.50 216.59,484.78 235.40,450.51" fill="none" stroke="#d2d2d2" stroke-width="0.6" stroke-opacity="0.9"/>
<polyline points="47.30,415.63 66.11,436.13 84.92,430.32 103.73,437.66 122.54,471.01 141.35,474.69 160.16,468.26 178.97,466.73 197.78,484.78 216.59,484.78 235.40,452.96" fill="none" stroke="#d2d2d2" stroke-width="0.6" stroke-opacity="0.9"/>
<polyline points="47.30,417.77 66.11,435.52 84.92,447.15 103.73,452.65 122.54,462.14 141.35,473.77 160.16,484.78 178.97,484.78 197.78,484.78 216.59,484.78 235.40,463.36" fill="none" stroke="#d2d2d2" stroke-width="0.6" stroke-opacity="0.9"/>
<polyline points="47.30,413.79 66.11,429.40 84.92,439.50 103.73,467.65 122.54,484.78 141.35,474.69 160.16,484.78 178.97,484.78 197.78,484.78 216.59,484.78 235.40,464.28" fill="none" stroke="#d2d2d2" stroke-width="0.6" stroke-opacity="0.9"/>
<line x1="41.30" y1="401.03" x2="53.30" y2="401.03" stroke="#111" stroke-width="1.8"/>
<line x1="60.11" y1="416.60" x2="72.11" y2="416.60" stroke="#111" stroke-width="1.8"/>
<line x1="78.92" y1="422.67" x2="90.92" y2="422.67" stroke="#111" stroke-width="1.8"/>
<line x1="97.73" y1="431.02" x2="109.73" y2="431.02" stroke="#111" stroke-width="1.8"/>
<line x1="116.54" y1="460.35" x2="128.54" y2="460.35" stroke="#111" stroke-width="1.8"/>
<line x1="135.35" y1="463.58" x2="147.35" y2="463.58" stroke="#111" stroke-width="1.8"/>
<line x1="154.16" y1="465.74" x2="166.16" y2="465.74" stroke="#111" stroke-width="1.8"/>
<line x1="172.97" y1="466.31" x2="184.97" y2="466.31" stroke="#111" stroke-width="1.8"/>
<line x1="191.78" y1="475.52" x2="203.78" y2="475.52" stroke="#111" stroke-width="1.8"/>
<line x1="210.59" y1="474.15" x2="222.59" y2="474.15" stroke="#111" stroke-width="1.8"/>
<line x1="229.40" y1="446.48" x2="241.40" y2="446.48" stroke="#111" stroke-width="1.8"/>
<text x="47.30" y="372.60" font-size="6.6" text-anchor="middle" fill="#111">12507</text>
<text x="66.11" y="357.30" font-size="7.4" text-anchor="middle" fill="#111">**</text>
<text x="66.11" y="364.90" font-size="6.6" text-anchor="middle" fill="#111">0.38x</text>
<text x="66.11" y="372.60" font-size="6.6" text-anchor="middle" fill="#111">3876</text>
<text x="84.92" y="357.30" font-size="7.4" text-anchor="middle" fill="#111">***</text>
<text x="84.92" y="364.90" font-size="6.6" text-anchor="middle" fill="#111">0.24x</text>
<text x="84.92" y="372.60" font-size="6.6" text-anchor="middle" fill="#111">2454</text>
<text x="103.73" y="357.30" font-size="7.4" text-anchor="middle" fill="#111">***</text>
<text x="103.73" y="364.90" font-size="6.6" text-anchor="middle" fill="#111">0.12x</text>
<text x="103.73" y="372.60" font-size="6.6" text-anchor="middle" fill="#111">1309</text>
<text x="122.54" y="357.30" font-size="7.4" text-anchor="middle" fill="#111">***</text>
<text x="122.54" y="364.90" font-size="6.6" text-anchor="middle" fill="#111">0.05x</text>
<text x="122.54" y="372.60" font-size="6.6" text-anchor="middle" fill="#111">144</text>
<text x="141.35" y="357.30" font-size="7.4" text-anchor="middle" fill="#111">***</text>
<text x="141.35" y="364.90" font-size="6.6" text-anchor="middle" fill="#111">0.01x</text>
<text x="141.35" y="372.60" font-size="6.6" text-anchor="middle" fill="#111">113</text>
<text x="160.16" y="357.30" font-size="7.4" text-anchor="middle" fill="#111">***</text>
<text x="160.16" y="364.90" font-size="6.6" text-anchor="middle" fill="#111">0.01x</text>
<text x="160.16" y="372.60" font-size="6.6" text-anchor="middle" fill="#111">96</text>
<text x="178.97" y="357.30" font-size="7.4" text-anchor="middle" fill="#111">***</text>
<text x="178.97" y="364.90" font-size="6.6" text-anchor="middle" fill="#111">0.01x</text>
<text x="178.97" y="372.60" font-size="6.6" text-anchor="middle" fill="#111">92</text>
<text x="197.78" y="357.30" font-size="7.4" text-anchor="middle" fill="#111">***</text>
<text x="197.78" y="364.90" font-size="6.6" text-anchor="middle" fill="#111">0.01x</text>
<text x="197.78" y="372.60" font-size="6.6" text-anchor="middle" fill="#111">46</text>
<text x="216.59" y="357.30" font-size="7.4" text-anchor="middle" fill="#111">***</text>
<text x="216.59" y="364.90" font-size="6.6" text-anchor="middle" fill="#111">0.01x</text>
<text x="216.59" y="372.60" font-size="6.6" text-anchor="middle" fill="#111">51</text>
<text x="235.40" y="357.30" font-size="7.4" text-anchor="middle" fill="#111">***</text>
<text x="235.40" y="364.90" font-size="6.6" text-anchor="middle" fill="#111">0.16x</text>
<text x="235.40" y="372.60" font-size="6.6" text-anchor="middle" fill="#111">409</text>
<text x="141.35" y="347.50" font-size="9" text-anchor="middle" fill="#111">T1</text>
<line x1="36.50" y1="493.30" x2="247.10" y2="493.30" stroke="#333" stroke-width="1.1"/>
<line x1="47.30" y1="493.30" x2="47.30" y2="497.50" stroke="#333" stroke-width="1.0"/>
<text font-size="8.2" text-anchor="end" fill="#222" transform="translate(50.90 504.90) rotate(-45)">WT</text>
<line x1="66.11" y1="493.30" x2="66.11" y2="497.50" stroke="#333" stroke-width="1.0"/>
<text font-size="8.2" text-anchor="end" fill="#222" transform="translate(69.71 504.90) rotate(-45)">BA.5</text>
<line x1="84.92" y1="493.30" x2="84.92" y2="497.50" stroke="#333" stroke-width="1.0"/>
<text font-size="8.2" text-anchor="end" fill="#222" transform="translate(88.52 504.90) rotate(-45)">BF.7</text>
<line x1="103.73" y1="493.30" x2="103.73" y2="497.50" stroke="#333" stroke-width="1.0"/>
<text font-size="8.2" text-anchor="end" fill="#222" transform="translate(107.33 504.90) rotate(-45)">BQ.1.1</text>
<line x1="122.54" y1="493.30" x2="122.54" y2="497.50" stroke="#333" stroke-width="1.0"/>
<text font-size="8.2" text-anchor="end" fill="#222" transform="translate(126.14 504.90) rotate(-45)">XBB.1.5</text>
<line x1="141.35" y1="493.30" x2="141.35" y2="497.50" stroke="#333" stroke-width="1.0"/>
<text font-size="8.2" text-anchor="end" fill="#222" transform="translate(144.95 504.90) rotate(-45)">JN.1</text>
<line x1="160.16" y1="493.30" x2="160.16" y2="497.50" stroke="#333" stroke-width="1.0"/>
<text font-size="8.2" text-anchor="end" fill="#222" transform="translate(163.76 504.90) rotate(-45)">XDV.1</text>
<line x1="178.97" y1="493.30" x2="178.97" y2="497.50" stroke="#333" stroke-width="1.0"/>
<text font-size="8.2" text-anchor="end" fill="#222" transform="translate(182.57 504.90) rotate(-45)">KP.3</text>
<line x1="197.78" y1="493.30" x2="197.78" y2="497.50" stroke="#333" stroke-width="1.0"/>
<text font-size="8.2" text-anchor="end" fill="#222" transform="translate(201.38 504.90) rotate(-45)">KP.3.1.1</text>
<line x1="216.59" y1="493.30" x2="216.59" y2="497.50" stroke="#333" stroke-width="1.0"/>
<text font-size="8.2" text-anchor="end" fill="#222" transform="translate(220.19 504.90) rotate(-45)">XEC</text>
<line x1="235.40" y1="493.30" x2="235.40" y2="497.50" stroke="#333" stroke-width="1.0"/>
<text font-size="8.2" text-anchor="end" fill="#222" transform="translate(239.00 504.90) rotate(-45)">SARS-CoV</text>
<line x1="36.50" y1="348.00" x2="36.50" y2="493.85" stroke="#333" stroke-width="1.1"/>
<line x1="32.70" y1="465.20" x2="36.50" y2="465.20" stroke="#333" stroke-width="0.9"/>
<text x="29.90" y="469.20" font-size="8.5" text-anchor="end" fill="#222">10<tspan font-size="5.95" dy="-3.6">2</tspan></text>
<line x1="32.70" y1="434.60" x2="36.50" y2="434.60" stroke="#333" stroke-width="0.9"/>
<text x="29.90" y="438.60" font-size="8.5" text-anchor="end" fill="#222">10<tspan font-size="5.95" dy="-3.6">3</tspan></text>
<line x1="32.70" y1="404.00" x2="36.50" y2="404.00" stroke="#333" stroke-width="0.9"/>
<text x="29.90" y="408.00" font-size="8.5" text-anchor="end" fill="#222">10<tspan font-size="5.95" dy="-3.6">4</tspan></text>
<line x1="32.70" y1="373.40" x2="36.50" y2="373.40" stroke="#333" stroke-width="0.9"/>
<text x="29.90" y="377.40" font-size="8.5" text-anchor="end" fill="#222">10<tspan font-size="5.95" dy="-3.6">5</tspan></text>
<line x1="254.20" y1="476.22" x2="464.80" y2="476.22" stroke="#9c9c9c" stroke-width="0.9" stroke-dasharray="3.2 2.6"/>
<circle cx="265.40" cy="384.42" r="2.65" fill="#cf5a44" fill-opacity="0.5"/>
<circle cx="265.40" cy="391.15" r="2.65" fill="#cf5a44" fill-opacity="0.5"/>
<circle cx="265.40" cy="397.88" r="2.65" fill="#cf5a44" fill-opacity="0.5"/>
<circle cx="265.40" cy="400.63" r="2.65" fill="#cf5a44" fill-opacity="0.5"/>
<circle cx="265.40" cy="404.00" r="2.65" fill="#cf5a44" fill-opacity="0.5"/>
<circle cx="265.40" cy="407.67" r="2.65" fill="#cf5a44" fill-opacity="0.5"/>
<circle cx="265.40" cy="411.96" r="2.65" fill="#cf5a44" fill-opacity="0.5"/>
<circle cx="265.40" cy="413.49" r="2.65" fill="#cf5a44" fill-opacity="0.5"/>
<circle cx="284.21" cy="385.64" r="2.65" fill="#3f56a0" fill-opacity="0.5"/>
<circle cx="284.21" cy="400.02" r="2.65" fill="#3f56a0" fill-opacity="0.5"/>
<circle cx="284.21" cy="404.00" r="2.65" fill="#3f56a0" fill-opacity="0.5"/>
<circle cx="284.21" cy="414.71" r="2.65" fill="#3f56a0" fill-opacity="0.5"/>
<circle cx="284.21" cy="416.24" r="2.65" fill="#3f56a0" fill-opacity="0.5"/>
<circle cx="284.21" cy="422.67" r="2.65" fill="#3f56a0" fill-opacity="0.5"/>
<circle cx="284.21" cy="423.89" r="2.65" fill="#3f56a0" fill-opacity="0.5"/>
<circle cx="284.21" cy="429.70" r="2.65" fill="#3f56a0" fill-opacity="0.5"/>
<circle cx="303.02" cy="396.04" r="2.65" fill="#5a88d0" fill-opacity="0.5"/>
<circle cx="303.02" cy="405.53" r="2.65" fill="#5a88d0" fill-opacity="0.5"/>
<circle cx="303.02" cy="408.59" r="2.65" fill="#5a88d0" fill-opacity="0.5"/>
<circle cx="303.02" cy="416.24" r="2.65" fill="#5a88d0" fill-opacity="0.5"/>
<circle cx="303.02" cy="426.95" r="2.65" fill="#5a88d0" fill-opacity="0.5"/>
<circle cx="303.02" cy="430.32" r="2.65" fill="#5a88d0" fill-opacity="0.5"/>
<circle cx="303.02" cy="433.07" r="2.65" fill="#5a88d0" fill-opacity="0.5"/>
<circle cx="303.02" cy="442.25" r="2.65" fill="#5a88d0" fill-opacity="0.5"/>
<circle cx="321.83" cy="407.98" r="2.65" fill="#94bfe6" fill-opacity="0.5"/>
<circle cx="321.83" cy="417.16" r="2.65" fill="#94bfe6" fill-opacity="0.5"/>
<circle cx="321.83" cy="421.44" r="2.65" fill="#94bfe6" fill-opacity="0.5"/>
<circle cx="321.83" cy="426.03" r="2.65" fill="#94bfe6" fill-opacity="0.5"/>
<circle cx="321.83" cy="432.15" r="2.65" fill="#94bfe6" fill-opacity="0.5"/>
<circle cx="321.83" cy="441.33" r="2.65" fill="#94bfe6" fill-opacity="0.5"/>
<circle cx="321.83" cy="446.84" r="2.65" fill="#94bfe6" fill-opacity="0.5"/>
<circle cx="321.83" cy="456.63" r="2.65" fill="#94bfe6" fill-opacity="0.5"/>
<circle cx="340.64" cy="447.45" r="2.65" fill="#c89a3c" fill-opacity="0.5"/>
<circle cx="340.64" cy="449.29" r="2.65" fill="#c89a3c" fill-opacity="0.5"/>
<circle cx="340.64" cy="461.22" r="2.65" fill="#c89a3c" fill-opacity="0.5"/>
<circle cx="340.64" cy="462.14" r="2.65" fill="#c89a3c" fill-opacity="0.5"/>
<circle cx="340.64" cy="463.67" r="2.65" fill="#c89a3c" fill-opacity="0.5"/>
<circle cx="340.64" cy="465.20" r="2.65" fill="#c89a3c" fill-opacity="0.5"/>
<circle cx="340.64" cy="466.42" r="2.65" fill="#c89a3c" fill-opacity="0.5"/>
<circle cx="340.64" cy="475.91" r="2.65" fill="#c89a3c" fill-opacity="0.5"/>
<circle cx="359.45" cy="457.86" r="2.65" fill="#9346d6" fill-opacity="0.5"/>
<circle cx="359.45" cy="459.69" r="2.65" fill="#9346d6" fill-opacity="0.5"/>
<circle cx="359.45" cy="471.32" r="2.65" fill="#9346d6" fill-opacity="0.5"/>
<circle cx="359.45" cy="471.93" r="2.65" fill="#9346d6" fill-opacity="0.5"/>
<circle cx="359.45" cy="473.16" r="2.65" fill="#9346d6" fill-opacity="0.5"/>
<circle cx="359.45" cy="474.07" r="2.65" fill="#9346d6" fill-opacity="0.5"/>
<circle cx="359.45" cy="475.30" r="2.65" fill="#9346d6" fill-opacity="0.5"/>
<circle cx="359.45" cy="476.83" r="2.65" fill="#9346d6" fill-opacity="0.5"/>
<circle cx="378.26" cy="460.00" r="2.65" fill="#a464dc" fill-opacity="0.5"/>
<circle cx="378.26" cy="463.06" r="2.65" fill="#a464dc" fill-opacity="0.5"/>
<circle cx="378.26" cy="466.42" r="2.65" fill="#a464dc" fill-opacity="0.5"/>
<circle cx="378.26" cy="469.18" r="2.65" fill="#a464dc" fill-opacity="0.5"/>
<circle cx="378.26" cy="473.16" r="2.65" fill="#a464dc" fill-opacity="0.5"/>
<circle cx="378.26" cy="475.91" r="2.65" fill="#a464dc" fill-opacity="0.5"/>
<circle cx="378.26" cy="480.50" r="2.65" fill="#a464dc" fill-opacity="0.5"/>
<circle cx="378.26" cy="486.01" r="2.65" fill="#a464dc" fill-opacity="0.5"/>
<circle cx="397.07" cy="460.61" r="2.65" fill="#5e2a78" fill-opacity="0.5"/>
<circle cx="397.07" cy="462.45" r="2.65" fill="#5e2a78" fill-opacity="0.5"/>
<circle cx="397.07" cy="465.51" r="2.65" fill="#5e2a78" fill-opacity="0.5"/>
<circle cx="397.07" cy="468.26" r="2.65" fill="#5e2a78" fill-opacity="0.5"/>
<circle cx="397.07" cy="471.32" r="2.65" fill="#5e2a78" fill-opacity="0.5"/>
<circle cx="397.07" cy="473.16" r="2.65" fill="#5e2a78" fill-opacity="0.5"/>
<circle cx="397.07" cy="480.50" r="2.65" fill="#5e2a78" fill-opacity="0.5"/>
<circle cx="397.07" cy="486.01" r="2.65" fill="#5e2a78" fill-opacity="0.5"/>
<circle cx="415.88" cy="474.99" r="2.65" fill="#8a52a6" fill-opacity="0.5"/>
<circle cx="415.88" cy="485.40" r="2.65" fill="#8a52a6" fill-opacity="0.5"/>
<circle cx="415.88" cy="485.40" r="2.65" fill="#8a52a6" fill-opacity="0.5"/>
<circle cx="415.88" cy="485.40" r="2.65" fill="#8a52a6" fill-opacity="0.5"/>
<circle cx="415.88" cy="485.40" r="2.65" fill="#8a52a6" fill-opacity="0.5"/>
<circle cx="415.88" cy="485.40" r="2.65" fill="#8a52a6" fill-opacity="0.5"/>
<circle cx="415.88" cy="485.40" r="2.65" fill="#8a52a6" fill-opacity="0.5"/>
<circle cx="415.88" cy="485.40" r="2.65" fill="#8a52a6" fill-opacity="0.5"/>
<circle cx="434.69" cy="448.37" r="2.65" fill="#e08cc8" fill-opacity="0.5"/>
<circle cx="434.69" cy="466.42" r="2.65" fill="#e08cc8" fill-opacity="0.5"/>
<circle cx="434.69" cy="468.87" r="2.65" fill="#e08cc8" fill-opacity="0.5"/>
<circle cx="434.69" cy="480.50" r="2.65" fill="#e08cc8" fill-opacity="0.5"/>
<circle cx="434.69" cy="485.40" r="2.65" fill="#e08cc8" fill-opacity="0.5"/>
<circle cx="434.69" cy="485.40" r="2.65" fill="#e08cc8" fill-opacity="0.5"/>
<circle cx="434.69" cy="485.40" r="2.65" fill="#e08cc8" fill-opacity="0.5"/>
<circle cx="434.69" cy="485.40" r="2.65" fill="#e08cc8" fill-opacity="0.5"/>
<circle cx="453.50" cy="419.91" r="2.65" fill="#6a7f30" fill-opacity="0.5"/>
<circle cx="453.50" cy="438.58" r="2.65" fill="#6a7f30" fill-opacity="0.5"/>
<circle cx="453.50" cy="446.53" r="2.65" fill="#6a7f30" fill-opacity="0.5"/>
<circle cx="453.50" cy="450.21" r="2.65" fill="#6a7f30" fill-opacity="0.5"/>
<circle cx="453.50" cy="459.08" r="2.65" fill="#6a7f30" fill-opacity="0.5"/>
<circle cx="453.50" cy="462.45" r="2.65" fill="#6a7f30" fill-opacity="0.5"/>
<circle cx="453.50" cy="466.42" r="2.65" fill="#6a7f30" fill-opacity="0.5"/>
<circle cx="453.50" cy="468.26" r="2.65" fill="#6a7f30" fill-opacity="0.5"/>
<polyline points="265.40,397.88 284.21,385.64 303.02,396.04 321.83,407.98 340.64,447.45 359.45,457.86 378.26,463.06 397.07,460.61 415.88,474.99 434.69,468.87 453.50,419.91" fill="none" stroke="#d2d2d2" stroke-width="0.6" stroke-opacity="0.9"/>
<polyline points="265.40,391.15 284.21,414.71 303.02,408.59 321.83,421.44 340.64,461.22 359.45,471.32 378.26,466.42 397.07,462.45 415.88,485.40 434.69,448.37 453.50,438.58" fill="none" stroke="#d2d2d2" stroke-width="0.6" stroke-opacity="0.9"/>
<polyline points="265.40,384.42 284.21,400.02 303.02,405.53 321.83,417.16 340.64,449.29 359.45,459.69 378.26,460.00 397.07,465.51 415.88,485.40 434.69,466.42 453.50,446.53" fill="none" stroke="#d2d2d2" stroke-width="0.6" stroke-opacity="0.9"/>
<polyline points="265.40,404.00 284.21,422.67 303.02,430.32 321.83,426.03 340.64,462.14 359.45,471.93 378.26,469.18 397.07,468.26 415.88,485.40 434.69,480.50 453.50,450.21" fill="none" stroke="#d2d2d2" stroke-width="0.6" stroke-opacity="0.9"/>
<polyline points="265.40,400.63 284.21,404.00 303.02,416.24 321.83,432.15 340.64,465.20 359.45,474.07 378.26,486.01 397.07,473.16 415.88,485.40 434.69,485.40 453.50,462.45" fill="none" stroke="#d2d2d2" stroke-width="0.6" stroke-opacity="0.9"/>
<polyline points="265.40,407.67 284.21,416.24 303.02,426.95 321.83,456.63 340.64,475.91 359.45,475.30 378.26,480.50 397.07,471.32 415.88,485.40 434.69,485.40 453.50,466.42" fill="none" stroke="#d2d2d2" stroke-width="0.6" stroke-opacity="0.9"/>
<polyline points="265.40,411.96 284.21,423.89 303.02,433.07 321.83,441.33 340.64,466.42 359.45,476.83 378.26,475.91 397.07,486.01 415.88,485.40 434.69,485.40 453.50,459.08" fill="none" stroke="#d2d2d2" stroke-width="0.6" stroke-opacity="0.9"/>
<polyline points="265.40,413.49 284.21,429.70 303.02,442.25 321.83,446.84 340.64,463.67 359.45,473.16 378.26,473.16 397.07,480.50 415.88,485.40 434.69,485.40 453.50,468.26" fill="none" stroke="#d2d2d2" stroke-width="0.6" stroke-opacity="0.9"/>
<line x1="259.40" y1="401.55" x2="271.40" y2="401.55" stroke="#111" stroke-width="1.8"/>
<line x1="278.21" y1="411.62" x2="290.21" y2="411.62" stroke="#111" stroke-width="1.8"/>
<line x1="297.02" y1="421.44" x2="309.02" y2="421.44" stroke="#111" stroke-width="1.8"/>
<line x1="315.83" y1="434.69" x2="327.83" y2="434.69" stroke="#111" stroke-width="1.8"/>
<line x1="334.64" y1="459.81" x2="346.64" y2="459.81" stroke="#111" stroke-width="1.8"/>
<line x1="353.45" y1="471.34" x2="365.45" y2="471.34" stroke="#111" stroke-width="1.8"/>
<line x1="372.26" y1="471.77" x2="384.26" y2="471.77" stroke="#111" stroke-width="1.8"/>
<line x1="391.07" y1="470.92" x2="403.07" y2="470.92" stroke="#111" stroke-width="1.8"/>
<line x1="409.88" y1="484.17" x2="421.88" y2="484.17" stroke="#111" stroke-width="1.8"/>
<line x1="428.69" y1="477.71" x2="440.69" y2="477.71" stroke="#111" stroke-width="1.8"/>
<line x1="447.50" y1="451.71" x2="459.50" y2="451.71" stroke="#111" stroke-width="1.8"/>
<text x="265.40" y="372.60" font-size="6.6" text-anchor="middle" fill="#111">12027</text>
<text x="284.21" y="357.30" font-size="7.4" text-anchor="middle" fill="#111">*</text>
<text x="284.21" y="364.90" font-size="6.6" text-anchor="middle" fill="#111">0.43x</text>
<text x="284.21" y="372.60" font-size="6.6" text-anchor="middle" fill="#111">5638</text>
<text x="303.02" y="357.30" font-size="7.4" text-anchor="middle" fill="#111">**</text>
<text x="303.02" y="364.90" font-size="6.6" text-anchor="middle" fill="#111">0.21x</text>
<text x="303.02" y="372.60" font-size="6.6" text-anchor="middle" fill="#111">2691</text>
<text x="321.83" y="357.30" font-size="7.4" text-anchor="middle" fill="#111">**</text>
<text x="321.83" y="364.90" font-size="6.6" text-anchor="middle" fill="#111">0.1x</text>
<text x="321.83" y="372.60" font-size="6.6" text-anchor="middle" fill="#111">993</text>
<text x="340.64" y="357.30" font-size="7.4" text-anchor="middle" fill="#111">**</text>
<text x="340.64" y="364.90" font-size="6.6" text-anchor="middle" fill="#111">0.03x</text>
<text x="340.64" y="372.60" font-size="6.6" text-anchor="middle" fill="#111">150</text>
<text x="359.45" y="357.30" font-size="7.4" text-anchor="middle" fill="#111">**</text>
<text x="359.45" y="364.90" font-size="6.6" text-anchor="middle" fill="#111">0.01x</text>
<text x="359.45" y="372.60" font-size="6.6" text-anchor="middle" fill="#111">63</text>
<text x="378.26" y="357.30" font-size="7.4" text-anchor="middle" fill="#111">**</text>
<text x="378.26" y="364.90" font-size="6.6" text-anchor="middle" fill="#111">0.01x</text>
<text x="378.26" y="372.60" font-size="6.6" text-anchor="middle" fill="#111">61</text>
<text x="397.07" y="357.30" font-size="7.4" text-anchor="middle" fill="#111">**</text>
<text x="397.07" y="364.90" font-size="6.6" text-anchor="middle" fill="#111">0.01x</text>
<text x="397.07" y="372.60" font-size="6.6" text-anchor="middle" fill="#111">65</text>
<text x="415.88" y="357.30" font-size="7.4" text-anchor="middle" fill="#111">**</text>
<text x="415.88" y="364.90" font-size="6.6" text-anchor="middle" fill="#111">0.01x</text>
<text x="415.88" y="372.60" font-size="6.6" text-anchor="middle" fill="#111">24</text>
<text x="434.69" y="357.30" font-size="7.4" text-anchor="middle" fill="#111">**</text>
<text x="434.69" y="364.90" font-size="6.6" text-anchor="middle" fill="#111">0.01x</text>
<text x="434.69" y="372.60" font-size="6.6" text-anchor="middle" fill="#111">39</text>
<text x="453.50" y="357.30" font-size="7.4" text-anchor="middle" fill="#111">**</text>
<text x="453.50" y="364.90" font-size="6.6" text-anchor="middle" fill="#111">0.15x</text>
<text x="453.50" y="372.60" font-size="6.6" text-anchor="middle" fill="#111">276</text>
<text x="359.45" y="347.50" font-size="9" text-anchor="middle" fill="#111">T2</text>
<line x1="254.20" y1="493.30" x2="464.80" y2="493.30" stroke="#333" stroke-width="1.1"/>
<line x1="265.40" y1="493.30" x2="265.40" y2="497.50" stroke="#333" stroke-width="1.0"/>
<text font-size="8.2" text-anchor="end" fill="#222" transform="translate(269.00 504.90) rotate(-45)">WT</text>
<line x1="284.21" y1="493.30" x2="284.21" y2="497.50" stroke="#333" stroke-width="1.0"/>
<text font-size="8.2" text-anchor="end" fill="#222" transform="translate(287.81 504.90) rotate(-45)">BA.5</text>
<line x1="303.02" y1="493.30" x2="303.02" y2="497.50" stroke="#333" stroke-width="1.0"/>
<text font-size="8.2" text-anchor="end" fill="#222" transform="translate(306.62 504.90) rotate(-45)">BF.7</text>
<line x1="321.83" y1="493.30" x2="321.83" y2="497.50" stroke="#333" stroke-width="1.0"/>
<text font-size="8.2" text-anchor="end" fill="#222" transform="translate(325.43 504.90) rotate(-45)">BQ.1.1</text>
<line x1="340.64" y1="493.30" x2="340.64" y2="497.50" stroke="#333" stroke-width="1.0"/>
<text font-size="8.2" text-anchor="end" fill="#222" transform="translate(344.24 504.90) rotate(-45)">XBB.1.5</text>
<line x1="359.45" y1="493.30" x2="359.45" y2="497.50" stroke="#333" stroke-width="1.0"/>
<text font-size="8.2" text-anchor="end" fill="#222" transform="translate(363.05 504.90) rotate(-45)">JN.1</text>
<line x1="378.26" y1="493.30" x2="378.26" y2="497.50" stroke="#333" stroke-width="1.0"/>
<text font-size="8.2" text-anchor="end" fill="#222" transform="translate(381.86 504.90) rotate(-45)">XDV.1</text>
<line x1="397.07" y1="493.30" x2="397.07" y2="497.50" stroke="#333" stroke-width="1.0"/>
<text font-size="8.2" text-anchor="end" fill="#222" transform="translate(400.67 504.90) rotate(-45)">KP.3</text>
<line x1="415.88" y1="493.30" x2="415.88" y2="497.50" stroke="#333" stroke-width="1.0"/>
<text font-size="8.2" text-anchor="end" fill="#222" transform="translate(419.48 504.90) rotate(-45)">KP.3.1.1</text>
<line x1="434.69" y1="493.30" x2="434.69" y2="497.50" stroke="#333" stroke-width="1.0"/>
<text font-size="8.2" text-anchor="end" fill="#222" transform="translate(438.29 504.90) rotate(-45)">XEC</text>
<line x1="453.50" y1="493.30" x2="453.50" y2="497.50" stroke="#333" stroke-width="1.0"/>
<text font-size="8.2" text-anchor="end" fill="#222" transform="translate(457.10 504.90) rotate(-45)">SARS-CoV</text>
<line x1="472.20" y1="476.22" x2="682.80" y2="476.22" stroke="#9c9c9c" stroke-width="0.9" stroke-dasharray="3.2 2.6"/>
<circle cx="483.45" cy="396.66" r="2.65" fill="#cf5a44" fill-opacity="0.5"/>
<circle cx="483.45" cy="402.78" r="2.65" fill="#cf5a44" fill-opacity="0.5"/>
<circle cx="483.45" cy="405.84" r="2.65" fill="#cf5a44" fill-opacity="0.5"/>
<circle cx="483.45" cy="407.67" r="2.65" fill="#cf5a44" fill-opacity="0.5"/>
<circle cx="483.45" cy="408.59" r="2.65" fill="#cf5a44" fill-opacity="0.5"/>
<circle cx="483.45" cy="409.51" r="2.65" fill="#cf5a44" fill-opacity="0.5"/>
<circle cx="483.45" cy="410.73" r="2.65" fill="#cf5a44" fill-opacity="0.5"/>
<circle cx="483.45" cy="411.96" r="2.65" fill="#cf5a44" fill-opacity="0.5"/>
<circle cx="483.45" cy="413.79" r="2.65" fill="#cf5a44" fill-opacity="0.5"/>
<circle cx="483.45" cy="419.91" r="2.65" fill="#cf5a44" fill-opacity="0.5"/>
<circle cx="483.45" cy="422.67" r="2.65" fill="#cf5a44" fill-opacity="0.5"/>
<circle cx="483.45" cy="425.11" r="2.65" fill="#cf5a44" fill-opacity="0.5"/>
<circle cx="502.26" cy="383.80" r="2.65" fill="#3f56a0" fill-opacity="0.5"/>
<circle cx="502.26" cy="387.48" r="2.65" fill="#3f56a0" fill-opacity="0.5"/>
<circle cx="502.26" cy="396.35" r="2.65" fill="#3f56a0" fill-opacity="0.5"/>
<circle cx="502.26" cy="400.63" r="2.65" fill="#3f56a0" fill-opacity="0.5"/>
<circle cx="502.26" cy="402.47" r="2.65" fill="#3f56a0" fill-opacity="0.5"/>
<circle cx="502.26" cy="404.92" r="2.65" fill="#3f56a0" fill-opacity="0.5"/>
<circle cx="502.26" cy="407.67" r="2.65" fill="#3f56a0" fill-opacity="0.5"/>
<circle cx="502.26" cy="410.12" r="2.65" fill="#3f56a0" fill-opacity="0.5"/>
<circle cx="502.26" cy="412.87" r="2.65" fill="#3f56a0" fill-opacity="0.5"/>
<circle cx="502.26" cy="416.24" r="2.65" fill="#3f56a0" fill-opacity="0.5"/>
<circle cx="502.26" cy="418.08" r="2.65" fill="#3f56a0" fill-opacity="0.5"/>
<circle cx="502.26" cy="428.48" r="2.65" fill="#3f56a0" fill-opacity="0.5"/>
<circle cx="521.07" cy="379.52" r="2.65" fill="#5a88d0" fill-opacity="0.5"/>
<circle cx="521.07" cy="392.37" r="2.65" fill="#5a88d0" fill-opacity="0.5"/>
<circle cx="521.07" cy="402.47" r="2.65" fill="#5a88d0" fill-opacity="0.5"/>
<circle cx="521.07" cy="404.00" r="2.65" fill="#5a88d0" fill-opacity="0.5"/>
<circle cx="521.07" cy="406.75" r="2.65" fill="#5a88d0" fill-opacity="0.5"/>
<circle cx="521.07" cy="408.59" r="2.65" fill="#5a88d0" fill-opacity="0.5"/>
<circle cx="521.07" cy="409.81" r="2.65" fill="#5a88d0" fill-opacity="0.5"/>
<circle cx="521.07" cy="413.79" r="2.65" fill="#5a88d0" fill-opacity="0.5"/>
<circle cx="521.07" cy="416.24" r="2.65" fill="#5a88d0" fill-opacity="0.5"/>
<circle cx="521.07" cy="427.87" r="2.65" fill="#5a88d0" fill-opacity="0.5"/>
<circle cx="521.07" cy="431.23" r="2.65" fill="#5a88d0" fill-opacity="0.5"/>
<circle cx="521.07" cy="433.07" r="2.65" fill="#5a88d0" fill-opacity="0.5"/>
<circle cx="539.88" cy="394.51" r="2.65" fill="#94bfe6" fill-opacity="0.5"/>
<circle cx="539.88" cy="400.63" r="2.65" fill="#94bfe6" fill-opacity="0.5"/>
<circle cx="539.88" cy="402.47" r="2.65" fill="#94bfe6" fill-opacity="0.5"/>
<circle cx="539.88" cy="407.67" r="2.65" fill="#94bfe6" fill-opacity="0.5"/>
<circle cx="539.88" cy="415.63" r="2.65" fill="#94bfe6" fill-opacity="0.5"/>
<circle cx="539.88" cy="417.77" r="2.65" fill="#94bfe6" fill-opacity="0.5"/>
<circle cx="539.88" cy="421.75" r="2.65" fill="#94bfe6" fill-opacity="0.5"/>
<circle cx="539.88" cy="426.03" r="2.65" fill="#94bfe6" fill-opacity="0.5"/>
<circle cx="539.88" cy="428.79" r="2.65" fill="#94bfe6" fill-opacity="0.5"/>
<circle cx="539.88" cy="431.54" r="2.65" fill="#94bfe6" fill-opacity="0.5"/>
<circle cx="539.88" cy="433.07" r="2.65" fill="#94bfe6" fill-opacity="0.5"/>
<circle cx="539.88" cy="440.72" r="2.65" fill="#94bfe6" fill-opacity="0.5"/>
<circle cx="558.69" cy="413.49" r="2.65" fill="#c89a3c" fill-opacity="0.5"/>
<circle cx="558.69" cy="421.75" r="2.65" fill="#c89a3c" fill-opacity="0.5"/>
<circle cx="558.69" cy="423.89" r="2.65" fill="#c89a3c" fill-opacity="0.5"/>
<circle cx="558.69" cy="426.03" r="2.65" fill="#c89a3c" fill-opacity="0.5"/>
<circle cx="558.69" cy="428.79" r="2.65" fill="#c89a3c" fill-opacity="0.5"/>
<circle cx="558.69" cy="430.01" r="2.65" fill="#c89a3c" fill-opacity="0.5"/>
<circle cx="558.69" cy="431.23" r="2.65" fill="#c89a3c" fill-opacity="0.5"/>
<circle cx="558.69" cy="433.07" r="2.65" fill="#c89a3c" fill-opacity="0.5"/>
<circle cx="558.69" cy="433.99" r="2.65" fill="#c89a3c" fill-opacity="0.5"/>
<circle cx="558.69" cy="436.44" r="2.65" fill="#c89a3c" fill-opacity="0.5"/>
<circle cx="558.69" cy="440.72" r="2.65" fill="#c89a3c" fill-opacity="0.5"/>
<circle cx="558.69" cy="447.15" r="2.65" fill="#c89a3c" fill-opacity="0.5"/>
<circle cx="577.50" cy="421.75" r="2.65" fill="#9346d6" fill-opacity="0.5"/>
<circle cx="577.50" cy="423.89" r="2.65" fill="#9346d6" fill-opacity="0.5"/>
<circle cx="577.50" cy="426.03" r="2.65" fill="#9346d6" fill-opacity="0.5"/>
<circle cx="577.50" cy="436.44" r="2.65" fill="#9346d6" fill-opacity="0.5"/>
<circle cx="577.50" cy="439.19" r="2.65" fill="#9346d6" fill-opacity="0.5"/>
<circle cx="577.50" cy="441.03" r="2.65" fill="#9346d6" fill-opacity="0.5"/>
<circle cx="577.50" cy="446.84" r="2.65" fill="#9346d6" fill-opacity="0.5"/>
<circle cx="577.50" cy="455.71" r="2.65" fill="#9346d6" fill-opacity="0.5"/>
<circle cx="577.50" cy="457.55" r="2.65" fill="#9346d6" fill-opacity="0.5"/>
<circle cx="577.50" cy="459.39" r="2.65" fill="#9346d6" fill-opacity="0.5"/>
<circle cx="577.50" cy="460.92" r="2.65" fill="#9346d6" fill-opacity="0.5"/>
<circle cx="577.50" cy="464.59" r="2.65" fill="#9346d6" fill-opacity="0.5"/>
<circle cx="596.31" cy="422.67" r="2.65" fill="#a464dc" fill-opacity="0.5"/>
<circle cx="596.31" cy="428.79" r="2.65" fill="#a464dc" fill-opacity="0.5"/>
<circle cx="596.31" cy="431.54" r="2.65" fill="#a464dc" fill-opacity="0.5"/>
<circle cx="596.31" cy="433.99" r="2.65" fill="#a464dc" fill-opacity="0.5"/>
<circle cx="596.31" cy="437.35" r="2.65" fill="#a464dc" fill-opacity="0.5"/>
<circle cx="596.31" cy="443.78" r="2.65" fill="#a464dc" fill-opacity="0.5"/>
<circle cx="596.31" cy="447.15" r="2.65" fill="#a464dc" fill-opacity="0.5"/>
<circle cx="596.31" cy="452.35" r="2.65" fill="#a464dc" fill-opacity="0.5"/>
<circle cx="596.31" cy="455.71" r="2.65" fill="#a464dc" fill-opacity="0.5"/>
<circle cx="596.31" cy="457.55" r="2.65" fill="#a464dc" fill-opacity="0.5"/>
<circle cx="596.31" cy="463.67" r="2.65" fill="#a464dc" fill-opacity="0.5"/>
<circle cx="596.31" cy="468.87" r="2.65" fill="#a464dc" fill-opacity="0.5"/>
<circle cx="615.12" cy="429.40" r="2.65" fill="#5e2a78" fill-opacity="0.5"/>
<circle cx="615.12" cy="433.07" r="2.65" fill="#5e2a78" fill-opacity="0.5"/>
<circle cx="615.12" cy="436.13" r="2.65" fill="#5e2a78" fill-opacity="0.5"/>
<circle cx="615.12" cy="441.64" r="2.65" fill="#5e2a78" fill-opacity="0.5"/>
<circle cx="615.12" cy="446.84" r="2.65" fill="#5e2a78" fill-opacity="0.5"/>
<circle cx="615.12" cy="452.35" r="2.65" fill="#5e2a78" fill-opacity="0.5"/>
<circle cx="615.12" cy="455.71" r="2.65" fill="#5e2a78" fill-opacity="0.5"/>
<circle cx="615.12" cy="457.55" r="2.65" fill="#5e2a78" fill-opacity="0.5"/>
<circle cx="615.12" cy="459.39" r="2.65" fill="#5e2a78" fill-opacity="0.5"/>
<circle cx="615.12" cy="462.75" r="2.65" fill="#5e2a78" fill-opacity="0.5"/>
<circle cx="615.12" cy="466.42" r="2.65" fill="#5e2a78" fill-opacity="0.5"/>
<circle cx="615.12" cy="467.95" r="2.65" fill="#5e2a78" fill-opacity="0.5"/>
<circle cx="633.93" cy="430.32" r="2.65" fill="#8a52a6" fill-opacity="0.5"/>
<circle cx="633.93" cy="436.13" r="2.65" fill="#8a52a6" fill-opacity="0.5"/>
<circle cx="633.93" cy="442.56" r="2.65" fill="#8a52a6" fill-opacity="0.5"/>
<circle cx="633.93" cy="449.90" r="2.65" fill="#8a52a6" fill-opacity="0.5"/>
<circle cx="633.93" cy="456.63" r="2.65" fill="#8a52a6" fill-opacity="0.5"/>
<circle cx="633.93" cy="459.08" r="2.65" fill="#8a52a6" fill-opacity="0.5"/>
<circle cx="633.93" cy="460.92" r="2.65" fill="#8a52a6" fill-opacity="0.5"/>
<circle cx="633.93" cy="465.20" r="2.65" fill="#8a52a6" fill-opacity="0.5"/>
<circle cx="633.93" cy="468.87" r="2.65" fill="#8a52a6" fill-opacity="0.5"/>
<circle cx="633.93" cy="471.32" r="2.65" fill="#8a52a6" fill-opacity="0.5"/>
<circle cx="633.93" cy="473.46" r="2.65" fill="#8a52a6" fill-opacity="0.5"/>
<circle cx="633.93" cy="485.70" r="2.65" fill="#8a52a6" fill-opacity="0.5"/>
<circle cx="652.74" cy="435.52" r="2.65" fill="#e08cc8" fill-opacity="0.5"/>
<circle cx="652.74" cy="438.88" r="2.65" fill="#e08cc8" fill-opacity="0.5"/>
<circle cx="652.74" cy="448.68" r="2.65" fill="#e08cc8" fill-opacity="0.5"/>
<circle cx="652.74" cy="455.71" r="2.65" fill="#e08cc8" fill-opacity="0.5"/>
<circle cx="652.74" cy="459.08" r="2.65" fill="#e08cc8" fill-opacity="0.5"/>
<circle cx="652.74" cy="462.14" r="2.65" fill="#e08cc8" fill-opacity="0.5"/>
<circle cx="652.74" cy="466.42" r="2.65" fill="#e08cc8" fill-opacity="0.5"/>
<circle cx="652.74" cy="468.26" r="2.65" fill="#e08cc8" fill-opacity="0.5"/>
<circle cx="652.74" cy="471.63" r="2.65" fill="#e08cc8" fill-opacity="0.5"/>
<circle cx="652.74" cy="474.38" r="2.65" fill="#e08cc8" fill-opacity="0.5"/>
<circle cx="652.74" cy="480.50" r="2.65" fill="#e08cc8" fill-opacity="0.5"/>
<circle cx="652.74" cy="485.70" r="2.65" fill="#e08cc8" fill-opacity="0.5"/>
<circle cx="671.55" cy="431.23" r="2.65" fill="#6a7f30" fill-opacity="0.5"/>
<circle cx="671.55" cy="440.41" r="2.65" fill="#6a7f30" fill-opacity="0.5"/>
<circle cx="671.55" cy="445.31" r="2.65" fill="#6a7f30" fill-opacity="0.5"/>
<circle cx="671.55" cy="449.90" r="2.65" fill="#6a7f30" fill-opacity="0.5"/>
<circle cx="671.55" cy="451.43" r="2.65" fill="#6a7f30" fill-opacity="0.5"/>
<circle cx="671.55" cy="452.96" r="2.65" fill="#6a7f30" fill-opacity="0.5"/>
<circle cx="671.55" cy="455.71" r="2.65" fill="#6a7f30" fill-opacity="0.5"/>
<circle cx="671.55" cy="459.08" r="2.65" fill="#6a7f30" fill-opacity="0.5"/>
<circle cx="671.55" cy="460.92" r="2.65" fill="#6a7f30" fill-opacity="0.5"/>
<circle cx="671.55" cy="465.20" r="2.65" fill="#6a7f30" fill-opacity="0.5"/>
<circle cx="671.55" cy="469.79" r="2.65" fill="#6a7f30" fill-opacity="0.5"/>
<circle cx="671.55" cy="474.07" r="2.65" fill="#6a7f30" fill-opacity="0.5"/>
<polyline points="483.45,405.84 502.26,387.48 521.07,402.47 539.88,394.51 558.69,421.75 577.50,423.89 596.31,422.67 615.12,429.40 633.93,430.32 652.74,435.52 671.55,445.31" fill="none" stroke="#d2d2d2" stroke-width="0.6" stroke-opacity="0.9"/>
<polyline points="483.45,396.66 502.26,396.35 521.07,392.37 539.88,402.47 558.69,413.49 577.50,421.75 596.31,428.79 615.12,433.07 633.93,436.13 652.74,448.68 671.55,431.23" fill="none" stroke="#d2d2d2" stroke-width="0.6" stroke-opacity="0.9"/>
<polyline points="483.45,402.78 502.26,383.80 521.07,379.52 539.88,400.63 558.69,423.89 577.50,426.03 596.31,433.99 615.12,436.13 633.93,449.90 652.74,438.88 671.55,440.41" fill="none" stroke="#d2d2d2" stroke-width="0.6" stroke-opacity="0.9"/>
<polyline points="483.45,407.67 502.26,400.63 521.07,404.00 539.88,407.67 558.69,430.01 577.50,441.03 596.31,431.54 615.12,441.64 633.93,442.56 652.74,455.71 671.55,449.90" fill="none" stroke="#d2d2d2" stroke-width="0.6" stroke-opacity="0.9"/>
<polyline points="483.45,408.59 502.26,404.92 521.07,406.75 539.88,421.75 558.69,426.03 577.50,439.19 596.31,443.78 615.12,452.35 633.93,456.63 652.74,459.08 671.55,451.43" fill="none" stroke="#d2d2d2" stroke-width="0.6" stroke-opacity="0.9"/>
<polyline points="483.45,409.51 502.26,402.47 521.07,408.59 539.88,417.77 558.69,431.23 577.50,455.71 596.31,452.35 615.12,459.39 633.93,471.32 652.74,468.26 671.55,452.96" fill="none" stroke="#d2d2d2" stroke-width="0.6" stroke-opacity="0.9"/>
<polyline points="483.45,410.73 502.26,407.67 521.07,409.81 539.88,415.63 558.69,428.79 577.50,436.44 596.31,437.35 615.12,446.84 633.93,459.08 652.74,466.42 671.55,455.71" fill="none" stroke="#d2d2d2" stroke-width="0.6" stroke-opacity="0.9"/>
<polyline points="483.45,411.96 502.26,410.12 521.07,413.79 539.88,426.03 558.69,433.99 577.50,457.55 596.31,457.55 615.12,457.55 633.93,465.20 652.74,462.14 671.55,460.92" fill="none" stroke="#d2d2d2" stroke-width="0.6" stroke-opacity="0.9"/>
<polyline points="483.45,419.91 502.26,416.24 521.07,416.24 539.88,428.79 558.69,433.07 577.50,446.84 596.31,447.15 615.12,455.71 633.93,460.92 652.74,474.38 671.55,465.20" fill="none" stroke="#d2d2d2" stroke-width="0.6" stroke-opacity="0.9"/>
<polyline points="483.45,413.79 502.26,412.87 521.07,427.87 539.88,431.54 558.69,436.44 577.50,459.39 596.31,455.71 615.12,462.75 633.93,468.87 652.74,471.63 671.55,459.08" fill="none" stroke="#d2d2d2" stroke-width="0.6" stroke-opacity="0.9"/>
<polyline points="483.45,425.11 502.26,418.08 521.07,431.23 539.88,433.07 558.69,440.72 577.50,460.92 596.31,463.67 615.12,466.42 633.93,473.46 652.74,485.70 671.55,469.79" fill="none" stroke="#d2d2d2" stroke-width="0.6" stroke-opacity="0.9"/>
<polyline points="483.45,422.67 502.26,428.48 521.07,433.07 539.88,440.72 558.69,447.15 577.50,464.59 596.31,468.87 615.12,467.95 633.93,485.70 652.74,480.50 671.55,474.07" fill="none" stroke="#d2d2d2" stroke-width="0.6" stroke-opacity="0.9"/>
<line x1="477.45" y1="411.34" x2="489.45" y2="411.34" stroke="#111" stroke-width="1.8"/>
<line x1="496.26" y1="405.42" x2="508.26" y2="405.42" stroke="#111" stroke-width="1.8"/>
<line x1="515.07" y1="409.64" x2="527.07" y2="409.64" stroke="#111" stroke-width="1.8"/>
<line x1="533.88" y1="416.64" x2="545.88" y2="416.64" stroke="#111" stroke-width="1.8"/>
<line x1="552.69" y1="430.88" x2="564.69" y2="430.88" stroke="#111" stroke-width="1.8"/>
<line x1="571.50" y1="444.78" x2="583.50" y2="444.78" stroke="#111" stroke-width="1.8"/>
<line x1="590.31" y1="445.42" x2="602.31" y2="445.42" stroke="#111" stroke-width="1.8"/>
<line x1="609.12" y1="451.24" x2="621.12" y2="451.24" stroke="#111" stroke-width="1.8"/>
<line x1="627.93" y1="457.24" x2="639.93" y2="457.24" stroke="#111" stroke-width="1.8"/>
<line x1="646.74" y1="462.23" x2="658.74" y2="462.23" stroke="#111" stroke-width="1.8"/>
<line x1="665.55" y1="454.66" x2="677.55" y2="454.66" stroke="#111" stroke-width="1.8"/>
<text x="483.45" y="357.30" font-size="7.4" text-anchor="middle" fill="#111">*</text>
<text x="483.45" y="364.90" font-size="6.6" text-anchor="middle" fill="#111">0.64x</text>
<text x="483.45" y="372.60" font-size="6.6" text-anchor="middle" fill="#111">5757</text>
<text x="502.26" y="372.60" font-size="6.6" text-anchor="middle" fill="#111">8989</text>
<text x="521.07" y="358.00" font-size="6.6" text-anchor="middle" fill="#111">ns</text>
<text x="521.07" y="364.90" font-size="6.6" text-anchor="middle" fill="#111">0.73x</text>
<text x="521.07" y="372.60" font-size="6.6" text-anchor="middle" fill="#111">6542</text>
<text x="539.88" y="358.00" font-size="6.6" text-anchor="middle" fill="#111">ns</text>
<text x="539.88" y="364.90" font-size="6.6" text-anchor="middle" fill="#111">0.43x</text>
<text x="539.88" y="372.60" font-size="6.6" text-anchor="middle" fill="#111">3864</text>
<text x="558.69" y="357.30" font-size="7.4" text-anchor="middle" fill="#111">***</text>
<text x="558.69" y="364.90" font-size="6.6" text-anchor="middle" fill="#111">0.15x</text>
<text x="558.69" y="372.60" font-size="6.6" text-anchor="middle" fill="#111">1323</text>
<text x="577.50" y="357.30" font-size="7.4" text-anchor="middle" fill="#111">***</text>
<text x="577.50" y="364.90" font-size="6.6" text-anchor="middle" fill="#111">0.05x</text>
<text x="577.50" y="372.60" font-size="6.6" text-anchor="middle" fill="#111">465</text>
<text x="596.31" y="357.30" font-size="7.4" text-anchor="middle" fill="#111">**</text>
<text x="596.31" y="364.90" font-size="6.6" text-anchor="middle" fill="#111">0.05x</text>
<text x="596.31" y="372.60" font-size="6.6" text-anchor="middle" fill="#111">443</text>
<text x="615.12" y="357.30" font-size="7.4" text-anchor="middle" fill="#111">**</text>
<text x="615.12" y="364.90" font-size="6.6" text-anchor="middle" fill="#111">0.03x</text>
<text x="615.12" y="372.60" font-size="6.6" text-anchor="middle" fill="#111">286</text>
<text x="633.93" y="357.30" font-size="7.4" text-anchor="middle" fill="#111">**</text>
<text x="633.93" y="364.90" font-size="6.6" text-anchor="middle" fill="#111">0.02x</text>
<text x="633.93" y="372.60" font-size="6.6" text-anchor="middle" fill="#111">182</text>
<text x="652.74" y="357.30" font-size="7.4" text-anchor="middle" fill="#111">**</text>
<text x="652.74" y="364.90" font-size="6.6" text-anchor="middle" fill="#111">0.01x</text>
<text x="652.74" y="372.60" font-size="6.6" text-anchor="middle" fill="#111">125</text>
<text x="671.55" y="357.30" font-size="7.4" text-anchor="middle" fill="#111">***</text>
<text x="671.55" y="364.90" font-size="6.6" text-anchor="middle" fill="#111">0.02x</text>
<text x="671.55" y="372.60" font-size="6.6" text-anchor="middle" fill="#111">221</text>
<text x="577.50" y="347.50" font-size="9" text-anchor="middle" fill="#111">T3</text>
<line x1="472.20" y1="493.30" x2="682.80" y2="493.30" stroke="#333" stroke-width="1.1"/>
<line x1="483.45" y1="493.30" x2="483.45" y2="497.50" stroke="#333" stroke-width="1.0"/>
<text font-size="8.2" text-anchor="end" fill="#222" transform="translate(487.05 504.90) rotate(-45)">WT</text>
<line x1="502.26" y1="493.30" x2="502.26" y2="497.50" stroke="#333" stroke-width="1.0"/>
<text font-size="8.2" text-anchor="end" fill="#222" transform="translate(505.86 504.90) rotate(-45)">BA.5</text>
<line x1="521.07" y1="493.30" x2="521.07" y2="497.50" stroke="#333" stroke-width="1.0"/>
<text font-size="8.2" text-anchor="end" fill="#222" transform="translate(524.67 504.90) rotate(-45)">BF.7</text>
<line x1="539.88" y1="493.30" x2="539.88" y2="497.50" stroke="#333" stroke-width="1.0"/>
<text font-size="8.2" text-anchor="end" fill="#222" transform="translate(543.48 504.90) rotate(-45)">BQ.1.1</text>
<line x1="558.69" y1="493.30" x2="558.69" y2="497.50" stroke="#333" stroke-width="1.0"/>
<text font-size="8.2" text-anchor="end" fill="#222" transform="translate(562.29 504.90) rotate(-45)">XBB.1.5</text>
<line x1="577.50" y1="493.30" x2="577.50" y2="497.50" stroke="#333" stroke-width="1.0"/>
<text font-size="8.2" text-anchor="end" fill="#222" transform="translate(581.10 504.90) rotate(-45)">JN.1</text>
<line x1="596.31" y1="493.30" x2="596.31" y2="497.50" stroke="#333" stroke-width="1.0"/>
<text font-size="8.2" text-anchor="end" fill="#222" transform="translate(599.91 504.90) rotate(-45)">XDV.1</text>
<line x1="615.12" y1="493.30" x2="615.12" y2="497.50" stroke="#333" stroke-width="1.0"/>
<text font-size="8.2" text-anchor="end" fill="#222" transform="translate(618.72 504.90) rotate(-45)">KP.3</text>
<line x1="633.93" y1="493.30" x2="633.93" y2="497.50" stroke="#333" stroke-width="1.0"/>
<text font-size="8.2" text-anchor="end" fill="#222" transform="translate(637.53 504.90) rotate(-45)">KP.3.1.1</text>
<line x1="652.74" y1="493.30" x2="652.74" y2="497.50" stroke="#333" stroke-width="1.0"/>
<text font-size="8.2" text-anchor="end" fill="#222" transform="translate(656.34 504.90) rotate(-45)">XEC</text>
<line x1="671.55" y1="493.30" x2="671.55" y2="497.50" stroke="#333" stroke-width="1.0"/>
<text font-size="8.2" text-anchor="end" fill="#222" transform="translate(675.15 504.90) rotate(-45)">SARS-CoV</text>
<text x="118.40" y="562.00" font-size="8.2" text-anchor="middle" fill="#222">T1</text>
<text font-size="8.2" text-anchor="middle" fill="#222" transform="translate(16.6 641.8) rotate(-90)">Ratio of Variant / WT pVNT<tspan font-size="5.9" dy="2">50</tspan><tspan dy="-2"> Titer</tspan></text>
<line x1="58.97" y1="695.66" x2="58.97" y2="689.74" stroke="#ec6b6b" stroke-width="1.0" stroke-opacity="0.85"/>
<line x1="73.74" y1="699.14" x2="73.74" y2="695.66" stroke="#ec6b6b" stroke-width="1.0" stroke-opacity="0.85"/>
<line x1="88.51" y1="703.67" x2="88.51" y2="700.54" stroke="#ec6b6b" stroke-width="1.0" stroke-opacity="0.85"/>
<line x1="191.90" y1="707.50" x2="191.90" y2="706.11" stroke="#ec6b6b" stroke-width="1.0" stroke-opacity="0.85"/>
<polyline points="44.20,673.37 58.97,692.53 73.74,697.40 88.51,702.28 103.28,707.50 118.05,707.85 132.82,707.85 147.59,707.85 162.36,707.99 177.13,707.99 191.90,706.81" fill="none" stroke="#ec6b6b" stroke-width="1.15" stroke-linejoin="round"/>
<circle cx="44.20" cy="673.37" r="1.5" fill="#ec6b6b"/>
<circle cx="58.97" cy="692.53" r="1.5" fill="#ec6b6b"/>
<circle cx="73.74" cy="697.40" r="1.5" fill="#ec6b6b"/>
<circle cx="88.51" cy="702.28" r="1.5" fill="#ec6b6b"/>
<circle cx="103.28" cy="707.50" r="1.5" fill="#ec6b6b"/>
<circle cx="118.05" cy="707.85" r="1.5" fill="#ec6b6b"/>
<circle cx="132.82" cy="707.85" r="1.5" fill="#ec6b6b"/>
<circle cx="147.59" cy="707.85" r="1.5" fill="#ec6b6b"/>
<circle cx="162.36" cy="707.99" r="1.5" fill="#ec6b6b"/>
<circle cx="177.13" cy="707.99" r="1.5" fill="#ec6b6b"/>
<circle cx="191.90" cy="706.81" r="1.5" fill="#ec6b6b"/>
<line x1="58.97" y1="694.96" x2="58.97" y2="685.91" stroke="#66d4c6" stroke-width="1.0" stroke-opacity="0.85"/>
<line x1="73.74" y1="698.80" x2="73.74" y2="694.96" stroke="#66d4c6" stroke-width="1.0" stroke-opacity="0.85"/>
<line x1="88.51" y1="701.23" x2="88.51" y2="692.18" stroke="#66d4c6" stroke-width="1.0" stroke-opacity="0.85"/>
<line x1="191.90" y1="705.76" x2="191.90" y2="703.32" stroke="#66d4c6" stroke-width="1.0" stroke-opacity="0.85"/>
<polyline points="44.20,673.37 58.97,690.79 73.74,697.05 88.51,697.05 103.28,707.85 118.05,707.85 132.82,707.85 147.59,707.85 162.36,707.99 177.13,707.99 191.90,704.72" fill="none" stroke="#66d4c6" stroke-width="1.15" stroke-linejoin="round"/>
<circle cx="44.20" cy="673.37" r="1.5" fill="#66d4c6"/>
<circle cx="58.97" cy="690.79" r="1.5" fill="#66d4c6"/>
<circle cx="73.74" cy="697.05" r="1.5" fill="#66d4c6"/>
<circle cx="88.51" cy="697.05" r="1.5" fill="#66d4c6"/>
<circle cx="103.28" cy="707.85" r="1.5" fill="#66d4c6"/>
<circle cx="118.05" cy="707.85" r="1.5" fill="#66d4c6"/>
<circle cx="132.82" cy="707.85" r="1.5" fill="#66d4c6"/>
<circle cx="147.59" cy="707.85" r="1.5" fill="#66d4c6"/>
<circle cx="162.36" cy="707.99" r="1.5" fill="#66d4c6"/>
<circle cx="177.13" cy="707.99" r="1.5" fill="#66d4c6"/>
<circle cx="191.90" cy="704.72" r="1.5" fill="#66d4c6"/>
<line x1="35.40" y1="714.20" x2="200.90" y2="714.20" stroke="#333" stroke-width="1.1"/>
<line x1="44.20" y1="714.20" x2="44.20" y2="717.90" stroke="#333" stroke-width="0.9"/>
<text font-size="8.1" text-anchor="end" fill="#222" transform="translate(47.40 725.80) rotate(-45)">WT</text>
<line x1="58.97" y1="714.20" x2="58.97" y2="717.90" stroke="#333" stroke-width="0.9"/>
<text font-size="8.1" text-anchor="end" fill="#222" transform="translate(62.17 725.80) rotate(-45)">BA.5</text>
<line x1="73.74" y1="714.20" x2="73.74" y2="717.90" stroke="#333" stroke-width="0.9"/>
<text font-size="8.1" text-anchor="end" fill="#222" transform="translate(76.94 725.80) rotate(-45)">BF.7</text>
<line x1="88.51" y1="714.20" x2="88.51" y2="717.90" stroke="#333" stroke-width="0.9"/>
<text font-size="8.1" text-anchor="end" fill="#222" transform="translate(91.71 725.80) rotate(-45)">BQ.1.1</text>
<line x1="103.28" y1="714.20" x2="103.28" y2="717.90" stroke="#333" stroke-width="0.9"/>
<text font-size="8.1" text-anchor="end" fill="#222" transform="translate(106.48 725.80) rotate(-45)">XBB.1.5</text>
<line x1="118.05" y1="714.20" x2="118.05" y2="717.90" stroke="#333" stroke-width="0.9"/>
<text font-size="8.1" text-anchor="end" fill="#222" transform="translate(121.25 725.80) rotate(-45)">JN.1</text>
<line x1="132.82" y1="714.20" x2="132.82" y2="717.90" stroke="#333" stroke-width="0.9"/>
<text font-size="8.1" text-anchor="end" fill="#222" transform="translate(136.02 725.80) rotate(-45)">XDV.1</text>
<line x1="147.59" y1="714.20" x2="147.59" y2="717.90" stroke="#333" stroke-width="0.9"/>
<text font-size="8.1" text-anchor="end" fill="#222" transform="translate(150.79 725.80) rotate(-45)">KP.3</text>
<line x1="162.36" y1="714.20" x2="162.36" y2="717.90" stroke="#333" stroke-width="0.9"/>
<text font-size="8.1" text-anchor="end" fill="#222" transform="translate(165.56 725.80) rotate(-45)">KP.3.1.1</text>
<line x1="177.13" y1="714.20" x2="177.13" y2="717.90" stroke="#333" stroke-width="0.9"/>
<text font-size="8.1" text-anchor="end" fill="#222" transform="translate(180.33 725.80) rotate(-45)">XEC</text>
<line x1="191.90" y1="714.20" x2="191.90" y2="717.90" stroke="#333" stroke-width="0.9"/>
<text font-size="8.1" text-anchor="end" fill="#222" transform="translate(195.10 725.80) rotate(-45)">SARS.CoV</text>
<line x1="35.40" y1="568.30" x2="35.40" y2="714.75" stroke="#333" stroke-width="1.1"/>
<line x1="31.60" y1="708.20" x2="35.40" y2="708.20" stroke="#333" stroke-width="0.9"/>
<text x="28.80" y="711.10" font-size="8" text-anchor="end" fill="#222">0</text>
<line x1="31.60" y1="673.37" x2="35.40" y2="673.37" stroke="#333" stroke-width="0.9"/>
<text x="28.80" y="676.27" font-size="8" text-anchor="end" fill="#222">1</text>
<line x1="31.60" y1="638.54" x2="35.40" y2="638.54" stroke="#333" stroke-width="0.9"/>
<text x="28.80" y="641.44" font-size="8" text-anchor="end" fill="#222">2</text>
<line x1="31.60" y1="603.71" x2="35.40" y2="603.71" stroke="#333" stroke-width="0.9"/>
<text x="28.80" y="606.61" font-size="8" text-anchor="end" fill="#222">3</text>
<line x1="31.60" y1="568.88" x2="35.40" y2="568.88" stroke="#333" stroke-width="0.9"/>
<text x="28.80" y="571.78" font-size="8" text-anchor="end" fill="#222">4</text>
<text x="290.80" y="562.00" font-size="8.2" text-anchor="middle" fill="#222">T2</text>
<line x1="231.87" y1="690.79" x2="231.87" y2="683.82" stroke="#ec6b6b" stroke-width="1.0" stroke-opacity="0.85"/>
<line x1="246.64" y1="695.31" x2="246.64" y2="692.53" stroke="#ec6b6b" stroke-width="1.0" stroke-opacity="0.85"/>
<line x1="261.41" y1="704.02" x2="261.41" y2="700.19" stroke="#ec6b6b" stroke-width="1.0" stroke-opacity="0.85"/>
<polyline points="217.10,673.37 231.87,687.30 246.64,693.92 261.41,702.28 276.18,707.50 290.95,707.50 305.72,707.50 320.49,707.50 335.26,707.85 350.03,707.50 364.80,706.81" fill="none" stroke="#ec6b6b" stroke-width="1.15" stroke-linejoin="round"/>
<circle cx="217.10" cy="673.37" r="1.5" fill="#ec6b6b"/>
<circle cx="231.87" cy="687.30" r="1.5" fill="#ec6b6b"/>
<circle cx="246.64" cy="693.92" r="1.5" fill="#ec6b6b"/>
<circle cx="261.41" cy="702.28" r="1.5" fill="#ec6b6b"/>
<circle cx="276.18" cy="707.50" r="1.5" fill="#ec6b6b"/>
<circle cx="290.95" cy="707.50" r="1.5" fill="#ec6b6b"/>
<circle cx="305.72" cy="707.50" r="1.5" fill="#ec6b6b"/>
<circle cx="320.49" cy="707.50" r="1.5" fill="#ec6b6b"/>
<circle cx="335.26" cy="707.85" r="1.5" fill="#ec6b6b"/>
<circle cx="350.03" cy="707.50" r="1.5" fill="#ec6b6b"/>
<circle cx="364.80" cy="706.81" r="1.5" fill="#ec6b6b"/>
<line x1="231.87" y1="700.54" x2="231.87" y2="687.30" stroke="#66d4c6" stroke-width="1.0" stroke-opacity="0.85"/>
<line x1="246.64" y1="700.54" x2="246.64" y2="683.12" stroke="#66d4c6" stroke-width="1.0" stroke-opacity="0.85"/>
<line x1="261.41" y1="705.07" x2="261.41" y2="702.63" stroke="#66d4c6" stroke-width="1.0" stroke-opacity="0.85"/>
<line x1="364.80" y1="706.81" x2="364.80" y2="705.41" stroke="#66d4c6" stroke-width="1.0" stroke-opacity="0.85"/>
<polyline points="217.10,673.37 231.87,693.92 246.64,692.18 261.41,704.02 276.18,707.50 290.95,707.50 305.72,707.50 320.49,707.50 335.26,707.85 350.03,707.50 364.80,706.11" fill="none" stroke="#66d4c6" stroke-width="1.15" stroke-linejoin="round"/>
<circle cx="217.10" cy="673.37" r="1.5" fill="#66d4c6"/>
<circle cx="231.87" cy="693.92" r="1.5" fill="#66d4c6"/>
<circle cx="246.64" cy="692.18" r="1.5" fill="#66d4c6"/>
<circle cx="261.41" cy="704.02" r="1.5" fill="#66d4c6"/>
<circle cx="276.18" cy="707.50" r="1.5" fill="#66d4c6"/>
<circle cx="290.95" cy="707.50" r="1.5" fill="#66d4c6"/>
<circle cx="305.72" cy="707.50" r="1.5" fill="#66d4c6"/>
<circle cx="320.49" cy="707.50" r="1.5" fill="#66d4c6"/>
<circle cx="335.26" cy="707.85" r="1.5" fill="#66d4c6"/>
<circle cx="350.03" cy="707.50" r="1.5" fill="#66d4c6"/>
<circle cx="364.80" cy="706.11" r="1.5" fill="#66d4c6"/>
<line x1="208.30" y1="714.20" x2="373.80" y2="714.20" stroke="#333" stroke-width="1.1"/>
<line x1="217.10" y1="714.20" x2="217.10" y2="717.90" stroke="#333" stroke-width="0.9"/>
<text font-size="8.1" text-anchor="end" fill="#222" transform="translate(220.30 725.80) rotate(-45)">WT</text>
<line x1="231.87" y1="714.20" x2="231.87" y2="717.90" stroke="#333" stroke-width="0.9"/>
<text font-size="8.1" text-anchor="end" fill="#222" transform="translate(235.07 725.80) rotate(-45)">BA.5</text>
<line x1="246.64" y1="714.20" x2="246.64" y2="717.90" stroke="#333" stroke-width="0.9"/>
<text font-size="8.1" text-anchor="end" fill="#222" transform="translate(249.84 725.80) rotate(-45)">BF.7</text>
<line x1="261.41" y1="714.20" x2="261.41" y2="717.90" stroke="#333" stroke-width="0.9"/>
<text font-size="8.1" text-anchor="end" fill="#222" transform="translate(264.61 725.80) rotate(-45)">BQ.1.1</text>
<line x1="276.18" y1="714.20" x2="276.18" y2="717.90" stroke="#333" stroke-width="0.9"/>
<text font-size="8.1" text-anchor="end" fill="#222" transform="translate(279.38 725.80) rotate(-45)">XBB.1.5</text>
<line x1="290.95" y1="714.20" x2="290.95" y2="717.90" stroke="#333" stroke-width="0.9"/>
<text font-size="8.1" text-anchor="end" fill="#222" transform="translate(294.15 725.80) rotate(-45)">JN.1</text>
<line x1="305.72" y1="714.20" x2="305.72" y2="717.90" stroke="#333" stroke-width="0.9"/>
<text font-size="8.1" text-anchor="end" fill="#222" transform="translate(308.92 725.80) rotate(-45)">XDV.1</text>
<line x1="320.49" y1="714.20" x2="320.49" y2="717.90" stroke="#333" stroke-width="0.9"/>
<text font-size="8.1" text-anchor="end" fill="#222" transform="translate(323.69 725.80) rotate(-45)">KP.3</text>
<line x1="335.26" y1="714.20" x2="335.26" y2="717.90" stroke="#333" stroke-width="0.9"/>
<text font-size="8.1" text-anchor="end" fill="#222" transform="translate(338.46 725.80) rotate(-45)">KP.3.1.1</text>
<line x1="350.03" y1="714.20" x2="350.03" y2="717.90" stroke="#333" stroke-width="0.9"/>
<text font-size="8.1" text-anchor="end" fill="#222" transform="translate(353.23 725.80) rotate(-45)">XEC</text>
<line x1="364.80" y1="714.20" x2="364.80" y2="717.90" stroke="#333" stroke-width="0.9"/>
<text font-size="8.1" text-anchor="end" fill="#222" transform="translate(368.00 725.80) rotate(-45)">SARS.CoV</text>
<text x="463.60" y="562.00" font-size="8.2" text-anchor="middle" fill="#222">T3</text>
<line x1="404.67" y1="655.26" x2="404.67" y2="627.39" stroke="#ec6b6b" stroke-width="1.0" stroke-opacity="0.85"/>
<line x1="419.44" y1="654.21" x2="419.44" y2="574.45" stroke="#ec6b6b" stroke-width="1.0" stroke-opacity="0.85"/>
<line x1="434.21" y1="680.34" x2="434.21" y2="655.96" stroke="#ec6b6b" stroke-width="1.0" stroke-opacity="0.85"/>
<line x1="448.98" y1="699.14" x2="448.98" y2="686.26" stroke="#ec6b6b" stroke-width="1.0" stroke-opacity="0.85"/>
<line x1="463.75" y1="704.02" x2="463.75" y2="701.23" stroke="#ec6b6b" stroke-width="1.0" stroke-opacity="0.85"/>
<line x1="478.52" y1="704.02" x2="478.52" y2="701.23" stroke="#ec6b6b" stroke-width="1.0" stroke-opacity="0.85"/>
<polyline points="389.90,673.37 404.67,641.33 419.44,614.51 434.21,668.49 448.98,692.53 463.75,702.63 478.52,702.63 493.29,704.37 508.06,704.72 522.83,705.41 537.60,706.11" fill="none" stroke="#ec6b6b" stroke-width="1.15" stroke-linejoin="round"/>
<circle cx="389.90" cy="673.37" r="1.5" fill="#ec6b6b"/>
<circle cx="404.67" cy="641.33" r="1.5" fill="#ec6b6b"/>
<circle cx="419.44" cy="614.51" r="1.5" fill="#ec6b6b"/>
<circle cx="434.21" cy="668.49" r="1.5" fill="#ec6b6b"/>
<circle cx="448.98" cy="692.53" r="1.5" fill="#ec6b6b"/>
<circle cx="463.75" cy="702.63" r="1.5" fill="#ec6b6b"/>
<circle cx="478.52" cy="702.63" r="1.5" fill="#ec6b6b"/>
<circle cx="493.29" cy="704.37" r="1.5" fill="#ec6b6b"/>
<circle cx="508.06" cy="704.72" r="1.5" fill="#ec6b6b"/>
<circle cx="522.83" cy="705.41" r="1.5" fill="#ec6b6b"/>
<circle cx="537.60" cy="706.11" r="1.5" fill="#ec6b6b"/>
<line x1="404.67" y1="697.75" x2="404.67" y2="693.57" stroke="#66d4c6" stroke-width="1.0" stroke-opacity="0.85"/>
<line x1="419.44" y1="699.49" x2="419.44" y2="697.40" stroke="#66d4c6" stroke-width="1.0" stroke-opacity="0.85"/>
<line x1="434.21" y1="701.93" x2="434.21" y2="700.54" stroke="#66d4c6" stroke-width="1.0" stroke-opacity="0.85"/>
<polyline points="389.90,673.37 404.67,695.66 419.44,698.45 434.21,701.23 448.98,707.16 463.75,707.50 478.52,707.50 493.29,707.50 508.06,707.50 522.83,707.50 537.60,706.46" fill="none" stroke="#66d4c6" stroke-width="1.15" stroke-linejoin="round"/>
<circle cx="389.90" cy="673.37" r="1.5" fill="#66d4c6"/>
<circle cx="404.67" cy="695.66" r="1.5" fill="#66d4c6"/>
<circle cx="419.44" cy="698.45" r="1.5" fill="#66d4c6"/>
<circle cx="434.21" cy="701.23" r="1.5" fill="#66d4c6"/>
<circle cx="448.98" cy="707.16" r="1.5" fill="#66d4c6"/>
<circle cx="463.75" cy="707.50" r="1.5" fill="#66d4c6"/>
<circle cx="478.52" cy="707.50" r="1.5" fill="#66d4c6"/>
<circle cx="493.29" cy="707.50" r="1.5" fill="#66d4c6"/>
<circle cx="508.06" cy="707.50" r="1.5" fill="#66d4c6"/>
<circle cx="522.83" cy="707.50" r="1.5" fill="#66d4c6"/>
<circle cx="537.60" cy="706.46" r="1.5" fill="#66d4c6"/>
<line x1="381.10" y1="714.20" x2="546.60" y2="714.20" stroke="#333" stroke-width="1.1"/>
<line x1="389.90" y1="714.20" x2="389.90" y2="717.90" stroke="#333" stroke-width="0.9"/>
<text font-size="8.1" text-anchor="end" fill="#222" transform="translate(393.10 725.80) rotate(-45)">WT</text>
<line x1="404.67" y1="714.20" x2="404.67" y2="717.90" stroke="#333" stroke-width="0.9"/>
<text font-size="8.1" text-anchor="end" fill="#222" transform="translate(407.87 725.80) rotate(-45)">BA.5</text>
<line x1="419.44" y1="714.20" x2="419.44" y2="717.90" stroke="#333" stroke-width="0.9"/>
<text font-size="8.1" text-anchor="end" fill="#222" transform="translate(422.64 725.80) rotate(-45)">BF.7</text>
<line x1="434.21" y1="714.20" x2="434.21" y2="717.90" stroke="#333" stroke-width="0.9"/>
<text font-size="8.1" text-anchor="end" fill="#222" transform="translate(437.41 725.80) rotate(-45)">BQ.1.1</text>
<line x1="448.98" y1="714.20" x2="448.98" y2="717.90" stroke="#333" stroke-width="0.9"/>
<text font-size="8.1" text-anchor="end" fill="#222" transform="translate(452.18 725.80) rotate(-45)">XBB.1.5</text>
<line x1="463.75" y1="714.20" x2="463.75" y2="717.90" stroke="#333" stroke-width="0.9"/>
<text font-size="8.1" text-anchor="end" fill="#222" transform="translate(466.95 725.80) rotate(-45)">JN.1</text>
<line x1="478.52" y1="714.20" x2="478.52" y2="717.90" stroke="#333" stroke-width="0.9"/>
<text font-size="8.1" text-anchor="end" fill="#222" transform="translate(481.72 725.80) rotate(-45)">XDV.1</text>
<line x1="493.29" y1="714.20" x2="493.29" y2="717.90" stroke="#333" stroke-width="0.9"/>
<text font-size="8.1" text-anchor="end" fill="#222" transform="translate(496.49 725.80) rotate(-45)">KP.3</text>
<line x1="508.06" y1="714.20" x2="508.06" y2="717.90" stroke="#333" stroke-width="0.9"/>
<text font-size="8.1" text-anchor="end" fill="#222" transform="translate(511.26 725.80) rotate(-45)">KP.3.1.1</text>
<line x1="522.83" y1="714.20" x2="522.83" y2="717.90" stroke="#333" stroke-width="0.9"/>
<text font-size="8.1" text-anchor="end" fill="#222" transform="translate(526.03 725.80) rotate(-45)">XEC</text>
<line x1="537.60" y1="714.20" x2="537.60" y2="717.90" stroke="#333" stroke-width="0.9"/>
<text font-size="8.1" text-anchor="end" fill="#222" transform="translate(540.80 725.80) rotate(-45)">SARS.CoV</text>
<text x="403.87" y="574.20" font-size="7.2" text-anchor="middle" fill="#111">***</text>
<text x="418.64" y="574.20" font-size="7.2" text-anchor="middle" fill="#111">**</text>
<text x="433.41" y="574.20" font-size="7.2" text-anchor="middle" fill="#111">**</text>
<text x="448.18" y="574.20" font-size="7.2" text-anchor="middle" fill="#111">**</text>
<text x="462.95" y="574.20" font-size="7.2" text-anchor="middle" fill="#111">***</text>
<text x="477.72" y="574.20" font-size="7.2" text-anchor="middle" fill="#111">**</text>
<text x="493.29" y="572.60" font-size="6.6" text-anchor="middle" fill="#111">ns</text>
<text x="508.06" y="572.60" font-size="6.6" text-anchor="middle" fill="#111">ns</text>
<text x="522.83" y="572.60" font-size="6.6" text-anchor="middle" fill="#111">ns</text>
<text x="537.60" y="572.60" font-size="6.6" text-anchor="middle" fill="#111">ns</text>
<line x1="558.50" y1="656.40" x2="577.60" y2="656.40" stroke="#66d4c6" stroke-width="1.0"/>
<circle cx="568" cy="656.4" r="1.4" fill="#66d4c6"/>
<line x1="558.50" y1="667.60" x2="577.60" y2="667.60" stroke="#ec6b6b" stroke-width="1.0"/>
<circle cx="568" cy="667.6" r="1.4" fill="#ec6b6b"/>
<text x="585.70" y="659.30" font-size="8.3" text-anchor="start" fill="#222">Single infection</text>
<text x="585.70" y="670.40" font-size="8.3" text-anchor="start" fill="#222">Double infection</text>
<text x="359.00" y="772.30" font-size="8.4" text-anchor="middle" fill="#222">Neutralization antibody at T1</text>
<text x="359.00" y="781.40" font-size="8.4" text-anchor="middle" fill="#222">(Single infection vs. Double infection)</text>
<text font-size="8.4" text-anchor="middle" fill="#222" transform="translate(11.00 878.00) rotate(-90)">pVNT<tspan font-size="6.05" dy="2">50</tspan><tspan dy="-2"> Titer</tspan></text>
<text x="61.40" y="798.00" font-size="8.45" text-anchor="middle" fill="#111">WT</text>
<line x1="35.90" y1="934.80" x2="87.20" y2="934.80" stroke="#9c9c9c" stroke-width="0.9" stroke-dasharray="3.2 2.6"/>
<circle cx="49.60" cy="832.48" r="2.75" fill="#cf5a44" fill-opacity="0.5"/>
<circle cx="49.60" cy="837.76" r="2.75" fill="#cf5a44" fill-opacity="0.5"/>
<circle cx="49.60" cy="839.63" r="2.75" fill="#cf5a44" fill-opacity="0.5"/>
<circle cx="49.60" cy="844.92" r="2.75" fill="#cf5a44" fill-opacity="0.5"/>
<circle cx="49.60" cy="858.29" r="2.75" fill="#cf5a44" fill-opacity="0.5"/>
<circle cx="49.60" cy="858.91" r="2.75" fill="#cf5a44" fill-opacity="0.5"/>
<circle cx="49.60" cy="859.85" r="2.75" fill="#cf5a44" fill-opacity="0.5"/>
<circle cx="49.60" cy="863.89" r="2.75" fill="#cf5a44" fill-opacity="0.5"/>
<circle cx="49.60" cy="872.60" r="2.75" fill="#cf5a44" fill-opacity="0.5"/>
<circle cx="49.60" cy="862.96" r="2.75" fill="#cf5a44" fill-opacity="0.5"/>
<circle cx="73.40" cy="843.05" r="2.75" fill="#cf5a44" fill-opacity="0.5"/>
<circle cx="73.40" cy="847.72" r="2.75" fill="#cf5a44" fill-opacity="0.5"/>
<circle cx="73.40" cy="852.38" r="2.75" fill="#cf5a44" fill-opacity="0.5"/>
<circle cx="73.40" cy="853.00" r="2.75" fill="#cf5a44" fill-opacity="0.5"/>
<circle cx="73.40" cy="857.67" r="2.75" fill="#cf5a44" fill-opacity="0.5"/>
<circle cx="73.40" cy="860.16" r="2.75" fill="#cf5a44" fill-opacity="0.5"/>
<circle cx="73.40" cy="860.78" r="2.75" fill="#cf5a44" fill-opacity="0.5"/>
<circle cx="73.40" cy="862.64" r="2.75" fill="#cf5a44" fill-opacity="0.5"/>
<circle cx="73.40" cy="867.00" r="2.75" fill="#cf5a44" fill-opacity="0.5"/>
<circle cx="73.40" cy="871.35" r="2.75" fill="#cf5a44" fill-opacity="0.5"/>
<circle cx="73.40" cy="873.22" r="2.75" fill="#cf5a44" fill-opacity="0.5"/>
<circle cx="73.40" cy="875.39" r="2.75" fill="#cf5a44" fill-opacity="0.5"/>
<line x1="43.60" y1="853.26" x2="55.60" y2="853.26" stroke="#111" stroke-width="1.8"/>
<text x="49.60" y="828.80" font-size="6.6" text-anchor="middle" fill="#111">18271</text>
<line x1="67.40" y1="858.38" x2="79.40" y2="858.38" stroke="#111" stroke-width="1.8"/>
<text x="73.40" y="828.80" font-size="6.6" text-anchor="middle" fill="#111">12507</text>
<text x="73.40" y="813.30" font-size="6.6" text-anchor="middle" fill="#111">ns</text>
<text x="73.40" y="821.10" font-size="6.6" text-anchor="middle" fill="#111">0.68x</text>
<line x1="35.40" y1="952.10" x2="87.20" y2="952.10" stroke="#5a5a5a" stroke-width="1.3"/>
<line x1="49.60" y1="952.10" x2="49.60" y2="955.80" stroke="#333" stroke-width="1.0"/>
<text font-size="8.1" text-anchor="end" fill="#222" transform="translate(53.40 963.00) rotate(-45)">Single</text>
<line x1="73.40" y1="952.10" x2="73.40" y2="955.80" stroke="#333" stroke-width="1.0"/>
<text font-size="8.1" text-anchor="end" fill="#222" transform="translate(77.20 963.00) rotate(-45)">Double</text>
<line x1="35.40" y1="804.50" x2="35.40" y2="952.50" stroke="#444" stroke-width="1.2"/>
<line x1="31.60" y1="923.60" x2="35.40" y2="923.60" stroke="#444" stroke-width="0.9"/>
<text x="28.80" y="927.60" font-size="8.5" text-anchor="end" fill="#222">10<tspan font-size="5.95" dy="-3.6">2</tspan></text>
<line x1="31.60" y1="892.50" x2="35.40" y2="892.50" stroke="#444" stroke-width="0.9"/>
<text x="28.80" y="896.50" font-size="8.5" text-anchor="end" fill="#222">10<tspan font-size="5.95" dy="-3.6">3</tspan></text>
<line x1="31.60" y1="861.40" x2="35.40" y2="861.40" stroke="#444" stroke-width="0.9"/>
<text x="28.80" y="865.40" font-size="8.5" text-anchor="end" fill="#222">10<tspan font-size="5.95" dy="-3.6">4</tspan></text>
<line x1="31.60" y1="830.30" x2="35.40" y2="830.30" stroke="#444" stroke-width="0.9"/>
<text x="28.80" y="834.30" font-size="8.5" text-anchor="end" fill="#222">10<tspan font-size="5.95" dy="-3.6">5</tspan></text>
<text x="120.89" y="798.00" font-size="8.45" text-anchor="middle" fill="#111">BA.5</text>
<line x1="94.89" y1="934.80" x2="146.69" y2="934.80" stroke="#9c9c9c" stroke-width="0.9" stroke-dasharray="3.2 2.6"/>
<circle cx="109.09" cy="844.61" r="2.75" fill="#3f56a0" fill-opacity="0.5"/>
<circle cx="109.09" cy="849.58" r="2.75" fill="#3f56a0" fill-opacity="0.5"/>
<circle cx="109.09" cy="854.87" r="2.75" fill="#3f56a0" fill-opacity="0.5"/>
<circle cx="109.09" cy="861.40" r="2.75" fill="#3f56a0" fill-opacity="0.5"/>
<circle cx="109.09" cy="861.40" r="2.75" fill="#3f56a0" fill-opacity="0.5"/>
<circle cx="109.09" cy="865.44" r="2.75" fill="#3f56a0" fill-opacity="0.5"/>
<circle cx="109.09" cy="867.93" r="2.75" fill="#3f56a0" fill-opacity="0.5"/>
<circle cx="109.09" cy="870.11" r="2.75" fill="#3f56a0" fill-opacity="0.5"/>
<circle cx="109.09" cy="884.73" r="2.75" fill="#3f56a0" fill-opacity="0.5"/>
<circle cx="109.09" cy="890.95" r="2.75" fill="#3f56a0" fill-opacity="0.5"/>
<circle cx="132.89" cy="853.00" r="2.75" fill="#3f56a0" fill-opacity="0.5"/>
<circle cx="132.89" cy="857.05" r="2.75" fill="#3f56a0" fill-opacity="0.5"/>
<circle cx="132.89" cy="857.67" r="2.75" fill="#3f56a0" fill-opacity="0.5"/>
<circle cx="132.89" cy="863.27" r="2.75" fill="#3f56a0" fill-opacity="0.5"/>
<circle cx="132.89" cy="863.89" r="2.75" fill="#3f56a0" fill-opacity="0.5"/>
<circle cx="132.89" cy="865.75" r="2.75" fill="#3f56a0" fill-opacity="0.5"/>
<circle cx="132.89" cy="872.29" r="2.75" fill="#3f56a0" fill-opacity="0.5"/>
<circle cx="132.89" cy="878.19" r="2.75" fill="#3f56a0" fill-opacity="0.5"/>
<circle cx="132.89" cy="887.21" r="2.75" fill="#3f56a0" fill-opacity="0.5"/>
<circle cx="132.89" cy="889.39" r="2.75" fill="#3f56a0" fill-opacity="0.5"/>
<circle cx="132.89" cy="893.43" r="2.75" fill="#3f56a0" fill-opacity="0.5"/>
<circle cx="132.89" cy="894.06" r="2.75" fill="#3f56a0" fill-opacity="0.5"/>
<line x1="103.09" y1="865.38" x2="115.09" y2="865.38" stroke="#111" stroke-width="1.8"/>
<text x="109.09" y="828.80" font-size="6.6" text-anchor="middle" fill="#111">7447</text>
<line x1="126.89" y1="874.20" x2="138.89" y2="874.20" stroke="#111" stroke-width="1.8"/>
<text x="132.89" y="828.80" font-size="6.6" text-anchor="middle" fill="#111">3876</text>
<text x="132.89" y="813.30" font-size="6.6" text-anchor="middle" fill="#111">ns</text>
<text x="132.89" y="821.10" font-size="6.6" text-anchor="middle" fill="#111">0.52x</text>
<line x1="94.89" y1="952.10" x2="146.69" y2="952.10" stroke="#5a5a5a" stroke-width="1.3"/>
<line x1="109.09" y1="952.10" x2="109.09" y2="955.80" stroke="#333" stroke-width="1.0"/>
<text font-size="8.1" text-anchor="end" fill="#222" transform="translate(112.89 963.00) rotate(-45)">Single</text>
<line x1="132.89" y1="952.10" x2="132.89" y2="955.80" stroke="#333" stroke-width="1.0"/>
<text font-size="8.1" text-anchor="end" fill="#222" transform="translate(136.69 963.00) rotate(-45)">Double</text>
<text x="180.38" y="798.00" font-size="8.45" text-anchor="middle" fill="#111">BF.7</text>
<line x1="154.38" y1="934.80" x2="206.18" y2="934.80" stroke="#9c9c9c" stroke-width="0.9" stroke-dasharray="3.2 2.6"/>
<circle cx="168.58" cy="850.83" r="2.75" fill="#5a88d0" fill-opacity="0.5"/>
<circle cx="168.58" cy="855.18" r="2.75" fill="#5a88d0" fill-opacity="0.5"/>
<circle cx="168.58" cy="855.80" r="2.75" fill="#5a88d0" fill-opacity="0.5"/>
<circle cx="168.58" cy="859.85" r="2.75" fill="#5a88d0" fill-opacity="0.5"/>
<circle cx="168.58" cy="861.40" r="2.75" fill="#5a88d0" fill-opacity="0.5"/>
<circle cx="168.58" cy="865.13" r="2.75" fill="#5a88d0" fill-opacity="0.5"/>
<circle cx="168.58" cy="875.39" r="2.75" fill="#5a88d0" fill-opacity="0.5"/>
<circle cx="168.58" cy="892.50" r="2.75" fill="#5a88d0" fill-opacity="0.5"/>
<circle cx="168.58" cy="893.74" r="2.75" fill="#5a88d0" fill-opacity="0.5"/>
<circle cx="168.58" cy="899.96" r="2.75" fill="#5a88d0" fill-opacity="0.5"/>
<circle cx="192.38" cy="861.40" r="2.75" fill="#5a88d0" fill-opacity="0.5"/>
<circle cx="192.38" cy="869.49" r="2.75" fill="#5a88d0" fill-opacity="0.5"/>
<circle cx="192.38" cy="871.04" r="2.75" fill="#5a88d0" fill-opacity="0.5"/>
<circle cx="192.38" cy="872.29" r="2.75" fill="#5a88d0" fill-opacity="0.5"/>
<circle cx="192.38" cy="873.53" r="2.75" fill="#5a88d0" fill-opacity="0.5"/>
<circle cx="192.38" cy="875.39" r="2.75" fill="#5a88d0" fill-opacity="0.5"/>
<circle cx="192.38" cy="877.26" r="2.75" fill="#5a88d0" fill-opacity="0.5"/>
<circle cx="192.38" cy="883.17" r="2.75" fill="#5a88d0" fill-opacity="0.5"/>
<circle cx="192.38" cy="886.90" r="2.75" fill="#5a88d0" fill-opacity="0.5"/>
<circle cx="192.38" cy="888.15" r="2.75" fill="#5a88d0" fill-opacity="0.5"/>
<circle cx="192.38" cy="897.48" r="2.75" fill="#5a88d0" fill-opacity="0.5"/>
<circle cx="192.38" cy="905.25" r="2.75" fill="#5a88d0" fill-opacity="0.5"/>
<line x1="162.58" y1="871.26" x2="174.58" y2="871.26" stroke="#111" stroke-width="1.8"/>
<text x="168.58" y="828.80" font-size="6.6" text-anchor="middle" fill="#111">4819</text>
<line x1="186.38" y1="880.37" x2="198.38" y2="880.37" stroke="#111" stroke-width="1.8"/>
<text x="192.38" y="828.80" font-size="6.6" text-anchor="middle" fill="#111">2454</text>
<text x="192.38" y="813.30" font-size="6.6" text-anchor="middle" fill="#111">ns</text>
<text x="192.38" y="821.10" font-size="6.6" text-anchor="middle" fill="#111">0.51x</text>
<line x1="154.38" y1="952.10" x2="206.18" y2="952.10" stroke="#5a5a5a" stroke-width="1.3"/>
<line x1="168.58" y1="952.10" x2="168.58" y2="955.80" stroke="#333" stroke-width="1.0"/>
<text font-size="8.1" text-anchor="end" fill="#222" transform="translate(172.38 963.00) rotate(-45)">Single</text>
<line x1="192.38" y1="952.10" x2="192.38" y2="955.80" stroke="#333" stroke-width="1.0"/>
<text font-size="8.1" text-anchor="end" fill="#222" transform="translate(196.18 963.00) rotate(-45)">Double</text>
<text x="239.87" y="798.00" font-size="8.45" text-anchor="middle" fill="#111">BQ.1.1</text>
<line x1="213.87" y1="934.80" x2="265.67" y2="934.80" stroke="#9c9c9c" stroke-width="0.9" stroke-dasharray="3.2 2.6"/>
<circle cx="228.07" cy="847.09" r="2.75" fill="#94bfe6" fill-opacity="0.5"/>
<circle cx="228.07" cy="852.38" r="2.75" fill="#94bfe6" fill-opacity="0.5"/>
<circle cx="228.07" cy="856.42" r="2.75" fill="#94bfe6" fill-opacity="0.5"/>
<circle cx="228.07" cy="858.29" r="2.75" fill="#94bfe6" fill-opacity="0.5"/>
<circle cx="228.07" cy="868.55" r="2.75" fill="#94bfe6" fill-opacity="0.5"/>
<circle cx="228.07" cy="873.53" r="2.75" fill="#94bfe6" fill-opacity="0.5"/>
<circle cx="228.07" cy="882.55" r="2.75" fill="#94bfe6" fill-opacity="0.5"/>
<circle cx="228.07" cy="902.14" r="2.75" fill="#94bfe6" fill-opacity="0.5"/>
<circle cx="228.07" cy="908.36" r="2.75" fill="#94bfe6" fill-opacity="0.5"/>
<circle cx="228.07" cy="915.20" r="2.75" fill="#94bfe6" fill-opacity="0.5"/>
<circle cx="251.87" cy="859.53" r="2.75" fill="#94bfe6" fill-opacity="0.5"/>
<circle cx="251.87" cy="861.09" r="2.75" fill="#94bfe6" fill-opacity="0.5"/>
<circle cx="251.87" cy="876.33" r="2.75" fill="#94bfe6" fill-opacity="0.5"/>
<circle cx="251.87" cy="878.82" r="2.75" fill="#94bfe6" fill-opacity="0.5"/>
<circle cx="251.87" cy="883.17" r="2.75" fill="#94bfe6" fill-opacity="0.5"/>
<circle cx="251.87" cy="884.10" r="2.75" fill="#94bfe6" fill-opacity="0.5"/>
<circle cx="251.87" cy="885.97" r="2.75" fill="#94bfe6" fill-opacity="0.5"/>
<circle cx="251.87" cy="895.61" r="2.75" fill="#94bfe6" fill-opacity="0.5"/>
<circle cx="251.87" cy="899.03" r="2.75" fill="#94bfe6" fill-opacity="0.5"/>
<circle cx="251.87" cy="905.25" r="2.75" fill="#94bfe6" fill-opacity="0.5"/>
<circle cx="251.87" cy="910.85" r="2.75" fill="#94bfe6" fill-opacity="0.5"/>
<circle cx="251.87" cy="926.09" r="2.75" fill="#94bfe6" fill-opacity="0.5"/>
<line x1="222.07" y1="875.81" x2="234.07" y2="875.81" stroke="#111" stroke-width="1.8"/>
<text x="228.07" y="828.80" font-size="6.6" text-anchor="middle" fill="#111">3442</text>
<line x1="245.87" y1="888.86" x2="257.87" y2="888.86" stroke="#111" stroke-width="1.8"/>
<text x="251.87" y="828.80" font-size="6.6" text-anchor="middle" fill="#111">1309</text>
<text x="251.87" y="813.30" font-size="6.6" text-anchor="middle" fill="#111">ns</text>
<text x="251.87" y="821.10" font-size="6.6" text-anchor="middle" fill="#111">0.38x</text>
<line x1="213.87" y1="952.10" x2="265.67" y2="952.10" stroke="#5a5a5a" stroke-width="1.3"/>
<line x1="228.07" y1="952.10" x2="228.07" y2="955.80" stroke="#333" stroke-width="1.0"/>
<text font-size="8.1" text-anchor="end" fill="#222" transform="translate(231.87 963.00) rotate(-45)">Single</text>
<line x1="251.87" y1="952.10" x2="251.87" y2="955.80" stroke="#333" stroke-width="1.0"/>
<text font-size="8.1" text-anchor="end" fill="#222" transform="translate(255.67 963.00) rotate(-45)">Double</text>
<text x="299.36" y="798.00" font-size="8.45" text-anchor="middle" fill="#111">XBB.1.5</text>
<line x1="273.36" y1="934.80" x2="325.16" y2="934.80" stroke="#9c9c9c" stroke-width="0.9" stroke-dasharray="3.2 2.6"/>
<circle cx="287.56" cy="890.63" r="2.75" fill="#c89a3c" fill-opacity="0.5"/>
<circle cx="287.56" cy="895.92" r="2.75" fill="#c89a3c" fill-opacity="0.5"/>
<circle cx="287.56" cy="900.90" r="2.75" fill="#c89a3c" fill-opacity="0.5"/>
<circle cx="287.56" cy="903.38" r="2.75" fill="#c89a3c" fill-opacity="0.5"/>
<circle cx="287.56" cy="904.94" r="2.75" fill="#c89a3c" fill-opacity="0.5"/>
<circle cx="287.56" cy="905.56" r="2.75" fill="#c89a3c" fill-opacity="0.5"/>
<circle cx="287.56" cy="915.20" r="2.75" fill="#c89a3c" fill-opacity="0.5"/>
<circle cx="287.56" cy="925.15" r="2.75" fill="#c89a3c" fill-opacity="0.5"/>
<circle cx="287.56" cy="926.09" r="2.75" fill="#c89a3c" fill-opacity="0.5"/>
<circle cx="287.56" cy="927.02" r="2.75" fill="#c89a3c" fill-opacity="0.5"/>
<circle cx="311.36" cy="899.34" r="2.75" fill="#c89a3c" fill-opacity="0.5"/>
<circle cx="311.36" cy="909.61" r="2.75" fill="#c89a3c" fill-opacity="0.5"/>
<circle cx="311.36" cy="912.09" r="2.75" fill="#c89a3c" fill-opacity="0.5"/>
<circle cx="311.36" cy="914.89" r="2.75" fill="#c89a3c" fill-opacity="0.5"/>
<circle cx="311.36" cy="916.45" r="2.75" fill="#c89a3c" fill-opacity="0.5"/>
<circle cx="311.36" cy="917.38" r="2.75" fill="#c89a3c" fill-opacity="0.5"/>
<circle cx="311.36" cy="918.00" r="2.75" fill="#c89a3c" fill-opacity="0.5"/>
<circle cx="311.36" cy="919.25" r="2.75" fill="#c89a3c" fill-opacity="0.5"/>
<circle cx="311.36" cy="920.49" r="2.75" fill="#c89a3c" fill-opacity="0.5"/>
<circle cx="311.36" cy="922.36" r="2.75" fill="#c89a3c" fill-opacity="0.5"/>
<circle cx="311.36" cy="929.51" r="2.75" fill="#c89a3c" fill-opacity="0.5"/>
<circle cx="311.36" cy="943.50" r="2.75" fill="#c89a3c" fill-opacity="0.5"/>
<line x1="281.56" y1="907.93" x2="293.56" y2="907.93" stroke="#111" stroke-width="1.8"/>
<text x="287.56" y="828.80" font-size="6.6" text-anchor="middle" fill="#111">319</text>
<line x1="305.36" y1="918.67" x2="317.36" y2="918.67" stroke="#111" stroke-width="1.8"/>
<text x="311.36" y="828.80" font-size="6.6" text-anchor="middle" fill="#111">144</text>
<text x="311.36" y="812.60" font-size="7.4" text-anchor="middle" fill="#111">*</text>
<text x="311.36" y="821.10" font-size="6.6" text-anchor="middle" fill="#111">0.45x</text>
<line x1="273.36" y1="952.10" x2="325.16" y2="952.10" stroke="#5a5a5a" stroke-width="1.3"/>
<line x1="287.56" y1="952.10" x2="287.56" y2="955.80" stroke="#333" stroke-width="1.0"/>
<text font-size="8.1" text-anchor="end" fill="#222" transform="translate(291.36 963.00) rotate(-45)">Single</text>
<line x1="311.36" y1="952.10" x2="311.36" y2="955.80" stroke="#333" stroke-width="1.0"/>
<text font-size="8.1" text-anchor="end" fill="#222" transform="translate(315.16 963.00) rotate(-45)">Double</text>
<text x="358.85" y="798.00" font-size="8.45" text-anchor="middle" fill="#111">JN.1</text>
<line x1="332.85" y1="934.80" x2="384.65" y2="934.80" stroke="#9c9c9c" stroke-width="0.9" stroke-dasharray="3.2 2.6"/>
<circle cx="347.05" cy="899.34" r="2.75" fill="#9346d6" fill-opacity="0.5"/>
<circle cx="347.05" cy="906.50" r="2.75" fill="#9346d6" fill-opacity="0.5"/>
<circle cx="347.05" cy="909.61" r="2.75" fill="#9346d6" fill-opacity="0.5"/>
<circle cx="347.05" cy="913.03" r="2.75" fill="#9346d6" fill-opacity="0.5"/>
<circle cx="347.05" cy="917.38" r="2.75" fill="#9346d6" fill-opacity="0.5"/>
<circle cx="347.05" cy="919.25" r="2.75" fill="#9346d6" fill-opacity="0.5"/>
<circle cx="347.05" cy="920.49" r="2.75" fill="#9346d6" fill-opacity="0.5"/>
<circle cx="347.05" cy="923.60" r="2.75" fill="#9346d6" fill-opacity="0.5"/>
<circle cx="347.05" cy="943.19" r="2.75" fill="#9346d6" fill-opacity="0.5"/>
<circle cx="347.05" cy="943.19" r="2.75" fill="#9346d6" fill-opacity="0.5"/>
<circle cx="370.85" cy="902.14" r="2.75" fill="#9346d6" fill-opacity="0.5"/>
<circle cx="370.85" cy="907.74" r="2.75" fill="#9346d6" fill-opacity="0.5"/>
<circle cx="370.85" cy="910.54" r="2.75" fill="#9346d6" fill-opacity="0.5"/>
<circle cx="370.85" cy="914.27" r="2.75" fill="#9346d6" fill-opacity="0.5"/>
<circle cx="370.85" cy="916.45" r="2.75" fill="#9346d6" fill-opacity="0.5"/>
<circle cx="370.85" cy="918.94" r="2.75" fill="#9346d6" fill-opacity="0.5"/>
<circle cx="370.85" cy="920.80" r="2.75" fill="#9346d6" fill-opacity="0.5"/>
<circle cx="370.85" cy="923.60" r="2.75" fill="#9346d6" fill-opacity="0.5"/>
<circle cx="370.85" cy="925.15" r="2.75" fill="#9346d6" fill-opacity="0.5"/>
<circle cx="370.85" cy="932.31" r="2.75" fill="#9346d6" fill-opacity="0.5"/>
<circle cx="370.85" cy="933.24" r="2.75" fill="#9346d6" fill-opacity="0.5"/>
<circle cx="370.85" cy="933.24" r="2.75" fill="#9346d6" fill-opacity="0.5"/>
<line x1="341.05" y1="919.85" x2="353.05" y2="919.85" stroke="#111" stroke-width="1.8"/>
<text x="347.05" y="828.80" font-size="6.6" text-anchor="middle" fill="#111">132</text>
<line x1="364.85" y1="921.95" x2="376.85" y2="921.95" stroke="#111" stroke-width="1.8"/>
<text x="370.85" y="828.80" font-size="6.6" text-anchor="middle" fill="#111">113</text>
<text x="370.85" y="813.30" font-size="6.6" text-anchor="middle" fill="#111">ns</text>
<text x="370.85" y="821.10" font-size="6.6" text-anchor="middle" fill="#111">0.86x</text>
<line x1="332.85" y1="952.10" x2="384.65" y2="952.10" stroke="#5a5a5a" stroke-width="1.3"/>
<line x1="347.05" y1="952.10" x2="347.05" y2="955.80" stroke="#333" stroke-width="1.0"/>
<text font-size="8.1" text-anchor="end" fill="#222" transform="translate(350.85 963.00) rotate(-45)">Single</text>
<line x1="370.85" y1="952.10" x2="370.85" y2="955.80" stroke="#333" stroke-width="1.0"/>
<text font-size="8.1" text-anchor="end" fill="#222" transform="translate(374.65 963.00) rotate(-45)">Double</text>
<text x="418.34" y="798.00" font-size="8.45" text-anchor="middle" fill="#111">XDV.1</text>
<line x1="392.34" y1="934.80" x2="444.14" y2="934.80" stroke="#9c9c9c" stroke-width="0.9" stroke-dasharray="3.2 2.6"/>
<circle cx="406.54" cy="899.03" r="2.75" fill="#a464dc" fill-opacity="0.5"/>
<circle cx="406.54" cy="904.94" r="2.75" fill="#a464dc" fill-opacity="0.5"/>
<circle cx="406.54" cy="911.78" r="2.75" fill="#a464dc" fill-opacity="0.5"/>
<circle cx="406.54" cy="917.69" r="2.75" fill="#a464dc" fill-opacity="0.5"/>
<circle cx="406.54" cy="918.94" r="2.75" fill="#a464dc" fill-opacity="0.5"/>
<circle cx="406.54" cy="919.87" r="2.75" fill="#a464dc" fill-opacity="0.5"/>
<circle cx="406.54" cy="922.05" r="2.75" fill="#a464dc" fill-opacity="0.5"/>
<circle cx="406.54" cy="925.78" r="2.75" fill="#a464dc" fill-opacity="0.5"/>
<circle cx="406.54" cy="943.50" r="2.75" fill="#a464dc" fill-opacity="0.5"/>
<circle cx="406.54" cy="943.50" r="2.75" fill="#a464dc" fill-opacity="0.5"/>
<circle cx="430.34" cy="903.07" r="2.75" fill="#a464dc" fill-opacity="0.5"/>
<circle cx="430.34" cy="911.78" r="2.75" fill="#a464dc" fill-opacity="0.5"/>
<circle cx="430.34" cy="917.69" r="2.75" fill="#a464dc" fill-opacity="0.5"/>
<circle cx="430.34" cy="918.94" r="2.75" fill="#a464dc" fill-opacity="0.5"/>
<circle cx="430.34" cy="920.80" r="2.75" fill="#a464dc" fill-opacity="0.5"/>
<circle cx="430.34" cy="923.60" r="2.75" fill="#a464dc" fill-opacity="0.5"/>
<circle cx="430.34" cy="924.53" r="2.75" fill="#a464dc" fill-opacity="0.5"/>
<circle cx="430.34" cy="926.71" r="2.75" fill="#a464dc" fill-opacity="0.5"/>
<circle cx="430.34" cy="928.26" r="2.75" fill="#a464dc" fill-opacity="0.5"/>
<circle cx="430.34" cy="930.13" r="2.75" fill="#a464dc" fill-opacity="0.5"/>
<circle cx="430.34" cy="943.50" r="2.75" fill="#a464dc" fill-opacity="0.5"/>
<circle cx="430.34" cy="943.50" r="2.75" fill="#a464dc" fill-opacity="0.5"/>
<line x1="400.54" y1="919.85" x2="412.54" y2="919.85" stroke="#111" stroke-width="1.8"/>
<text x="406.54" y="828.80" font-size="6.6" text-anchor="middle" fill="#111">132</text>
<line x1="424.34" y1="924.15" x2="436.34" y2="924.15" stroke="#111" stroke-width="1.8"/>
<text x="430.34" y="828.80" font-size="6.6" text-anchor="middle" fill="#111">96</text>
<text x="430.34" y="813.30" font-size="6.6" text-anchor="middle" fill="#111">ns</text>
<text x="430.34" y="821.10" font-size="6.6" text-anchor="middle" fill="#111">0.73x</text>
<line x1="392.34" y1="952.10" x2="444.14" y2="952.10" stroke="#5a5a5a" stroke-width="1.3"/>
<line x1="406.54" y1="952.10" x2="406.54" y2="955.80" stroke="#333" stroke-width="1.0"/>
<text font-size="8.1" text-anchor="end" fill="#222" transform="translate(410.34 963.00) rotate(-45)">Single</text>
<line x1="430.34" y1="952.10" x2="430.34" y2="955.80" stroke="#333" stroke-width="1.0"/>
<text font-size="8.1" text-anchor="end" fill="#222" transform="translate(434.14 963.00) rotate(-45)">Double</text>
<text x="477.83" y="798.00" font-size="8.45" text-anchor="middle" fill="#111">KP.3</text>
<line x1="451.83" y1="934.80" x2="503.63" y2="934.80" stroke="#9c9c9c" stroke-width="0.9" stroke-dasharray="3.2 2.6"/>
<circle cx="466.03" cy="898.10" r="2.75" fill="#5e2a78" fill-opacity="0.5"/>
<circle cx="466.03" cy="903.38" r="2.75" fill="#5e2a78" fill-opacity="0.5"/>
<circle cx="466.03" cy="915.20" r="2.75" fill="#5e2a78" fill-opacity="0.5"/>
<circle cx="466.03" cy="916.45" r="2.75" fill="#5e2a78" fill-opacity="0.5"/>
<circle cx="466.03" cy="920.18" r="2.75" fill="#5e2a78" fill-opacity="0.5"/>
<circle cx="466.03" cy="922.05" r="2.75" fill="#5e2a78" fill-opacity="0.5"/>
<circle cx="466.03" cy="923.60" r="2.75" fill="#5e2a78" fill-opacity="0.5"/>
<circle cx="466.03" cy="928.89" r="2.75" fill="#5e2a78" fill-opacity="0.5"/>
<circle cx="466.03" cy="932.31" r="2.75" fill="#5e2a78" fill-opacity="0.5"/>
<circle cx="466.03" cy="943.50" r="2.75" fill="#5e2a78" fill-opacity="0.5"/>
<circle cx="489.83" cy="905.56" r="2.75" fill="#5e2a78" fill-opacity="0.5"/>
<circle cx="489.83" cy="913.96" r="2.75" fill="#5e2a78" fill-opacity="0.5"/>
<circle cx="489.83" cy="915.51" r="2.75" fill="#5e2a78" fill-opacity="0.5"/>
<circle cx="489.83" cy="917.38" r="2.75" fill="#5e2a78" fill-opacity="0.5"/>
<circle cx="489.83" cy="918.94" r="2.75" fill="#5e2a78" fill-opacity="0.5"/>
<circle cx="489.83" cy="920.18" r="2.75" fill="#5e2a78" fill-opacity="0.5"/>
<circle cx="489.83" cy="922.05" r="2.75" fill="#5e2a78" fill-opacity="0.5"/>
<circle cx="489.83" cy="922.67" r="2.75" fill="#5e2a78" fill-opacity="0.5"/>
<circle cx="489.83" cy="925.15" r="2.75" fill="#5e2a78" fill-opacity="0.5"/>
<circle cx="489.83" cy="929.51" r="2.75" fill="#5e2a78" fill-opacity="0.5"/>
<circle cx="489.83" cy="943.50" r="2.75" fill="#5e2a78" fill-opacity="0.5"/>
<circle cx="489.83" cy="943.50" r="2.75" fill="#5e2a78" fill-opacity="0.5"/>
<line x1="460.03" y1="920.59" x2="472.03" y2="920.59" stroke="#111" stroke-width="1.8"/>
<text x="466.03" y="828.80" font-size="6.6" text-anchor="middle" fill="#111">125</text>
<line x1="483.83" y1="924.73" x2="495.83" y2="924.73" stroke="#111" stroke-width="1.8"/>
<text x="489.83" y="828.80" font-size="6.6" text-anchor="middle" fill="#111">92</text>
<text x="489.83" y="813.30" font-size="6.6" text-anchor="middle" fill="#111">ns</text>
<text x="489.83" y="821.10" font-size="6.6" text-anchor="middle" fill="#111">0.74x</text>
<line x1="451.83" y1="952.10" x2="503.63" y2="952.10" stroke="#5a5a5a" stroke-width="1.3"/>
<line x1="466.03" y1="952.10" x2="466.03" y2="955.80" stroke="#333" stroke-width="1.0"/>
<text font-size="8.1" text-anchor="end" fill="#222" transform="translate(469.83 963.00) rotate(-45)">Single</text>
<line x1="489.83" y1="952.10" x2="489.83" y2="955.80" stroke="#333" stroke-width="1.0"/>
<text font-size="8.1" text-anchor="end" fill="#222" transform="translate(493.63 963.00) rotate(-45)">Double</text>
<text x="537.32" y="798.00" font-size="8.45" text-anchor="middle" fill="#111">KP.3.1.1</text>
<line x1="511.32" y1="934.80" x2="563.12" y2="934.80" stroke="#9c9c9c" stroke-width="0.9" stroke-dasharray="3.2 2.6"/>
<circle cx="525.52" cy="908.36" r="2.75" fill="#8a52a6" fill-opacity="0.5"/>
<circle cx="525.52" cy="915.20" r="2.75" fill="#8a52a6" fill-opacity="0.5"/>
<circle cx="525.52" cy="920.80" r="2.75" fill="#8a52a6" fill-opacity="0.5"/>
<circle cx="525.52" cy="925.15" r="2.75" fill="#8a52a6" fill-opacity="0.5"/>
<circle cx="525.52" cy="929.51" r="2.75" fill="#8a52a6" fill-opacity="0.5"/>
<circle cx="525.52" cy="931.69" r="2.75" fill="#8a52a6" fill-opacity="0.5"/>
<circle cx="525.52" cy="932.31" r="2.75" fill="#8a52a6" fill-opacity="0.5"/>
<circle cx="525.52" cy="933.24" r="2.75" fill="#8a52a6" fill-opacity="0.5"/>
<circle cx="525.52" cy="943.50" r="2.75" fill="#8a52a6" fill-opacity="0.5"/>
<circle cx="525.52" cy="943.50" r="2.75" fill="#8a52a6" fill-opacity="0.5"/>
<circle cx="549.32" cy="910.54" r="2.75" fill="#8a52a6" fill-opacity="0.5"/>
<circle cx="549.32" cy="920.18" r="2.75" fill="#8a52a6" fill-opacity="0.5"/>
<circle cx="549.32" cy="929.51" r="2.75" fill="#8a52a6" fill-opacity="0.5"/>
<circle cx="549.32" cy="930.44" r="2.75" fill="#8a52a6" fill-opacity="0.5"/>
<circle cx="549.32" cy="931.69" r="2.75" fill="#8a52a6" fill-opacity="0.5"/>
<circle cx="549.32" cy="932.93" r="2.75" fill="#8a52a6" fill-opacity="0.5"/>
<circle cx="549.32" cy="934.49" r="2.75" fill="#8a52a6" fill-opacity="0.5"/>
<circle cx="549.32" cy="936.04" r="2.75" fill="#8a52a6" fill-opacity="0.5"/>
<circle cx="549.32" cy="939.15" r="2.75" fill="#8a52a6" fill-opacity="0.5"/>
<circle cx="549.32" cy="943.50" r="2.75" fill="#8a52a6" fill-opacity="0.5"/>
<circle cx="549.32" cy="943.50" r="2.75" fill="#8a52a6" fill-opacity="0.5"/>
<circle cx="549.32" cy="943.50" r="2.75" fill="#8a52a6" fill-opacity="0.5"/>
<line x1="519.52" y1="929.84" x2="531.52" y2="929.84" stroke="#111" stroke-width="1.8"/>
<text x="525.52" y="828.80" font-size="6.6" text-anchor="middle" fill="#111">63</text>
<line x1="543.32" y1="934.09" x2="555.32" y2="934.09" stroke="#111" stroke-width="1.8"/>
<text x="549.32" y="828.80" font-size="6.6" text-anchor="middle" fill="#111">46</text>
<text x="549.32" y="813.30" font-size="6.6" text-anchor="middle" fill="#111">ns</text>
<text x="549.32" y="821.10" font-size="6.6" text-anchor="middle" fill="#111">0.73x</text>
<line x1="511.32" y1="952.10" x2="563.12" y2="952.10" stroke="#5a5a5a" stroke-width="1.3"/>
<line x1="525.52" y1="952.10" x2="525.52" y2="955.80" stroke="#333" stroke-width="1.0"/>
<text font-size="8.1" text-anchor="end" fill="#222" transform="translate(529.32 963.00) rotate(-45)">Single</text>
<line x1="549.32" y1="952.10" x2="549.32" y2="955.80" stroke="#333" stroke-width="1.0"/>
<text font-size="8.1" text-anchor="end" fill="#222" transform="translate(553.12 963.00) rotate(-45)">Double</text>
<text x="596.81" y="798.00" font-size="8.45" text-anchor="middle" fill="#111">XEC</text>
<line x1="570.81" y1="934.80" x2="622.61" y2="934.80" stroke="#9c9c9c" stroke-width="0.9" stroke-dasharray="3.2 2.6"/>
<circle cx="585.01" cy="912.09" r="2.75" fill="#e08cc8" fill-opacity="0.5"/>
<circle cx="585.01" cy="914.89" r="2.75" fill="#e08cc8" fill-opacity="0.5"/>
<circle cx="585.01" cy="920.80" r="2.75" fill="#e08cc8" fill-opacity="0.5"/>
<circle cx="585.01" cy="922.67" r="2.75" fill="#e08cc8" fill-opacity="0.5"/>
<circle cx="585.01" cy="925.78" r="2.75" fill="#e08cc8" fill-opacity="0.5"/>
<circle cx="585.01" cy="929.82" r="2.75" fill="#e08cc8" fill-opacity="0.5"/>
<circle cx="585.01" cy="930.13" r="2.75" fill="#e08cc8" fill-opacity="0.5"/>
<circle cx="585.01" cy="932.31" r="2.75" fill="#e08cc8" fill-opacity="0.5"/>
<circle cx="585.01" cy="934.49" r="2.75" fill="#e08cc8" fill-opacity="0.5"/>
<circle cx="585.01" cy="943.50" r="2.75" fill="#e08cc8" fill-opacity="0.5"/>
<circle cx="608.81" cy="905.87" r="2.75" fill="#e08cc8" fill-opacity="0.5"/>
<circle cx="608.81" cy="908.98" r="2.75" fill="#e08cc8" fill-opacity="0.5"/>
<circle cx="608.81" cy="926.40" r="2.75" fill="#e08cc8" fill-opacity="0.5"/>
<circle cx="608.81" cy="932.31" r="2.75" fill="#e08cc8" fill-opacity="0.5"/>
<circle cx="608.81" cy="934.49" r="2.75" fill="#e08cc8" fill-opacity="0.5"/>
<circle cx="608.81" cy="943.50" r="2.75" fill="#e08cc8" fill-opacity="0.5"/>
<circle cx="608.81" cy="943.50" r="2.75" fill="#e08cc8" fill-opacity="0.5"/>
<circle cx="608.81" cy="943.50" r="2.75" fill="#e08cc8" fill-opacity="0.5"/>
<circle cx="608.81" cy="943.50" r="2.75" fill="#e08cc8" fill-opacity="0.5"/>
<circle cx="608.81" cy="943.50" r="2.75" fill="#e08cc8" fill-opacity="0.5"/>
<circle cx="608.81" cy="943.50" r="2.75" fill="#e08cc8" fill-opacity="0.5"/>
<circle cx="608.81" cy="943.50" r="2.75" fill="#e08cc8" fill-opacity="0.5"/>
<line x1="579.01" y1="925.80" x2="591.01" y2="925.80" stroke="#111" stroke-width="1.8"/>
<text x="585.01" y="828.80" font-size="6.6" text-anchor="middle" fill="#111">85</text>
<line x1="602.81" y1="932.69" x2="614.81" y2="932.69" stroke="#111" stroke-width="1.8"/>
<text x="608.81" y="828.80" font-size="6.6" text-anchor="middle" fill="#111">51</text>
<text x="608.81" y="813.30" font-size="6.6" text-anchor="middle" fill="#111">ns</text>
<text x="608.81" y="821.10" font-size="6.6" text-anchor="middle" fill="#111">0.6x</text>
<line x1="570.81" y1="952.10" x2="622.61" y2="952.10" stroke="#5a5a5a" stroke-width="1.3"/>
<line x1="585.01" y1="952.10" x2="585.01" y2="955.80" stroke="#333" stroke-width="1.0"/>
<text font-size="8.1" text-anchor="end" fill="#222" transform="translate(588.81 963.00) rotate(-45)">Single</text>
<line x1="608.81" y1="952.10" x2="608.81" y2="955.80" stroke="#333" stroke-width="1.0"/>
<text font-size="8.1" text-anchor="end" fill="#222" transform="translate(612.61 963.00) rotate(-45)">Double</text>
<text x="656.30" y="798.00" font-size="8.45" text-anchor="middle" fill="#111">SARS-CoV</text>
<line x1="630.30" y1="934.80" x2="682.10" y2="934.80" stroke="#9c9c9c" stroke-width="0.9" stroke-dasharray="3.2 2.6"/>
<circle cx="644.50" cy="869.18" r="2.75" fill="#6a7f30" fill-opacity="0.5"/>
<circle cx="644.50" cy="879.75" r="2.75" fill="#6a7f30" fill-opacity="0.5"/>
<circle cx="644.50" cy="881.62" r="2.75" fill="#6a7f30" fill-opacity="0.5"/>
<circle cx="644.50" cy="884.10" r="2.75" fill="#6a7f30" fill-opacity="0.5"/>
<circle cx="644.50" cy="886.90" r="2.75" fill="#6a7f30" fill-opacity="0.5"/>
<circle cx="644.50" cy="889.39" r="2.75" fill="#6a7f30" fill-opacity="0.5"/>
<circle cx="644.50" cy="890.95" r="2.75" fill="#6a7f30" fill-opacity="0.5"/>
<circle cx="644.50" cy="891.88" r="2.75" fill="#6a7f30" fill-opacity="0.5"/>
<circle cx="644.50" cy="894.68" r="2.75" fill="#6a7f30" fill-opacity="0.5"/>
<circle cx="644.50" cy="898.10" r="2.75" fill="#6a7f30" fill-opacity="0.5"/>
<circle cx="668.30" cy="874.46" r="2.75" fill="#6a7f30" fill-opacity="0.5"/>
<circle cx="668.30" cy="895.61" r="2.75" fill="#6a7f30" fill-opacity="0.5"/>
<circle cx="668.30" cy="898.10" r="2.75" fill="#6a7f30" fill-opacity="0.5"/>
<circle cx="668.30" cy="900.90" r="2.75" fill="#6a7f30" fill-opacity="0.5"/>
<circle cx="668.30" cy="903.38" r="2.75" fill="#6a7f30" fill-opacity="0.5"/>
<circle cx="668.30" cy="904.94" r="2.75" fill="#6a7f30" fill-opacity="0.5"/>
<circle cx="668.30" cy="905.87" r="2.75" fill="#6a7f30" fill-opacity="0.5"/>
<circle cx="668.30" cy="908.05" r="2.75" fill="#6a7f30" fill-opacity="0.5"/>
<circle cx="668.30" cy="908.67" r="2.75" fill="#6a7f30" fill-opacity="0.5"/>
<circle cx="668.30" cy="911.16" r="2.75" fill="#6a7f30" fill-opacity="0.5"/>
<circle cx="668.30" cy="921.73" r="2.75" fill="#6a7f30" fill-opacity="0.5"/>
<circle cx="668.30" cy="922.67" r="2.75" fill="#6a7f30" fill-opacity="0.5"/>
<line x1="638.50" y1="887.38" x2="650.50" y2="887.38" stroke="#111" stroke-width="1.8"/>
<text x="644.50" y="828.80" font-size="6.6" text-anchor="middle" fill="#111">1461</text>
<line x1="662.30" y1="904.58" x2="674.30" y2="904.58" stroke="#111" stroke-width="1.8"/>
<text x="668.30" y="828.80" font-size="6.6" text-anchor="middle" fill="#111">409</text>
<text x="668.30" y="812.60" font-size="7.4" text-anchor="middle" fill="#111">***</text>
<text x="668.30" y="821.10" font-size="6.6" text-anchor="middle" fill="#111">0.28x</text>
<line x1="630.30" y1="952.10" x2="682.10" y2="952.10" stroke="#5a5a5a" stroke-width="1.3"/>
<line x1="644.50" y1="952.10" x2="644.50" y2="955.80" stroke="#333" stroke-width="1.0"/>
<text font-size="8.1" text-anchor="end" fill="#222" transform="translate(648.30 963.00) rotate(-45)">Single</text>
<line x1="668.30" y1="952.10" x2="668.30" y2="955.80" stroke="#333" stroke-width="1.0"/>
<text font-size="8.1" text-anchor="end" fill="#222" transform="translate(672.10 963.00) rotate(-45)">Double</text>
</svg>
</body></html>
